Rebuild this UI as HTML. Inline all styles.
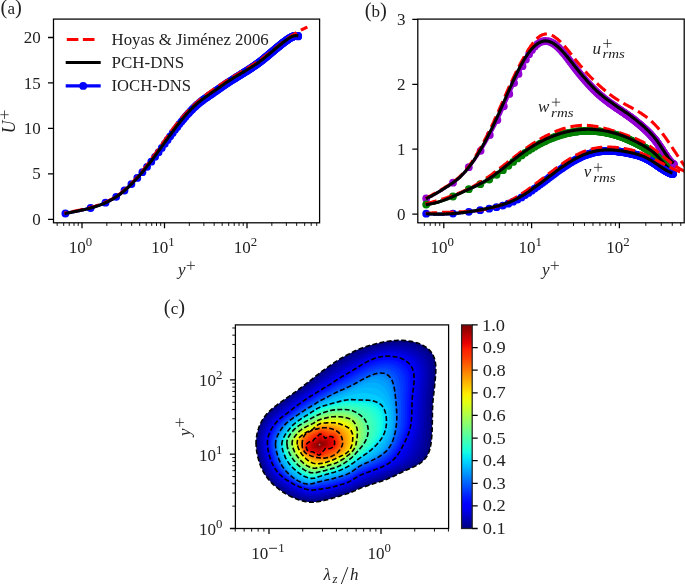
<!DOCTYPE html>
<html><head><meta charset="utf-8"><style>
html,body{margin:0;padding:0;background:#fff;}
svg{display:block;will-change:transform;}
svg{font-family:"Liberation Serif",serif;font-size:17px;fill:#222;}
</style></head><body>
<svg width="685" height="585" viewBox="0 0 685 585">
<rect width="685" height="585" fill="#fff"/>
<g id="pa">
<g fill="#0000ff"><circle cx="65.4" cy="213.5" r="3.9"/><circle cx="90.6" cy="208" r="3.9"/><circle cx="105.5" cy="202.7" r="3.9"/><circle cx="116.2" cy="196.8" r="3.9"/><circle cx="124.5" cy="190.5" r="3.9"/><circle cx="131.4" cy="184.1" r="3.9"/><circle cx="137.3" cy="177.9" r="3.9"/><circle cx="142.4" cy="172.2" r="3.9"/><circle cx="147.1" cy="166.8" r="3.9"/><circle cx="151.3" cy="161.7" r="3.9"/><circle cx="155.1" cy="156.8" r="3.9"/><circle cx="158.6" cy="152.3" r="3.9"/><circle cx="161.8" cy="147.9" r="3.9"/><circle cx="164.8" cy="143.8" r="3.9"/><circle cx="167.6" cy="140" r="3.9"/><circle cx="170.2" cy="136.3" r="3.9"/><circle cx="172.7" cy="133" r="3.9"/><circle cx="175" cy="129.8" r="3.9"/><circle cx="177.3" cy="126.9" r="3.9"/><circle cx="179.4" cy="124.1" r="3.9"/><circle cx="181.5" cy="121.6" r="3.9"/><circle cx="183.4" cy="119.2" r="3.9"/><circle cx="185.3" cy="116.9" r="3.9"/><circle cx="187.1" cy="114.8" r="3.9"/><circle cx="188.9" cy="112.9" r="3.9"/><circle cx="190.6" cy="111.1" r="3.9"/><circle cx="192.2" cy="109.4" r="3.9"/><circle cx="193.8" cy="107.8" r="3.9"/><circle cx="195.3" cy="106.4" r="3.9"/><circle cx="196.8" cy="105" r="3.9"/><circle cx="198.3" cy="103.8" r="3.9"/><circle cx="199.7" cy="102.6" r="3.9"/><circle cx="201.1" cy="101.5" r="3.9"/><circle cx="202.4" cy="100.5" r="3.9"/><circle cx="203.7" cy="99.5" r="3.9"/><circle cx="205" cy="98.6" r="3.9"/><circle cx="206.2" cy="97.7" r="3.9"/><circle cx="207.5" cy="96.9" r="3.9"/><circle cx="208.6" cy="96" r="3.9"/><circle cx="209.8" cy="95.2" r="3.9"/><circle cx="211" cy="94.4" r="3.9"/><circle cx="212.1" cy="93.7" r="3.9"/><circle cx="213.2" cy="92.9" r="3.9"/><circle cx="214.2" cy="92.1" r="3.9"/><circle cx="215.3" cy="91.4" r="3.9"/><circle cx="216.3" cy="90.7" r="3.9"/><circle cx="217.4" cy="89.9" r="3.9"/><circle cx="218.4" cy="89.2" r="3.9"/><circle cx="219.3" cy="88.6" r="3.9"/><circle cx="220.3" cy="87.9" r="3.9"/><circle cx="221.2" cy="87.2" r="3.9"/><circle cx="222.2" cy="86.6" r="3.9"/><circle cx="223.1" cy="85.9" r="3.9"/><circle cx="224" cy="85.3" r="3.9"/><circle cx="224.9" cy="84.7" r="3.9"/><circle cx="225.8" cy="84.1" r="3.9"/><circle cx="226.6" cy="83.5" r="3.9"/><circle cx="227.5" cy="82.9" r="3.9"/><circle cx="228.3" cy="82.4" r="3.9"/><circle cx="229.2" cy="81.8" r="3.9"/><circle cx="230" cy="81.3" r="3.9"/><circle cx="230.8" cy="80.8" r="3.9"/><circle cx="231.6" cy="80.3" r="3.9"/><circle cx="232.4" cy="79.8" r="3.9"/><circle cx="233.1" cy="79.3" r="3.9"/><circle cx="233.9" cy="78.8" r="3.9"/><circle cx="234.7" cy="78.4" r="3.9"/><circle cx="235.4" cy="77.9" r="3.9"/><circle cx="236.1" cy="77.4" r="3.9"/><circle cx="236.9" cy="77" r="3.9"/><circle cx="237.6" cy="76.6" r="3.9"/><circle cx="238.3" cy="76.1" r="3.9"/><circle cx="239" cy="75.7" r="3.9"/><circle cx="239.7" cy="75.3" r="3.9"/><circle cx="240.3" cy="74.8" r="3.9"/><circle cx="241" cy="74.4" r="3.9"/><circle cx="241.7" cy="74" r="3.9"/><circle cx="242.3" cy="73.6" r="3.9"/><circle cx="243" cy="73.2" r="3.9"/><circle cx="243.6" cy="72.8" r="3.9"/><circle cx="244.3" cy="72.4" r="3.9"/><circle cx="244.9" cy="72" r="3.9"/><circle cx="245.5" cy="71.6" r="3.9"/><circle cx="246.1" cy="71.2" r="3.9"/><circle cx="246.8" cy="70.9" r="3.9"/><circle cx="247.4" cy="70.5" r="3.9"/><circle cx="248" cy="70.1" r="3.9"/><circle cx="248.6" cy="69.7" r="3.9"/><circle cx="249.2" cy="69.3" r="3.9"/><circle cx="249.7" cy="69" r="3.9"/><circle cx="250.3" cy="68.6" r="3.9"/><circle cx="250.9" cy="68.2" r="3.9"/><circle cx="251.5" cy="67.8" r="3.9"/><circle cx="252" cy="67.5" r="3.9"/><circle cx="252.6" cy="67.1" r="3.9"/><circle cx="253.1" cy="66.7" r="3.9"/><circle cx="253.7" cy="66.3" r="3.9"/><circle cx="254.2" cy="66" r="3.9"/><circle cx="254.8" cy="65.6" r="3.9"/><circle cx="255.3" cy="65.2" r="3.9"/><circle cx="255.8" cy="64.8" r="3.9"/><circle cx="256.4" cy="64.5" r="3.9"/><circle cx="256.9" cy="64.1" r="3.9"/><circle cx="257.4" cy="63.7" r="3.9"/><circle cx="257.9" cy="63.3" r="3.9"/><circle cx="258.4" cy="63" r="3.9"/><circle cx="258.9" cy="62.6" r="3.9"/><circle cx="259.4" cy="62.2" r="3.9"/><circle cx="259.9" cy="61.8" r="3.9"/><circle cx="260.4" cy="61.4" r="3.9"/><circle cx="260.9" cy="61.1" r="3.9"/><circle cx="261.4" cy="60.7" r="3.9"/><circle cx="261.9" cy="60.3" r="3.9"/><circle cx="262.4" cy="59.9" r="3.9"/><circle cx="262.9" cy="59.5" r="3.9"/><circle cx="263.3" cy="59.1" r="3.9"/><circle cx="263.8" cy="58.8" r="3.9"/><circle cx="264.3" cy="58.4" r="3.9"/><circle cx="264.7" cy="58" r="3.9"/><circle cx="265.2" cy="57.6" r="3.9"/><circle cx="265.6" cy="57.2" r="3.9"/><circle cx="266.1" cy="56.9" r="3.9"/><circle cx="266.6" cy="56.5" r="3.9"/><circle cx="267" cy="56.1" r="3.9"/><circle cx="267.5" cy="55.8" r="3.9"/><circle cx="267.9" cy="55.4" r="3.9"/><circle cx="268.3" cy="55" r="3.9"/><circle cx="268.8" cy="54.7" r="3.9"/><circle cx="269.2" cy="54.3" r="3.9"/><circle cx="269.7" cy="53.9" r="3.9"/><circle cx="270.1" cy="53.6" r="3.9"/><circle cx="270.5" cy="53.2" r="3.9"/><circle cx="270.9" cy="52.8" r="3.9"/><circle cx="271.4" cy="52.5" r="3.9"/><circle cx="271.8" cy="52.1" r="3.9"/><circle cx="272.2" cy="51.8" r="3.9"/><circle cx="272.6" cy="51.4" r="3.9"/><circle cx="273" cy="51.1" r="3.9"/><circle cx="273.4" cy="50.7" r="3.9"/><circle cx="273.8" cy="50.4" r="3.9"/><circle cx="274.2" cy="50.1" r="3.9"/><circle cx="274.6" cy="49.7" r="3.9"/><circle cx="275" cy="49.4" r="3.9"/><circle cx="275.4" cy="49.1" r="3.9"/><circle cx="275.8" cy="48.7" r="3.9"/><circle cx="276.2" cy="48.4" r="3.9"/><circle cx="276.6" cy="48.1" r="3.9"/><circle cx="277" cy="47.7" r="3.9"/><circle cx="277.4" cy="47.4" r="3.9"/><circle cx="277.8" cy="47.1" r="3.9"/><circle cx="278.2" cy="46.8" r="3.9"/><circle cx="278.5" cy="46.5" r="3.9"/><circle cx="278.9" cy="46.2" r="3.9"/><circle cx="279.3" cy="45.9" r="3.9"/><circle cx="279.7" cy="45.6" r="3.9"/><circle cx="280" cy="45.3" r="3.9"/><circle cx="280.4" cy="45" r="3.9"/><circle cx="280.8" cy="44.7" r="3.9"/><circle cx="281.1" cy="44.4" r="3.9"/><circle cx="281.5" cy="44.1" r="3.9"/><circle cx="281.9" cy="43.8" r="3.9"/><circle cx="282.2" cy="43.5" r="3.9"/><circle cx="282.6" cy="43.2" r="3.9"/><circle cx="282.9" cy="43" r="3.9"/><circle cx="283.3" cy="42.7" r="3.9"/><circle cx="283.6" cy="42.4" r="3.9"/><circle cx="284" cy="42.1" r="3.9"/><circle cx="284.3" cy="41.9" r="3.9"/><circle cx="284.7" cy="41.6" r="3.9"/><circle cx="285" cy="41.4" r="3.9"/><circle cx="285.4" cy="41.1" r="3.9"/><circle cx="285.7" cy="40.9" r="3.9"/><circle cx="286.1" cy="40.6" r="3.9"/><circle cx="286.4" cy="40.4" r="3.9"/><circle cx="286.7" cy="40.1" r="3.9"/><circle cx="287.1" cy="39.9" r="3.9"/><circle cx="287.4" cy="39.7" r="3.9"/><circle cx="287.7" cy="39.4" r="3.9"/><circle cx="288.1" cy="39.2" r="3.9"/><circle cx="288.4" cy="39" r="3.9"/><circle cx="288.7" cy="38.8" r="3.9"/><circle cx="289" cy="38.6" r="3.9"/><circle cx="289.4" cy="38.3" r="3.9"/><circle cx="289.7" cy="38.1" r="3.9"/><circle cx="290" cy="38" r="3.9"/><circle cx="290.3" cy="37.8" r="3.9"/><circle cx="290.6" cy="37.6" r="3.9"/><circle cx="291" cy="37.4" r="3.9"/><circle cx="291.3" cy="37.3" r="3.9"/><circle cx="291.6" cy="37.1" r="3.9"/><circle cx="291.9" cy="37" r="3.9"/><circle cx="292.2" cy="36.8" r="3.9"/><circle cx="292.5" cy="36.7" r="3.9"/><circle cx="292.8" cy="36.6" r="3.9"/><circle cx="293.1" cy="36.4" r="3.9"/><circle cx="293.4" cy="36.3" r="3.9"/><circle cx="293.7" cy="36.2" r="3.9"/><circle cx="294" cy="36.2" r="3.9"/><circle cx="294.3" cy="36.1" r="3.9"/><circle cx="294.6" cy="36" r="3.9"/><circle cx="294.9" cy="36" r="3.9"/><circle cx="295.2" cy="35.9" r="3.9"/><circle cx="295.5" cy="35.9" r="3.9"/><circle cx="295.8" cy="35.8" r="3.9"/><circle cx="296.1" cy="35.8" r="3.9"/><circle cx="296.4" cy="35.8" r="3.9"/><circle cx="296.7" cy="35.8" r="3.9"/><circle cx="297" cy="35.8" r="3.9"/><circle cx="297.3" cy="35.9" r="3.9"/><circle cx="297.6" cy="35.9" r="3.9"/><circle cx="297.9" cy="35.9" r="3.9"/><circle cx="298.1" cy="36" r="3.9"/><circle cx="298.1" cy="36.4" r="3.9"/></g>
<path d="M64.6,213.7 65.3,213.6 66,213.4 66.7,213.2 67.4,213.1 68.1,212.9 68.8,212.8 69.5,212.7 70.2,212.5 70.9,212.4 71.6,212.2 72.3,212.1 73,211.9 73.7,211.8 74.4,211.6 75.1,211.5 75.8,211.4 76.5,211.2 77.2,211.1 77.9,210.9 78.6,210.8 79.3,210.6 80,210.5 80.7,210.3 81.4,210.2 82.1,210 82.8,209.9 83.5,209.7 84.2,209.6 84.9,209.4 85.6,209.2 86.3,209.1 87,208.9 87.7,208.7 88.4,208.6 89.1,208.4 89.8,208.2 90.5,208 91.2,207.8 91.9,207.6 92.6,207.4 93.3,207.2 94,207 94.7,206.8 95.4,206.6 96.1,206.3 96.8,206.1 97.5,205.9 98.2,205.6 98.9,205.4 99.6,205.1 100.3,204.9 101,204.6 101.7,204.3 102.4,204 103.1,203.8 103.8,203.5 104.5,203.2 105.2,202.8 105.9,202.5 106.6,202.2 107.3,201.9 108,201.5 108.7,201.2 109.4,200.8 110.1,200.4 110.8,200 111.5,199.7 112.2,199.3 112.9,198.9 113.6,198.4 114.3,198 115,197.6 115.7,197.1 116.4,196.7 117.1,196.2 117.8,195.7 118.5,195.2 119.2,194.7 119.9,194.2 120.6,193.7 121.3,193.1 122,192.6 122.7,192 123.4,191.5 124.1,190.9 124.8,190.3 125.5,189.7 126.2,189 126.9,188.4 127.6,187.8 128.3,187.1 129,186.4 129.7,185.8 130.4,185.1 131.1,184.4 131.8,183.7 132.5,183 133.2,182.3 133.9,181.5 134.6,180.8 135.3,180 136,179.3 136.7,178.5 137.4,177.8 138.1,177 138.8,176.2 139.5,175.4 140.2,174.6 140.9,173.9 141.6,173.1 142.3,172.3 143.1,171.5 143.8,170.7 144.5,169.8 145.2,169 145.9,168.2 146.6,167.3 147.3,166.5 148.1,165.6 148.8,164.7 149.5,163.9 150.2,163 150.9,162.1 151.6,161.2 152.3,160.3 153.1,159.4 153.8,158.5 154.5,157.6 155.2,156.7 155.9,155.7 156.6,154.8 157.3,153.9 158.1,153 158.8,152 159.5,151.1 160.2,150.2 160.9,149.2 161.6,148.2 162.3,147.3 163,146.3 163.7,145.3 164.4,144.3 165.1,143.4 165.8,142.4 166.5,141.4 167.2,140.5 167.9,139.5 168.6,138.5 169.3,137.6 170,136.6 170.7,135.7 171.4,134.7 172.1,133.7 172.8,132.8 173.5,131.9 174.2,130.9 174.9,130 175.6,129.1 176.3,128.1 177,127.2 177.7,126.3 178.4,125.4 179.1,124.5 179.8,123.6 180.5,122.7 181.2,121.9 181.9,121 182.6,120.2 183.3,119.3 184,118.5 184.7,117.6 185.4,116.8 186.1,116 186.8,115.2 187.5,114.4 188.2,113.6 188.9,112.9 189.6,112.1 190.3,111.4 191,110.6 191.7,109.9 192.4,109.2 193.1,108.5 193.8,107.8 194.5,107.2 195.2,106.5 195.9,105.9 196.6,105.2 197.3,104.6 198,104 198.7,103.5 199.4,102.9 200.1,102.3 200.8,101.8 201.5,101.2 202.2,100.7 202.9,100.1 203.6,99.6 204.3,99.1 205,98.6 205.7,98.1 206.4,97.6 207.1,97.1 207.8,96.6 208.5,96.1 209.2,95.6 209.9,95.2 210.6,94.7 211.3,94.2 212,93.7 212.7,93.2 213.4,92.7 214.1,92.2 214.8,91.7 215.5,91.3 216.2,90.8 216.9,90.3 217.6,89.8 218.3,89.3 219,88.8 219.7,88.3 220.4,87.8 221.1,87.3 221.8,86.8 222.5,86.3 223.2,85.9 223.9,85.4 224.6,84.9 225.3,84.4 226,83.9 226.7,83.5 227.4,83 228.1,82.5 228.8,82.1 229.5,81.6 230.2,81.1 230.9,80.7 231.6,80.3 232.3,79.8 233,79.4 233.7,78.9 234.4,78.5 235.1,78.1 235.8,77.7 236.5,77.2 237.2,76.8 237.9,76.4 238.6,75.9 239.3,75.5 240,75.1 240.7,74.6 241.3,74.2 242,73.8 242.7,73.4 243.4,72.9 244.1,72.5 244.8,72.1 245.5,71.6 246.2,71.2 246.9,70.8 247.6,70.3 248.3,69.9 249,69.5 249.7,69 250.4,68.6 251.1,68.1 251.7,67.6 252.4,67.2 253.1,66.7 253.8,66.2 254.5,65.8 255.2,65.3 255.9,64.8 256.6,64.3 257.3,63.8 258,63.3 258.7,62.8 259.4,62.3 260.1,61.7 260.8,61.2 261.5,60.7 262.1,60.1 262.8,59.5 263.5,59 264.2,58.4 264.9,57.8 265.6,57.3 266.3,56.7 267,56.1 267.7,55.5 268.4,55 269.1,54.4 269.8,53.8 270.5,53.2 271.2,52.6 271.9,52 272.6,51.4 273.3,50.8 274,50.2 274.7,49.7 275.4,49.1 276.1,48.5 276.8,47.9 277.5,47.3 278.2,46.7 278.9,46.2 279.6,45.6 280.3,45 281,44.5 281.7,43.9 282.4,43.4 283.1,42.8 283.8,42.3 284.5,41.8 285.2,41.2 285.9,40.7 286.6,40.2 287.3,39.7 288,39.2 288.7,38.8 289.4,38.3 290.1,37.9 290.8,37.5 291.5,37.1 292.2,36.8 292.9,36.5 293.6,36.3 294.3,36.1 295,35.9 295.7,35.8 296.4,35.8 297.1,35.8 297.8,35.9 298.5,36.1" fill="none" stroke="#0000ff" stroke-width="3.1"/>
<path d="M64.4,213.3 65.1,213.1 65.8,213 66.5,212.8 67.2,212.7 67.9,212.5 68.6,212.4 69.3,212.2 70,212.1 70.7,211.9 71.4,211.8 72.1,211.6 72.8,211.5 73.5,211.3 74.2,211.2 74.9,211.1 75.6,210.9 76.3,210.8 77,210.6 77.7,210.5 78.4,210.3 79.1,210.2 79.8,210.1 80.5,209.9 81.2,209.8 81.9,209.6 82.6,209.5 83.3,209.3 84,209.2 84.7,209 85.4,208.8 86.1,208.7 86.8,208.5 87.5,208.3 88.2,208.2 88.9,208 89.6,207.8 90.3,207.6 91,207.4 91.7,207.2 92.4,207 93.1,206.8 93.8,206.6 94.5,206.4 95.2,206.2 95.9,206 96.6,205.8 97.3,205.5 98,205.3 98.7,205 99.4,204.8 100.1,204.5 100.8,204.3 101.5,204 102.2,203.7 102.9,203.4 103.6,203.1 104.3,202.8 105,202.5 105.7,202.2 106.4,201.9 107.1,201.5 107.8,201.2 108.5,200.9 109.2,200.5 109.9,200.1 110.6,199.7 111.3,199.4 112,199 112.7,198.6 113.4,198.1 114.1,197.7 114.8,197.3 115.5,196.8 116.2,196.4 116.9,195.9 117.6,195.4 118.3,194.9 119,194.4 119.7,193.9 120.4,193.4 121.1,192.8 121.8,192.3 122.5,191.7 123.2,191.1 123.9,190.5 124.6,189.9 125.3,189.3 126,188.7 126.7,188 127.4,187.4 128.1,186.7 128.8,186.1 129.5,185.4 130.2,184.7 130.9,184 131.6,183.3 132.3,182.5 133,181.8 133.7,181 134.4,180.3 135.1,179.5 135.8,178.7 136.5,178 137.2,177.2 137.9,176.4 138.6,175.5 139.3,174.7 140,173.9 140.7,173 141.4,172.2 142.1,171.3 142.8,170.5 143.5,169.6 144.2,168.7 144.9,167.8 145.6,166.9 146.3,166 147,165.1 147.7,164.1 148.4,163.2 149.1,162.2 149.8,161.3 150.5,160.3 151.2,159.4 151.9,158.4 152.6,157.4 153.3,156.4 154,155.5 154.7,154.5 155.4,153.5 156.2,152.5 156.9,151.5 157.6,150.5 158.3,149.5 159,148.4 159.7,147.4 160.4,146.4 161.1,145.4 161.8,144.4 162.5,143.4 163.2,142.4 163.9,141.4 164.6,140.4 165.3,139.4 166,138.4 166.7,137.4 167.4,136.4 168.1,135.4 168.8,134.5 169.5,133.5 170.2,132.5 170.9,131.6 171.6,130.6 172.3,129.7 173,128.7 173.7,127.8 174.4,126.9 175.1,125.9 175.8,125 176.5,124.2 177.2,123.3 177.9,122.4 178.6,121.5 179.3,120.7 180,119.8 180.7,119 181.4,118.2 182.1,117.4 182.8,116.6 183.5,115.8 184.2,115 184.9,114.2 185.6,113.5 186.3,112.7 187,112 187.7,111.2 188.4,110.5 189.1,109.8 189.8,109.1 190.5,108.4 191.2,107.7 191.9,107 192.6,106.3 193.3,105.7 194,105 194.7,104.3 195.4,103.7 196.1,103.1 196.8,102.4 197.5,101.8 198.2,101.2 198.9,100.6 199.6,100 200.3,99.4 201,98.8 201.7,98.2 202.4,97.6 203.1,97.1 203.8,96.5 204.5,95.9 205.2,95.4 205.9,94.8 206.6,94.3 207.3,93.8 208,93.2 208.7,92.7 209.4,92.2 210.1,91.7 210.8,91.2 211.5,90.7 212.2,90.2 212.9,89.7 213.6,89.2 214.3,88.7 215,88.2 215.7,87.7 216.4,87.3 217.1,86.8 217.8,86.3 218.5,85.9 219.2,85.4 219.9,84.9 220.6,84.5 221.3,84 222,83.6 222.7,83.1 223.4,82.7 224.1,82.3 224.8,81.8 225.5,81.4 226.2,81 226.9,80.5 227.6,80.1 228.3,79.7 229,79.3 229.7,78.8 230.4,78.4 231.1,78 231.8,77.6 232.5,77.2 233.2,76.7 233.9,76.3 234.6,75.9 235.3,75.5 236,75.1 236.7,74.7 237.4,74.3 238.1,73.8 238.8,73.4 239.5,73 240.2,72.6 240.9,72.2 241.6,71.8 242.3,71.4 243,70.9 243.7,70.5 244.4,70.1 245.1,69.7 245.8,69.3 246.5,68.8 247.2,68.4 247.9,68 248.6,67.5 249.3,67.1 250,66.7 250.7,66.2 251.4,65.8 252.1,65.3 252.8,64.9 253.5,64.4 254.2,64 254.9,63.5 255.6,63 256.3,62.6 257,62.1 257.7,61.6 258.4,61.1 259.1,60.7 259.8,60.2 260.5,59.7 261.2,59.2 261.9,58.7 262.6,58.1 263.3,57.6 264,57.1 264.7,56.6 265.4,56 266.1,55.5 266.8,55 267.5,54.4 268.2,53.9 268.9,53.4 269.6,52.8 270.3,52.3 271,51.7 271.7,51.1 272.4,50.6 273.1,50 273.8,49.5 274.5,48.9 275.2,48.4 275.9,47.8 276.6,47.3 277.3,46.7 278,46.1 278.7,45.6 279.4,45 280.1,44.5 280.8,43.9 281.5,43.4 282.2,42.8 282.9,42.3 283.6,41.8 284.3,41.2 285,40.7 285.7,40.2 286.4,39.7 287.1,39.1 287.8,38.6 288.5,38.1 289.2,37.6 289.9,37.1 290.6,36.6 291.3,36.1 292,35.6 292.7,35.2 293.4,34.7 294.1,34.2 294.8,33.8 295.5,33.3 296.2,32.9 296.9,32.5 297.6,32 298.3,31.6 299,31.2 299.7,30.8 300.4,30.4 301.1,30 301.8,29.7 302.5,29.3 303.2,29 303.9,28.6 304.6,28.3 305.3,28 306,27.7 306.7,27.4 307.4,27.1" fill="none" stroke="#ff0000" stroke-width="3.1" stroke-dasharray="11.6 5" stroke-dashoffset="9.02"/>
<path d="M64.6,213.7 65.3,213.6 66,213.4 66.7,213.2 67.4,213.1 68.1,212.9 68.8,212.8 69.5,212.7 70.2,212.5 70.9,212.4 71.6,212.2 72.3,212.1 73,211.9 73.7,211.8 74.4,211.6 75.1,211.5 75.8,211.4 76.5,211.2 77.2,211.1 77.9,210.9 78.6,210.8 79.3,210.6 80,210.5 80.7,210.3 81.4,210.2 82.1,210 82.8,209.9 83.5,209.7 84.2,209.6 84.9,209.4 85.6,209.2 86.3,209.1 87,208.9 87.7,208.7 88.4,208.6 89.1,208.4 89.8,208.2 90.5,208 91.2,207.8 91.9,207.6 92.6,207.4 93.3,207.2 94,207 94.7,206.8 95.4,206.6 96.1,206.3 96.8,206.1 97.5,205.9 98.2,205.6 98.9,205.4 99.6,205.1 100.3,204.9 101,204.6 101.7,204.3 102.4,204 103.1,203.8 103.8,203.5 104.5,203.2 105.2,202.8 105.9,202.5 106.6,202.2 107.3,201.9 108,201.5 108.7,201.2 109.4,200.8 110.1,200.4 110.8,200 111.5,199.7 112.2,199.3 112.9,198.9 113.6,198.4 114.3,198 115,197.6 115.7,197.1 116.4,196.7 117.1,196.2 117.8,195.7 118.5,195.2 119.2,194.7 119.9,194.2 120.6,193.7 121.3,193.1 122,192.6 122.7,192 123.4,191.5 124.1,190.9 124.8,190.3 125.5,189.7 126.2,189 126.9,188.4 127.6,187.8 128.3,187.1 129,186.4 129.7,185.8 130.4,185.1 131.1,184.4 131.8,183.7 132.5,183 133.2,182.3 133.9,181.5 134.6,180.8 135.3,180 136,179.3 136.7,178.5 137.4,177.8 138.1,177 138.8,176.2 139.5,175.4 140.2,174.6 140.9,173.8 141.6,173 142.3,172.2 143,171.3 143.7,170.5 144.4,169.6 145.1,168.8 145.8,167.9 146.5,167 147.2,166.1 147.9,165.3 148.6,164.4 149.3,163.4 150,162.5 150.7,161.6 151.4,160.7 152.1,159.8 152.8,158.8 153.5,157.9 154.2,156.9 154.9,156 155.6,155 156.3,154.1 157,153.1 157.7,152.2 158.4,151.2 159.1,150.2 159.8,149.3 160.5,148.3 161.2,147.3 161.9,146.4 162.6,145.4 163.3,144.4 164,143.4 164.7,142.5 165.4,141.5 166.1,140.5 166.8,139.6 167.5,138.6 168.2,137.6 168.9,136.7 169.6,135.7 170.3,134.8 171,133.8 171.7,132.8 172.4,131.9 173.1,131 173.8,130 174.5,129.1 175.2,128.2 175.9,127.2 176.6,126.3 177.3,125.4 178,124.5 178.7,123.6 179.4,122.7 180.1,121.8 180.8,121 181.5,120.1 182.2,119.3 182.9,118.4 183.6,117.6 184.3,116.7 185,115.9 185.7,115.1 186.4,114.3 187.1,113.5 187.8,112.7 188.5,112 189.2,111.2 189.9,110.5 190.6,109.7 191.3,109 192,108.3 192.7,107.6 193.4,106.9 194.1,106.3 194.8,105.6 195.5,105 196.2,104.3 196.9,103.7 197.6,103.1 198.3,102.6 199,102 199.7,101.4 200.4,100.9 201.1,100.3 201.8,99.8 202.5,99.2 203.2,98.7 203.9,98.2 204.6,97.7 205.3,97.2 206,96.7 206.7,96.2 207.4,95.7 208.1,95.2 208.8,94.7 209.5,94.3 210.2,93.8 210.9,93.3 211.6,92.8 212.3,92.3 213,91.8 213.7,91.3 214.4,90.8 215.1,90.4 215.8,89.9 216.5,89.4 217.2,88.9 217.9,88.4 218.6,87.9 219.3,87.4 220,86.9 220.7,86.4 221.4,85.9 222.1,85.4 222.8,85 223.5,84.5 224.2,84 224.9,83.5 225.6,83 226.3,82.6 227,82.1 227.7,81.6 228.4,81.2 229.1,80.7 229.8,80.2 230.5,79.8 231.2,79.4 231.9,78.9 232.6,78.5 233.3,78 234,77.6 234.7,77.2 235.4,76.8 236.1,76.3 236.8,75.9 237.5,75.5 238.2,75.1 238.9,74.7 239.6,74.3 240.3,73.9 241,73.4 241.7,73 242.4,72.6 243.1,72.2 243.8,71.8 244.5,71.4 245.2,71 245.9,70.5 246.6,70.1 247.3,69.7 248,69.3 248.7,68.8 249.4,68.4 250.1,68 250.8,67.5 251.5,67.1 252.2,66.6 252.9,66.2 253.6,65.7 254.3,65.3 255,64.8 255.7,64.3 256.4,63.9 257.1,63.4 257.8,62.9 258.5,62.4 259.2,61.9 259.9,61.4 260.6,60.8 261.3,60.3 262,59.8 262.7,59.2 263.4,58.7 264.1,58.1 264.8,57.6 265.5,57 266.2,56.4 266.9,55.8 267.6,55.3 268.3,54.7 269,54.1 269.7,53.5 270.4,52.9 271.1,52.3 271.8,51.7 272.5,51.2 273.2,50.6 273.9,50 274.6,49.4 275.3,48.8 276,48.2 276.7,47.6 277.4,47.1 278.1,46.5 278.8,45.9 279.5,45.3 280.2,44.8 280.9,44.2 281.6,43.6 282.3,43.1 283,42.5 283.7,42 284.4,41.5 285.1,41 285.8,40.4 286.5,39.9 287.2,39.4 287.9,39 288.6,38.5 289.3,38 290,37.6 290.7,37.2 291.4,36.9 292.1,36.5 292.8,36.3 293.5,36 294.2,35.8 294.9,35.7 295.6,35.6 296.3,35.5 297,35.6 297.7,35.7 298.4,35.8" fill="none" stroke="#000" stroke-width="3.1" stroke-linecap="butt"/>
</g>
<path d="M66.8,39.5 H78.4 M82.9,39.5 H94.5" stroke="#ff0000" stroke-width="3.1"/>
<path d="M65.7,62.5 H100.7" stroke="#000" stroke-width="3.1"/>
<path d="M65.7,85.9 H100.7" stroke="#0000ff" stroke-width="3.1"/><circle cx="83.2" cy="85.9" r="3.9" fill="#0000ff"/>
<text x="111.6" y="45.30" textLength="157.10" lengthAdjust="spacingAndGlyphs">Hoyas &amp; Jiménez 2006</text>
<text x="111.6" y="68.40" textLength="72.50" lengthAdjust="spacingAndGlyphs">PCH-DNS</text>
<text x="111.6" y="91.20" textLength="79.30" lengthAdjust="spacingAndGlyphs">IOCH-DNS</text>
<rect x="53.50" y="19.10" width="266.10" height="203.70" fill="none" stroke="#000" stroke-width="1.26"/>
<path d="M82.00,222.80 v5.50 M164.50,222.80 v5.50 M247.00,222.80 v5.50" stroke="#000" stroke-width="1.26"/>
<path d="M57.17,222.80 v3.10 M63.70,222.80 v3.10 M69.22,222.80 v3.10 M74.00,222.80 v3.10 M78.23,222.80 v3.10 M106.83,222.80 v3.10 M121.36,222.80 v3.10 M131.67,222.80 v3.10 M139.67,222.80 v3.10 M146.20,222.80 v3.10 M151.72,222.80 v3.10 M156.50,222.80 v3.10 M160.73,222.80 v3.10 M189.33,222.80 v3.10 M203.86,222.80 v3.10 M214.17,222.80 v3.10 M222.17,222.80 v3.10 M228.70,222.80 v3.10 M234.22,222.80 v3.10 M239.00,222.80 v3.10 M243.23,222.80 v3.10 M271.83,222.80 v3.10 M286.36,222.80 v3.10 M296.67,222.80 v3.10 M304.67,222.80 v3.10 M311.20,222.80 v3.10 M316.72,222.80 v3.10" stroke="#000" stroke-width="0.94"/>
<path d="M53.50,219.30 h-5.50 M53.50,173.85 h-5.50 M53.50,128.40 h-5.50 M53.50,82.95 h-5.50 M53.50,37.50 h-5.50" stroke="#000" stroke-width="1.26"/>
<text x="40.70" y="224.90" font-size="17" text-anchor="end">0</text>
<text x="40.70" y="179.45" font-size="17" text-anchor="end">5</text>
<text x="40.70" y="134.00" font-size="17" text-anchor="end">10</text>
<text x="40.70" y="88.55" font-size="17" text-anchor="end">15</text>
<text x="40.70" y="43.10" font-size="17" text-anchor="end">20</text>
<text x="80.50" y="252.60" text-anchor="middle">10<tspan dy="-7" font-size="12.8">0</tspan></text>
<text x="163.00" y="252.60" text-anchor="middle">10<tspan dy="-7" font-size="12.8">1</tspan></text>
<text x="245.50" y="252.60" text-anchor="middle">10<tspan dy="-7" font-size="12.8">2</tspan></text>
<text x="178.1" y="274.8" font-style="italic">y</text>
<path d="M186.65,265.50h8.30M190.80,261.25v8.50" stroke="#2a2a2a" stroke-width="0.8"/>
<text transform="translate(15.0,127.0) rotate(-90) scale(0.9,1)" text-anchor="middle" font-style="italic" font-size="19.5">U</text>
<path d="M0.35,114.70h8.30M4.50,110.45v8.50" stroke="#2a2a2a" stroke-width="0.8"/>
<text x="0.60" y="14.40"><tspan font-size="20.5">(</tspan>a<tspan font-size="20.5">)</tspan></text>
<g id="pb"><clipPath id="cb"><rect x="417.80" y="19.10" width="266.40" height="203.70"/></clipPath><g clip-path="url(#cb)">
<g fill="#9400d3"><circle cx="426.2" cy="198.5" r="3.9"/><circle cx="453" cy="182.7" r="3.9"/><circle cx="468.8" cy="167.2" r="3.9"/><circle cx="480.6" cy="150.8" r="3.9"/><circle cx="489.8" cy="135" r="3.9"/><circle cx="497.4" cy="120.1" r="3.9"/><circle cx="503.8" cy="106.3" r="3.9"/><circle cx="509.3" cy="93.9" r="3.9"/><circle cx="514.1" cy="83.1" r="3.9"/><circle cx="518.5" cy="73.9" r="3.9"/><circle cx="522.5" cy="66.2" r="3.9"/><circle cx="525.9" cy="59.6" r="3.9"/><circle cx="529.1" cy="54.2" r="3.9"/><circle cx="532" cy="49.9" r="3.9"/><circle cx="534.8" cy="46.6" r="3.9"/><circle cx="537.4" cy="44.1" r="3.9"/><circle cx="539.9" cy="42.3" r="3.9"/><circle cx="542.4" cy="41.4" r="3.9"/><circle cx="544.8" cy="41" r="3.9"/><circle cx="547" cy="41.1" r="3.9"/><circle cx="549.2" cy="41.5" r="3.9"/><circle cx="551.3" cy="42.3" r="3.9"/><circle cx="553.3" cy="43.4" r="3.9"/><circle cx="555.3" cy="44.7" r="3.9"/><circle cx="557.1" cy="46.3" r="3.9"/><circle cx="558.9" cy="48" r="3.9"/><circle cx="560.7" cy="49.8" r="3.9"/><circle cx="562.4" cy="51.7" r="3.9"/><circle cx="564" cy="53.6" r="3.9"/><circle cx="565.6" cy="55.6" r="3.9"/><circle cx="567.1" cy="57.5" r="3.9"/><circle cx="568.6" cy="59.5" r="3.9"/><circle cx="570.1" cy="61.4" r="3.9"/><circle cx="571.5" cy="63.3" r="3.9"/><circle cx="572.9" cy="65.2" r="3.9"/><circle cx="574.3" cy="67" r="3.9"/><circle cx="575.6" cy="68.7" r="3.9"/><circle cx="576.9" cy="70.3" r="3.9"/><circle cx="578.2" cy="71.9" r="3.9"/><circle cx="579.4" cy="73.4" r="3.9"/><circle cx="580.6" cy="74.9" r="3.9"/><circle cx="581.8" cy="76.3" r="3.9"/><circle cx="583" cy="77.7" r="3.9"/><circle cx="584.1" cy="79" r="3.9"/><circle cx="585.2" cy="80.3" r="3.9"/><circle cx="586.3" cy="81.6" r="3.9"/><circle cx="587.4" cy="82.8" r="3.9"/><circle cx="588.5" cy="83.9" r="3.9"/><circle cx="589.5" cy="85.1" r="3.9"/><circle cx="590.6" cy="86.2" r="3.9"/><circle cx="591.6" cy="87.2" r="3.9"/><circle cx="592.6" cy="88.3" r="3.9"/><circle cx="593.5" cy="89.2" r="3.9"/><circle cx="594.5" cy="90.2" r="3.9"/><circle cx="595.5" cy="91.1" r="3.9"/><circle cx="596.4" cy="92" r="3.9"/><circle cx="597.3" cy="92.9" r="3.9"/><circle cx="598.2" cy="93.7" r="3.9"/><circle cx="599.1" cy="94.5" r="3.9"/><circle cx="600" cy="95.3" r="3.9"/><circle cx="600.9" cy="96" r="3.9"/><circle cx="601.7" cy="96.7" r="3.9"/><circle cx="602.6" cy="97.4" r="3.9"/><circle cx="603.4" cy="98.1" r="3.9"/><circle cx="604.2" cy="98.8" r="3.9"/><circle cx="605" cy="99.4" r="3.9"/><circle cx="605.8" cy="100" r="3.9"/><circle cx="606.6" cy="100.6" r="3.9"/><circle cx="607.4" cy="101.2" r="3.9"/><circle cx="608.2" cy="101.8" r="3.9"/><circle cx="609" cy="102.4" r="3.9"/><circle cx="609.7" cy="102.9" r="3.9"/><circle cx="610.5" cy="103.5" r="3.9"/><circle cx="611.2" cy="104" r="3.9"/><circle cx="611.9" cy="104.5" r="3.9"/><circle cx="612.7" cy="105" r="3.9"/><circle cx="613.4" cy="105.5" r="3.9"/><circle cx="614.1" cy="106" r="3.9"/><circle cx="614.8" cy="106.5" r="3.9"/><circle cx="615.5" cy="106.9" r="3.9"/><circle cx="616.2" cy="107.4" r="3.9"/><circle cx="616.8" cy="107.9" r="3.9"/><circle cx="617.5" cy="108.3" r="3.9"/><circle cx="618.2" cy="108.8" r="3.9"/><circle cx="618.8" cy="109.2" r="3.9"/><circle cx="619.5" cy="109.7" r="3.9"/><circle cx="620.1" cy="110.1" r="3.9"/><circle cx="620.8" cy="110.5" r="3.9"/><circle cx="621.4" cy="110.9" r="3.9"/><circle cx="622" cy="111.4" r="3.9"/><circle cx="622.7" cy="111.8" r="3.9"/><circle cx="623.3" cy="112.2" r="3.9"/><circle cx="623.9" cy="112.6" r="3.9"/><circle cx="624.5" cy="113" r="3.9"/><circle cx="625.1" cy="113.5" r="3.9"/><circle cx="625.7" cy="113.9" r="3.9"/><circle cx="626.3" cy="114.3" r="3.9"/><circle cx="626.9" cy="114.7" r="3.9"/><circle cx="627.4" cy="115.1" r="3.9"/><circle cx="628" cy="115.5" r="3.9"/><circle cx="628.6" cy="115.9" r="3.9"/><circle cx="629.2" cy="116.3" r="3.9"/><circle cx="629.7" cy="116.7" r="3.9"/><circle cx="630.3" cy="117.1" r="3.9"/><circle cx="630.8" cy="117.5" r="3.9"/><circle cx="631.4" cy="117.9" r="3.9"/><circle cx="631.9" cy="118.3" r="3.9"/><circle cx="632.5" cy="118.7" r="3.9"/><circle cx="633" cy="119.1" r="3.9"/><circle cx="633.5" cy="119.5" r="3.9"/><circle cx="634.1" cy="119.9" r="3.9"/><circle cx="634.6" cy="120.3" r="3.9"/><circle cx="635.1" cy="120.7" r="3.9"/><circle cx="635.6" cy="121.2" r="3.9"/><circle cx="636.1" cy="121.6" r="3.9"/><circle cx="636.6" cy="122" r="3.9"/><circle cx="637.1" cy="122.4" r="3.9"/><circle cx="637.6" cy="122.8" r="3.9"/><circle cx="638.1" cy="123.2" r="3.9"/><circle cx="638.6" cy="123.6" r="3.9"/><circle cx="639.1" cy="124" r="3.9"/><circle cx="639.6" cy="124.4" r="3.9"/><circle cx="640.1" cy="124.8" r="3.9"/><circle cx="640.6" cy="125.2" r="3.9"/><circle cx="641" cy="125.6" r="3.9"/><circle cx="641.5" cy="126" r="3.9"/><circle cx="642" cy="126.5" r="3.9"/><circle cx="642.5" cy="126.9" r="3.9"/><circle cx="642.9" cy="127.3" r="3.9"/><circle cx="643.4" cy="127.7" r="3.9"/><circle cx="643.8" cy="128.1" r="3.9"/><circle cx="644.3" cy="128.5" r="3.9"/><circle cx="644.7" cy="128.9" r="3.9"/><circle cx="645.2" cy="129.3" r="3.9"/><circle cx="645.6" cy="129.7" r="3.9"/><circle cx="646.1" cy="130.2" r="3.9"/><circle cx="646.5" cy="130.6" r="3.9"/><circle cx="647" cy="131" r="3.9"/><circle cx="647.4" cy="131.4" r="3.9"/><circle cx="647.8" cy="131.8" r="3.9"/><circle cx="648.3" cy="132.3" r="3.9"/><circle cx="648.7" cy="132.7" r="3.9"/><circle cx="649.1" cy="133.1" r="3.9"/><circle cx="649.5" cy="133.6" r="3.9"/><circle cx="650" cy="134" r="3.9"/><circle cx="650.4" cy="134.4" r="3.9"/><circle cx="650.8" cy="134.9" r="3.9"/><circle cx="651.2" cy="135.3" r="3.9"/><circle cx="651.6" cy="135.8" r="3.9"/><circle cx="652" cy="136.2" r="3.9"/><circle cx="652.4" cy="136.7" r="3.9"/><circle cx="652.8" cy="137.2" r="3.9"/><circle cx="653.2" cy="137.6" r="3.9"/><circle cx="653.6" cy="138.1" r="3.9"/><circle cx="654" cy="138.6" r="3.9"/><circle cx="654.4" cy="139.1" r="3.9"/><circle cx="654.8" cy="139.5" r="3.9"/><circle cx="655.2" cy="140" r="3.9"/><circle cx="655.6" cy="140.5" r="3.9"/><circle cx="656" cy="141" r="3.9"/><circle cx="656.4" cy="141.5" r="3.9"/><circle cx="656.8" cy="142" r="3.9"/><circle cx="657.1" cy="142.6" r="3.9"/><circle cx="657.5" cy="143.1" r="3.9"/><circle cx="657.9" cy="143.6" r="3.9"/><circle cx="658.3" cy="144.1" r="3.9"/><circle cx="658.6" cy="144.7" r="3.9"/><circle cx="659" cy="145.2" r="3.9"/><circle cx="659.4" cy="145.8" r="3.9"/><circle cx="659.7" cy="146.3" r="3.9"/><circle cx="660.1" cy="146.9" r="3.9"/><circle cx="660.5" cy="147.4" r="3.9"/><circle cx="660.8" cy="148" r="3.9"/><circle cx="661.2" cy="148.5" r="3.9"/><circle cx="661.6" cy="149.1" r="3.9"/><circle cx="661.9" cy="149.6" r="3.9"/><circle cx="662.3" cy="150.2" r="3.9"/><circle cx="662.6" cy="150.7" r="3.9"/><circle cx="663" cy="151.3" r="3.9"/><circle cx="663.3" cy="151.8" r="3.9"/><circle cx="663.7" cy="152.4" r="3.9"/><circle cx="664" cy="152.9" r="3.9"/><circle cx="664.4" cy="153.5" r="3.9"/><circle cx="664.7" cy="154" r="3.9"/><circle cx="665" cy="154.5" r="3.9"/><circle cx="665.4" cy="155" r="3.9"/><circle cx="665.7" cy="155.5" r="3.9"/><circle cx="666.1" cy="156" r="3.9"/><circle cx="666.4" cy="156.5" r="3.9"/><circle cx="666.7" cy="157" r="3.9"/><circle cx="667.1" cy="157.5" r="3.9"/><circle cx="667.4" cy="158" r="3.9"/><circle cx="667.7" cy="158.4" r="3.9"/><circle cx="668" cy="158.9" r="3.9"/><circle cx="668.4" cy="159.3" r="3.9"/><circle cx="668.7" cy="159.7" r="3.9"/><circle cx="669" cy="160.1" r="3.9"/><circle cx="669.3" cy="160.5" r="3.9"/><circle cx="669.7" cy="160.9" r="3.9"/><circle cx="670" cy="161.3" r="3.9"/><circle cx="670.3" cy="161.6" r="3.9"/><circle cx="670.6" cy="162" r="3.9"/><circle cx="670.9" cy="162.3" r="3.9"/><circle cx="671.2" cy="162.6" r="3.9"/><circle cx="671.6" cy="162.9" r="3.9"/><circle cx="671.9" cy="163.2" r="3.9"/><circle cx="672.2" cy="163.4" r="3.9"/><circle cx="672.5" cy="163.7" r="3.9"/><circle cx="672.8" cy="163.9" r="3.9"/><circle cx="673.1" cy="164.1" r="3.9"/><circle cx="673.4" cy="164.3" r="3.9"/><circle cx="673.7" cy="164.4" r="3.9"/><circle cx="674" cy="164.5" r="3.9"/></g><path d="M425.9,198.6 426.6,198.3 427.3,198 428,197.7 428.7,197.4 429.4,197 430.1,196.7 430.8,196.3 431.5,196 432.2,195.6 432.9,195.2 433.6,194.8 434.3,194.4 435,194.1 435.7,193.7 436.4,193.2 437.1,192.8 437.8,192.4 438.5,192 439.2,191.6 439.9,191.2 440.6,190.7 441.3,190.3 442,189.9 442.7,189.4 443.4,189 444.1,188.5 444.8,188.1 445.5,187.6 446.2,187.2 446.9,186.8 447.6,186.3 448.3,185.9 449,185.4 449.7,184.9 450.4,184.5 451.1,184 451.8,183.5 452.5,183 453.2,182.5 453.9,182 454.6,181.5 455.3,181 456,180.4 456.7,179.9 457.4,179.3 458.1,178.7 458.8,178.1 459.5,177.5 460.2,176.8 460.9,176.1 461.6,175.4 462.3,174.7 463,174 463.7,173.3 464.4,172.5 465.1,171.7 465.8,170.9 466.5,170.1 467.2,169.2 467.9,168.4 468.6,167.5 469.3,166.6 470,165.7 470.7,164.7 471.5,163.8 472.2,162.9 472.9,161.9 473.6,161 474.4,160 475.1,159 475.8,157.9 476.6,156.9 477.3,155.8 478,154.7 478.7,153.6 479.5,152.5 480.2,151.4 480.9,150.3 481.6,149.1 482.4,147.9 483.1,146.7 483.8,145.5 484.6,144.3 485.3,143 486,141.8 486.7,140.5 487.5,139.2 488.2,137.9 488.9,136.6 489.7,135.3 490.4,133.9 491.1,132.5 491.8,131.2 492.6,129.8 493.3,128.4 494,127 494.8,125.5 495.5,124.1 496.2,122.6 496.9,121.1 497.7,119.6 498.4,118.1 499.1,116.6 499.8,115.1 500.6,113.6 501.3,112 502,110.4 502.7,108.9 503.4,107.3 504.1,105.7 504.8,104.1 505.5,102.5 506.2,100.9 506.9,99.3 507.6,97.7 508.3,96.1 509,94.5 509.7,92.9 510.4,91.3 511.1,89.7 511.8,88.2 512.5,86.6 513.2,85.1 513.9,83.5 514.6,82 515.3,80.5 516,79 516.7,77.5 517.4,76.1 518.1,74.6 518.8,73.2 519.5,71.8 520.2,70.4 520.9,69.1 521.6,67.8 522.3,66.4 523,65.2 523.7,63.9 524.3,62.6 525,61.3 525.6,60.1 526.3,58.9 526.9,57.8 527.6,56.7 528.2,55.6 528.9,54.5 529.5,53.5 530.2,52.5 530.9,51.6 531.5,50.7 532.2,49.8 532.8,49 533.5,48.2 534.1,47.4 534.8,46.7 535.4,46 536.1,45.3 536.7,44.7 537.4,44.1 538,43.6 538.7,43.1 539.3,42.7 540,42.3 540.7,41.9 541.4,41.7 542.1,41.4 542.8,41.3 543.5,41.1 544.2,41 544.9,41 545.6,40.9 546.3,41 547,41 547.7,41.2 548.4,41.3 549.1,41.5 549.8,41.7 550.5,42 551.2,42.3 551.9,42.6 552.6,43 553.3,43.4 554,43.8 554.7,44.3 555.4,44.8 556.1,45.4 556.8,46 557.5,46.6 558.2,47.3 558.9,48 559.6,48.7 560.3,49.4 561,50.2 561.7,51 562.4,51.8 563.1,52.6 563.8,53.4 564.5,54.2 565.2,55.1 565.9,56 566.6,56.9 567.3,57.8 568,58.7 568.7,59.6 569.4,60.5 570.1,61.4 570.8,62.3 571.5,63.3 572.2,64.2 572.9,65.2 573.6,66.1 574.3,67 575,68 575.7,68.8 576.4,69.7 577.1,70.6 577.8,71.4 578.5,72.3 579.2,73.2 579.9,74 580.6,74.9 581.3,75.7 582,76.5 582.7,77.4 583.4,78.2 584.1,79 584.8,79.8 585.5,80.6 586.2,81.4 586.9,82.2 587.6,83 588.3,83.7 589,84.5 589.7,85.3 590.4,86 591.1,86.7 591.8,87.5 592.5,88.2 593.2,88.9 593.9,89.6 594.6,90.3 595.3,91 596,91.7 596.7,92.3 597.4,93 598.1,93.6 598.8,94.2 599.5,94.8 600.2,95.5 600.9,96.1 601.6,96.6 602.3,97.2 603,97.8 603.7,98.4 604.4,98.9 605.1,99.5 605.8,100 606.5,100.5 607.2,101.1 607.9,101.6 608.6,102.1 609.3,102.6 610,103.1 610.7,103.6 611.4,104.1 612.1,104.6 612.8,105.1 613.5,105.6 614.2,106.1 614.9,106.6 615.6,107 616.3,107.5 617,108 617.7,108.5 618.4,108.9 619.1,109.4 619.8,109.9 620.5,110.3 621.2,110.8 621.9,111.3 622.6,111.8 623.3,112.2 624,112.7 624.7,113.2 625.4,113.7 626.1,114.1 626.8,114.6 627.5,115.1 628.2,115.6 628.9,116.1 629.6,116.6 630.3,117.1 631,117.6 631.7,118.2 632.4,118.7 633.1,119.2 633.8,119.7 634.5,120.3 635.2,120.8 635.9,121.4 636.6,121.9 637.3,122.5 638,123.1 638.7,123.7 639.4,124.2 640.1,124.8 640.8,125.4 641.5,126 642.2,126.6 642.9,127.3 643.6,127.9 644.3,128.5 645,129.2 645.7,129.8 646.4,130.5 647.1,131.1 647.8,131.8 648.5,132.5 649.2,133.2 649.9,133.9 650.6,134.7 651.3,135.4 652,136.2 652.7,137 653.4,137.8 654.1,138.6 654.8,139.5 655.5,140.4 656.2,141.3 656.9,142.2 657.6,143.2 658.3,144.2 659,145.2 659.7,146.2 660.4,147.3 661.1,148.4 661.8,149.5 662.5,150.6 663.2,151.7 663.9,152.7 664.6,153.8 665.3,154.9 666,156 666.7,157 667.4,158 668.1,159 668.8,159.9 669.5,160.7 670.2,161.5 670.9,162.3 671.6,162.9 672.3,163.5 673,164 673.7,164.5" fill="none" stroke="#9400d3" stroke-width="3.1"/>
<path d="M425.7,198.4 426.4,198 427.1,197.6 427.8,197.3 428.5,196.9 429.2,196.5 429.9,196.2 430.6,195.8 431.3,195.4 432,195 432.7,194.6 433.4,194.2 434.1,193.8 434.8,193.4 435.5,193 436.2,192.6 436.9,192.2 437.6,191.8 438.3,191.4 439,191 439.7,190.6 440.4,190.2 441.1,189.7 441.8,189.3 442.5,188.9 443.2,188.5 443.9,188.1 444.6,187.6 445.3,187.2 446,186.8 446.7,186.4 447.4,185.9 448.1,185.5 448.8,185 449.5,184.6 450.2,184.1 450.9,183.7 451.6,183.2 452.3,182.7 453,182.2 453.7,181.7 454.4,181.2 455.1,180.6 455.8,180.1 456.5,179.5 457.2,178.9 457.9,178.3 458.6,177.7 459.3,177.1 460,176.4 460.7,175.7 461.4,175 462.1,174.3 462.8,173.5 463.5,172.8 464.2,172 464.9,171.2 465.6,170.3 466.3,169.5 467,168.6 467.7,167.7 468.4,166.8 469.1,165.8 469.8,164.9 470.5,163.9 471.2,162.9 471.9,161.9 472.6,160.8 473.3,159.8 474,158.7 474.7,157.6 475.4,156.5 476.1,155.3 476.8,154.2 477.5,153 478.2,151.8 478.9,150.6 479.6,149.4 480.3,148.2 481,146.9 481.7,145.6 482.4,144.4 483.1,143.1 483.8,141.7 484.5,140.4 485.2,139.1 485.9,137.7 486.7,136.3 487.4,134.9 488.1,133.5 488.8,132.1 489.5,130.7 490.2,129.2 490.9,127.7 491.6,126.3 492.3,124.8 493,123.3 493.7,121.8 494.4,120.2 495.1,118.7 495.8,117.2 496.5,115.6 497.2,114 497.9,112.4 498.6,110.9 499.3,109.3 500,107.7 500.7,106.1 501.4,104.5 502.1,102.9 502.8,101.3 503.5,99.7 504.2,98.1 504.9,96.5 505.6,94.9 506.3,93.3 507,91.7 507.7,90.1 508.4,88.5 509.1,87 509.8,85.4 510.5,83.9 511.2,82.4 511.9,80.8 512.6,79.3 513.3,77.8 514,76.4 514.7,74.9 515.4,73.5 516.1,72 516.8,70.6 517.5,69.2 518.2,67.9 518.9,66.5 519.6,65.2 520.3,63.8 521,62.5 521.7,61.2 522.4,59.9 523.1,58.7 523.8,57.4 524.5,56.2 525.2,55 525.9,53.8 526.6,52.6 527.3,51.4 528,50.3 528.7,49.2 529.4,48.1 530.1,47.1 530.8,46 531.5,45.1 532.2,44.1 532.9,43.2 533.6,42.3 534.3,41.4 535,40.6 535.7,39.8 536.4,39.1 537.1,38.4 537.8,37.8 538.5,37.2 539.2,36.6 539.9,36.1 540.6,35.7 541.3,35.3 542,35 542.7,34.7 543.4,34.4 544.1,34.3 544.8,34.1 545.5,34 546.2,34 546.9,34 547.6,34.1 548.3,34.2 549,34.3 549.7,34.5 550.4,34.7 551.1,35 551.8,35.3 552.5,35.6 553.2,36 553.9,36.4 554.6,36.9 555.3,37.4 556,37.9 556.7,38.4 557.4,39 558.1,39.6 558.8,40.2 559.5,40.8 560.2,41.5 560.9,42.2 561.6,42.9 562.3,43.7 563,44.4 563.7,45.2 564.4,46 565.1,46.8 565.8,47.6 566.5,48.4 567.2,49.3 567.9,50.1 568.6,51 569.3,51.8 570,52.7 570.7,53.6 571.4,54.5 572.1,55.4 572.8,56.2 573.5,57.1 574.2,58 574.9,58.9 575.6,59.8 576.3,60.7 577,61.5 577.7,62.4 578.4,63.3 579.1,64.1 579.8,65 580.5,65.8 581.2,66.6 581.9,67.4 582.6,68.3 583.3,69.1 584,69.9 584.7,70.7 585.4,71.4 586.1,72.2 586.8,73 587.5,73.8 588.2,74.5 588.9,75.3 589.6,76 590.3,76.7 591,77.5 591.7,78.2 592.4,78.9 593.1,79.6 593.8,80.3 594.5,81 595.2,81.7 595.9,82.4 596.6,83 597.3,83.7 598,84.4 598.7,85 599.4,85.6 600.1,86.3 600.8,86.9 601.5,87.5 602.2,88.1 602.9,88.7 603.6,89.3 604.3,89.9 605,90.5 605.7,91.1 606.4,91.7 607.1,92.2 607.8,92.8 608.5,93.3 609.2,93.9 609.9,94.4 610.6,94.9 611.3,95.4 612,96 612.7,96.5 613.4,97 614.1,97.5 614.8,97.9 615.5,98.4 616.2,98.9 616.9,99.3 617.6,99.8 618.3,100.2 619,100.7 619.7,101.1 620.5,101.5 621.2,102 621.9,102.4 622.6,102.8 623.3,103.2 624,103.6 624.7,104 625.4,104.4 626.1,104.8 626.8,105.1 627.5,105.5 628.2,105.9 628.9,106.3 629.6,106.7 630.3,107 631,107.4 631.7,107.8 632.4,108.2 633.1,108.6 633.8,109 634.5,109.4 635.2,109.8 635.9,110.2 636.6,110.6 637.3,111 638,111.4 638.7,111.8 639.4,112.3 640.1,112.7 640.8,113.1 641.5,113.6 642.2,114.1 642.9,114.5 643.6,115 644.3,115.5 645,116 645.7,116.5 646.4,117 647.1,117.6 647.8,118.1 648.5,118.7 649.2,119.3 649.9,119.9 650.6,120.5 651.3,121.1 652,121.8 652.7,122.4 653.4,123.1 654.1,123.8 654.8,124.5 655.5,125.2 656.2,126 656.9,126.7 657.6,127.5 658.3,128.3 659,129.2 659.7,130 660.4,130.9 661.1,131.8 661.8,132.7 662.5,133.6 663.2,134.5 663.9,135.5 664.6,136.4 665.3,137.4 666,138.4 666.7,139.4 667.4,140.4 668.1,141.4 668.8,142.5 669.5,143.5 670.2,144.5 670.9,145.6 671.6,146.6 672.3,147.7 673,148.7 673.7,149.8 674.4,150.9 675.1,151.9 675.8,153 676.5,154 677.2,155.1 677.9,156.1 678.6,157.2 679.3,158.2 680,159.3 680.7,160.3 681.4,161.3 682.1,162.3 682.8,163.3 683.5,164.3 684.2,165.3 684.9,166.2 685.6,167.2 686.3,168.1 687,169" fill="none" stroke="#ff0000" stroke-width="3.1" stroke-dasharray="11.6 5"/>
<path d="M425.9,198.6 426.6,198.3 427.3,198 428,197.7 428.7,197.4 429.4,197 430.1,196.7 430.8,196.3 431.5,196 432.2,195.6 432.9,195.2 433.6,194.8 434.3,194.4 435,194.1 435.7,193.7 436.4,193.2 437.1,192.8 437.8,192.4 438.5,192 439.2,191.6 439.9,191.2 440.6,190.7 441.3,190.3 442,189.9 442.7,189.4 443.4,189 444.1,188.5 444.8,188.1 445.5,187.6 446.2,187.2 446.9,186.8 447.6,186.3 448.3,185.9 449,185.4 449.7,184.9 450.4,184.5 451.1,184 451.8,183.5 452.5,183 453.2,182.5 453.9,182 454.6,181.5 455.3,181 456,180.4 456.7,179.9 457.4,179.3 458.1,178.7 458.8,178.1 459.5,177.5 460.2,176.8 460.9,176.1 461.6,175.4 462.3,174.7 463,174 463.7,173.3 464.4,172.5 465.1,171.7 465.8,170.9 466.5,170.1 467.2,169.2 467.9,168.4 468.6,167.5 469.3,166.6 470,165.7 470.7,164.7 471.4,163.8 472.1,162.8 472.8,161.8 473.5,160.8 474.2,159.8 474.9,158.7 475.6,157.6 476.3,156.6 477,155.5 477.7,154.4 478.4,153.2 479.1,152.1 479.8,150.9 480.5,149.7 481.2,148.5 481.9,147.3 482.6,146.1 483.3,144.8 484,143.6 484.7,142.3 485.4,141 486.1,139.7 486.8,138.4 487.5,137 488.2,135.7 488.9,134.3 489.6,132.9 490.3,131.5 491,130.1 491.7,128.7 492.4,127.3 493.1,125.8 493.8,124.3 494.5,122.8 495.2,121.3 495.9,119.8 496.6,118.3 497.3,116.8 498,115.2 498.7,113.7 499.4,112.1 500.1,110.5 500.8,108.9 501.5,107.4 502.2,105.8 502.9,104.2 503.6,102.6 504.3,101 505,99.4 505.7,97.8 506.4,96.2 507.1,94.6 507.8,93 508.5,91.4 509.2,89.8 509.9,88.2 510.6,86.7 511.3,85.1 512,83.6 512.7,82 513.4,80.5 514.1,79 514.8,77.5 515.5,76 516.2,74.6 516.9,73.1 517.6,71.7 518.3,70.3 519,68.9 519.7,67.6 520.4,66.3 521.1,64.9 521.8,63.7 522.5,62.4 523.2,61.2 523.9,60 524.6,58.8 525.3,57.7 526,56.6 526.7,55.6 527.4,54.5 528.1,53.5 528.8,52.6 529.5,51.6 530.2,50.8 530.9,49.9 531.6,49.1 532.3,48.3 533,47.6 533.7,46.9 534.4,46.2 535.1,45.6 535.8,45 536.5,44.4 537.2,43.9 537.9,43.4 538.6,43 539.3,42.6 540,42.3 540.7,41.9 541.4,41.7 542.1,41.4 542.8,41.3 543.5,41.1 544.2,41 544.9,41 545.6,40.9 546.3,41 547,41 547.7,41.2 548.4,41.3 549.1,41.5 549.8,41.7 550.5,42 551.2,42.3 551.9,42.6 552.6,43 553.3,43.4 554,43.8 554.7,44.3 555.4,44.8 556.1,45.3 556.8,45.9 557.5,46.5 558.2,47.1 558.9,47.7 559.6,48.4 560.3,49 561,49.7 561.7,50.5 562.4,51.2 563.1,52 563.8,52.7 564.5,53.5 565.2,54.3 565.9,55.2 566.6,56 567.3,56.8 568,57.7 568.7,58.5 569.4,59.4 570.1,60.3 570.8,61.2 571.5,62 572.2,62.9 572.9,63.8 573.6,64.7 574.3,65.6 575,66.5 575.7,67.3 576.4,68.2 577.1,69.1 577.8,69.9 578.5,70.8 579.2,71.7 579.9,72.5 580.6,73.4 581.3,74.2 582,75 582.7,75.9 583.4,76.7 584.1,77.5 584.8,78.3 585.5,79.1 586.2,79.9 586.9,80.7 587.6,81.5 588.3,82.2 589,83 589.7,83.8 590.4,84.5 591.1,85.2 591.8,86 592.5,86.7 593.2,87.4 593.9,88.1 594.6,88.8 595.3,89.5 596,90.2 596.7,90.8 597.4,91.5 598.1,92.1 598.8,92.7 599.5,93.3 600.2,94 600.9,94.6 601.6,95.1 602.3,95.7 603,96.3 603.7,96.9 604.4,97.4 605.1,98 605.8,98.5 606.5,99 607.2,99.6 607.9,100.1 608.6,100.6 609.3,101.1 610,101.6 610.7,102.1 611.4,102.6 612.1,103.1 612.8,103.6 613.5,104.1 614.2,104.6 614.9,105.1 615.6,105.5 616.3,106 617,106.5 617.7,107 618.4,107.4 619.1,107.9 619.8,108.4 620.5,108.8 621.2,109.3 621.9,109.8 622.6,110.3 623.3,110.7 624,111.2 624.7,111.7 625.4,112.2 626.1,112.6 626.8,113.1 627.5,113.6 628.2,114.1 628.9,114.6 629.6,115.1 630.3,115.6 631,116.1 631.7,116.7 632.4,117.2 633.1,117.7 633.8,118.2 634.5,118.8 635.2,119.3 635.9,119.9 636.6,120.4 637.3,121 638,121.6 638.7,122.2 639.4,122.7 640.1,123.3 640.8,123.9 641.5,124.5 642.2,125.1 642.9,125.8 643.6,126.4 644.3,127 645,127.7 645.7,128.3 646.4,129 647.1,129.6 647.8,130.3 648.5,131 649.2,131.7 649.9,132.4 650.6,133.2 651.3,133.9 652,134.7 652.7,135.5 653.4,136.3 654.1,137.1 654.8,138 655.5,138.9 656.2,139.8 656.9,140.7 657.6,141.7 658.3,142.7 659,143.7 659.7,144.7 660.4,145.8 661.1,146.9 661.8,148 662.5,149.1 663.2,150.2 663.9,151.2 664.6,152.3 665.3,153.4 666,154.5 666.7,155.5 667.4,156.5 668.1,157.5 668.8,158.4 669.5,159.2 670.2,160 670.9,160.8 671.6,161.4 672.3,162 673,162.5 673.7,163" fill="none" stroke="#000" stroke-width="3.1"/>
<g fill="#008000"><circle cx="426.2" cy="204.5" r="3.9"/><circle cx="453" cy="196.5" r="3.9"/><circle cx="468.8" cy="189.2" r="3.9"/><circle cx="480.3" cy="184.2" r="3.9"/><circle cx="489.2" cy="179.6" r="3.9"/><circle cx="496.6" cy="174.8" r="3.9"/><circle cx="502.9" cy="170.2" r="3.9"/><circle cx="508.4" cy="165.8" r="3.9"/><circle cx="513.2" cy="161.9" r="3.9"/><circle cx="517.6" cy="158.4" r="3.9"/><circle cx="521.6" cy="155.4" r="3.9"/><circle cx="525.2" cy="152.8" r="3.9"/><circle cx="528.6" cy="150.5" r="3.9"/><circle cx="531.8" cy="148.5" r="3.9"/><circle cx="534.7" cy="146.7" r="3.9"/><circle cx="537.5" cy="145.1" r="3.9"/><circle cx="540.2" cy="143.6" r="3.9"/><circle cx="542.7" cy="142.3" r="3.9"/><circle cx="545.1" cy="141.2" r="3.9"/><circle cx="547.3" cy="140.1" r="3.9"/><circle cx="549.5" cy="139.1" r="3.9"/><circle cx="551.6" cy="138.3" r="3.9"/><circle cx="553.6" cy="137.5" r="3.9"/><circle cx="555.6" cy="136.7" r="3.9"/><circle cx="557.4" cy="136.1" r="3.9"/><circle cx="559.2" cy="135.5" r="3.9"/><circle cx="561" cy="134.9" r="3.9"/><circle cx="562.7" cy="134.4" r="3.9"/><circle cx="564.3" cy="134" r="3.9"/><circle cx="565.9" cy="133.6" r="3.9"/><circle cx="567.4" cy="133.2" r="3.9"/><circle cx="568.9" cy="132.9" r="3.9"/><circle cx="570.4" cy="132.6" r="3.9"/><circle cx="571.8" cy="132.3" r="3.9"/><circle cx="573.2" cy="132.1" r="3.9"/><circle cx="574.6" cy="131.8" r="3.9"/><circle cx="575.9" cy="131.7" r="3.9"/><circle cx="577.2" cy="131.5" r="3.9"/><circle cx="578.5" cy="131.3" r="3.9"/><circle cx="579.7" cy="131.2" r="3.9"/><circle cx="580.9" cy="131.1" r="3.9"/><circle cx="582.1" cy="131" r="3.9"/><circle cx="583.3" cy="130.9" r="3.9"/><circle cx="584.4" cy="130.9" r="3.9"/><circle cx="585.5" cy="130.8" r="3.9"/><circle cx="586.6" cy="130.8" r="3.9"/><circle cx="587.7" cy="130.8" r="3.9"/><circle cx="588.8" cy="130.8" r="3.9"/><circle cx="589.8" cy="130.8" r="3.9"/><circle cx="590.9" cy="130.8" r="3.9"/><circle cx="591.9" cy="130.9" r="3.9"/><circle cx="592.9" cy="130.9" r="3.9"/><circle cx="593.8" cy="131" r="3.9"/><circle cx="594.8" cy="131" r="3.9"/><circle cx="595.8" cy="131.1" r="3.9"/><circle cx="596.7" cy="131.2" r="3.9"/><circle cx="597.6" cy="131.3" r="3.9"/><circle cx="598.5" cy="131.4" r="3.9"/><circle cx="599.4" cy="131.5" r="3.9"/><circle cx="600.3" cy="131.6" r="3.9"/><circle cx="601.2" cy="131.7" r="3.9"/><circle cx="602" cy="131.8" r="3.9"/><circle cx="602.9" cy="132" r="3.9"/><circle cx="603.7" cy="132.1" r="3.9"/><circle cx="604.5" cy="132.2" r="3.9"/><circle cx="605.3" cy="132.4" r="3.9"/><circle cx="606.1" cy="132.5" r="3.9"/><circle cx="606.9" cy="132.7" r="3.9"/><circle cx="607.7" cy="132.9" r="3.9"/><circle cx="608.5" cy="133" r="3.9"/><circle cx="609.3" cy="133.2" r="3.9"/><circle cx="610" cy="133.4" r="3.9"/><circle cx="610.8" cy="133.6" r="3.9"/><circle cx="611.5" cy="133.7" r="3.9"/><circle cx="612.2" cy="133.9" r="3.9"/><circle cx="613" cy="134.1" r="3.9"/><circle cx="613.7" cy="134.3" r="3.9"/><circle cx="614.4" cy="134.5" r="3.9"/><circle cx="615.1" cy="134.7" r="3.9"/><circle cx="615.8" cy="134.9" r="3.9"/><circle cx="616.5" cy="135.1" r="3.9"/><circle cx="617.1" cy="135.3" r="3.9"/><circle cx="617.8" cy="135.5" r="3.9"/><circle cx="618.5" cy="135.7" r="3.9"/><circle cx="619.1" cy="136" r="3.9"/><circle cx="619.8" cy="136.2" r="3.9"/><circle cx="620.4" cy="136.4" r="3.9"/><circle cx="621.1" cy="136.6" r="3.9"/><circle cx="621.7" cy="136.8" r="3.9"/><circle cx="622.3" cy="137.1" r="3.9"/><circle cx="623" cy="137.3" r="3.9"/><circle cx="623.6" cy="137.5" r="3.9"/><circle cx="624.2" cy="137.8" r="3.9"/><circle cx="624.8" cy="138" r="3.9"/><circle cx="625.4" cy="138.2" r="3.9"/><circle cx="626" cy="138.5" r="3.9"/><circle cx="626.6" cy="138.7" r="3.9"/><circle cx="627.2" cy="138.9" r="3.9"/><circle cx="627.7" cy="139.2" r="3.9"/><circle cx="628.3" cy="139.4" r="3.9"/><circle cx="628.9" cy="139.7" r="3.9"/><circle cx="629.5" cy="139.9" r="3.9"/><circle cx="630" cy="140.2" r="3.9"/><circle cx="630.6" cy="140.4" r="3.9"/><circle cx="631.1" cy="140.7" r="3.9"/><circle cx="631.7" cy="140.9" r="3.9"/><circle cx="632.2" cy="141.2" r="3.9"/><circle cx="632.8" cy="141.4" r="3.9"/><circle cx="633.3" cy="141.7" r="3.9"/><circle cx="633.8" cy="141.9" r="3.9"/><circle cx="634.4" cy="142.2" r="3.9"/><circle cx="634.9" cy="142.4" r="3.9"/><circle cx="635.4" cy="142.7" r="3.9"/><circle cx="635.9" cy="142.9" r="3.9"/><circle cx="636.4" cy="143.2" r="3.9"/><circle cx="636.9" cy="143.5" r="3.9"/><circle cx="637.4" cy="143.7" r="3.9"/><circle cx="637.9" cy="144" r="3.9"/><circle cx="638.4" cy="144.2" r="3.9"/><circle cx="638.9" cy="144.5" r="3.9"/><circle cx="639.4" cy="144.8" r="3.9"/><circle cx="639.9" cy="145" r="3.9"/><circle cx="640.4" cy="145.3" r="3.9"/><circle cx="640.9" cy="145.6" r="3.9"/><circle cx="641.3" cy="145.8" r="3.9"/><circle cx="641.8" cy="146.1" r="3.9"/><circle cx="642.3" cy="146.3" r="3.9"/><circle cx="642.8" cy="146.6" r="3.9"/><circle cx="643.2" cy="146.9" r="3.9"/><circle cx="643.7" cy="147.1" r="3.9"/><circle cx="644.1" cy="147.4" r="3.9"/><circle cx="644.6" cy="147.7" r="3.9"/><circle cx="645" cy="147.9" r="3.9"/><circle cx="645.5" cy="148.2" r="3.9"/><circle cx="645.9" cy="148.5" r="3.9"/><circle cx="646.4" cy="148.8" r="3.9"/><circle cx="646.8" cy="149" r="3.9"/><circle cx="647.3" cy="149.3" r="3.9"/><circle cx="647.7" cy="149.6" r="3.9"/><circle cx="648.1" cy="149.8" r="3.9"/><circle cx="648.6" cy="150.1" r="3.9"/><circle cx="649" cy="150.4" r="3.9"/><circle cx="649.4" cy="150.7" r="3.9"/><circle cx="649.8" cy="151" r="3.9"/><circle cx="650.3" cy="151.3" r="3.9"/><circle cx="650.7" cy="151.6" r="3.9"/><circle cx="651.1" cy="151.9" r="3.9"/><circle cx="651.5" cy="152.2" r="3.9"/><circle cx="651.9" cy="152.5" r="3.9"/><circle cx="652.3" cy="152.8" r="3.9"/><circle cx="652.7" cy="153.1" r="3.9"/><circle cx="653.1" cy="153.4" r="3.9"/><circle cx="653.5" cy="153.8" r="3.9"/><circle cx="653.9" cy="154.1" r="3.9"/><circle cx="654.3" cy="154.4" r="3.9"/><circle cx="654.7" cy="154.8" r="3.9"/><circle cx="655.1" cy="155.1" r="3.9"/><circle cx="655.5" cy="155.5" r="3.9"/><circle cx="655.9" cy="155.8" r="3.9"/><circle cx="656.3" cy="156.2" r="3.9"/><circle cx="656.7" cy="156.6" r="3.9"/><circle cx="657.1" cy="157" r="3.9"/><circle cx="657.4" cy="157.4" r="3.9"/><circle cx="657.8" cy="157.7" r="3.9"/><circle cx="658.2" cy="158.1" r="3.9"/><circle cx="658.6" cy="158.5" r="3.9"/><circle cx="658.9" cy="158.9" r="3.9"/><circle cx="659.3" cy="159.3" r="3.9"/><circle cx="659.7" cy="159.7" r="3.9"/><circle cx="660" cy="160.1" r="3.9"/><circle cx="660.4" cy="160.6" r="3.9"/><circle cx="660.8" cy="161" r="3.9"/><circle cx="661.1" cy="161.4" r="3.9"/><circle cx="661.5" cy="161.8" r="3.9"/><circle cx="661.9" cy="162.2" r="3.9"/><circle cx="662.2" cy="162.6" r="3.9"/><circle cx="662.6" cy="163" r="3.9"/><circle cx="662.9" cy="163.4" r="3.9"/><circle cx="663.3" cy="163.8" r="3.9"/><circle cx="663.6" cy="164.2" r="3.9"/><circle cx="664" cy="164.6" r="3.9"/><circle cx="664.3" cy="165" r="3.9"/><circle cx="664.7" cy="165.4" r="3.9"/><circle cx="665" cy="165.8" r="3.9"/><circle cx="665.3" cy="166.2" r="3.9"/><circle cx="665.7" cy="166.6" r="3.9"/><circle cx="666" cy="167" r="3.9"/><circle cx="666.4" cy="167.4" r="3.9"/><circle cx="666.7" cy="167.7" r="3.9"/><circle cx="667" cy="168.1" r="3.9"/><circle cx="667.4" cy="168.5" r="3.9"/><circle cx="667.7" cy="168.8" r="3.9"/><circle cx="668" cy="169.2" r="3.9"/><circle cx="668.3" cy="169.5" r="3.9"/><circle cx="668.7" cy="169.8" r="3.9"/><circle cx="669" cy="170.2" r="3.9"/><circle cx="669.3" cy="170.5" r="3.9"/><circle cx="669.6" cy="170.8" r="3.9"/><circle cx="670" cy="171.1" r="3.9"/><circle cx="670.3" cy="171.4" r="3.9"/><circle cx="670.6" cy="171.7" r="3.9"/><circle cx="670.9" cy="172" r="3.9"/><circle cx="671.2" cy="172.3" r="3.9"/><circle cx="671.5" cy="172.5" r="3.9"/><circle cx="671.9" cy="172.8" r="3.9"/><circle cx="672.2" cy="173" r="3.9"/><circle cx="672.5" cy="173.3" r="3.9"/><circle cx="672.8" cy="173.4" r="3.9"/><circle cx="673.1" cy="173.4" r="3.9"/></g><path d="M425.9,204.5 426.6,204.4 427.3,204.4 428,204.3 428.7,204.2 429.4,204.1 430.1,204 430.8,203.8 431.5,203.7 432.2,203.6 432.9,203.4 433.6,203.3 434.3,203.1 435,203 435.7,202.8 436.4,202.6 437.1,202.4 437.8,202.2 438.5,202 439.2,201.8 439.9,201.6 440.6,201.3 441.3,201.1 442,200.9 442.7,200.6 443.4,200.4 444.1,200.1 444.8,199.9 445.5,199.6 446.2,199.3 446.9,199.1 447.6,198.8 448.3,198.5 449,198.2 449.7,197.9 450.4,197.6 451.1,197.3 451.8,197 452.5,196.7 453.2,196.4 453.9,196.1 454.6,195.8 455.3,195.5 456,195.2 456.7,194.9 457.4,194.5 458.1,194.2 458.8,193.9 459.5,193.6 460.2,193.2 460.9,192.9 461.6,192.6 462.3,192.2 463,191.9 463.7,191.6 464.4,191.2 465.1,190.9 465.8,190.6 466.5,190.3 467.2,189.9 467.9,189.6 468.6,189.3 469.3,188.9 470,188.6 470.7,188.3 471.4,188 472.1,187.7 472.8,187.4 473.6,187.1 474.3,186.8 475,186.5 475.7,186.2 476.4,185.9 477.1,185.6 477.8,185.3 478.5,185 479.2,184.7 479.9,184.4 480.6,184.1 481.3,183.7 482,183.4 482.7,183 483.5,182.7 484.2,182.3 484.9,182 485.6,181.6 486.3,181.2 487,180.9 487.7,180.5 488.4,180.1 489.1,179.7 489.8,179.2 490.5,178.8 491.2,178.4 491.9,177.9 492.7,177.5 493.4,177 494.1,176.6 494.8,176.1 495.5,175.6 496.2,175.1 496.9,174.7 497.6,174.2 498.3,173.7 499,173.2 499.7,172.7 500.4,172.1 501.1,171.6 501.8,171 502.5,170.5 503.2,169.9 503.9,169.4 504.6,168.8 505.3,168.2 506,167.7 506.7,167.1 507.4,166.5 508.1,166 508.8,165.4 509.5,164.8 510.2,164.3 510.9,163.7 511.6,163.1 512.3,162.6 513,162 513.7,161.5 514.4,160.9 515.1,160.3 515.8,159.8 516.5,159.2 517.2,158.7 517.9,158.2 518.6,157.6 519.3,157.1 520,156.6 520.7,156 521.4,155.5 522.1,155 522.8,154.5 523.5,154 524.2,153.5 524.9,153 525.6,152.5 526.3,152 527,151.6 527.7,151.1 528.4,150.6 529.1,150.2 529.8,149.7 530.5,149.3 531.2,148.8 531.9,148.4 532.6,148 533.3,147.5 534,147.1 534.7,146.7 535.4,146.3 536.1,145.9 536.8,145.5 537.5,145.1 538.2,144.7 538.9,144.3 539.6,143.9 540.3,143.5 541,143.2 541.7,142.8 542.4,142.5 543.1,142.1 543.8,141.8 544.5,141.4 545.2,141.1 545.9,140.7 546.6,140.4 547.3,140.1 548,139.8 548.7,139.5 549.4,139.2 550.2,138.9 550.9,138.6 551.6,138.3 552.3,138 553,137.7 553.7,137.5 554.4,137.2 555.1,136.9 555.8,136.7 556.5,136.4 557.2,136.2 557.9,135.9 558.6,135.7 559.3,135.5 560,135.3 560.7,135 561.4,134.8 562.1,134.6 562.8,134.4 563.5,134.2 564.2,134 564.9,133.8 565.6,133.7 566.3,133.5 567,133.3 567.7,133.2 568.4,133 569.1,132.9 569.8,132.7 570.5,132.6 571.2,132.4 571.9,132.3 572.6,132.2 573.3,132.1 574,131.9 574.7,131.8 575.4,131.7 576.1,131.6 576.8,131.5 577.5,131.4 578.2,131.4 578.9,131.3 579.6,131.2 580.3,131.2 581,131.1 581.7,131 582.4,131 583.1,131 583.8,130.9 584.5,130.9 585.2,130.9 585.9,130.8 586.6,130.8 587.3,130.8 588,130.8 588.7,130.8 589.4,130.8 590.1,130.8 590.8,130.8 591.5,130.9 592.2,130.9 592.9,130.9 593.6,131 594.3,131 595,131.1 595.7,131.1 596.4,131.2 597.1,131.2 597.8,131.3 598.5,131.4 599.2,131.5 599.9,131.5 600.6,131.6 601.3,131.7 602,131.8 602.7,131.9 603.4,132.1 604.1,132.2 604.8,132.3 605.5,132.4 606.2,132.6 606.9,132.7 607.6,132.8 608.3,133 609,133.1 609.7,133.3 610.4,133.5 611.1,133.6 611.8,133.8 612.5,134 613.2,134.2 613.9,134.4 614.6,134.6 615.3,134.8 616,135 616.7,135.2 617.4,135.4 618.1,135.6 618.8,135.8 619.5,136.1 620.2,136.3 620.9,136.6 621.6,136.8 622.3,137.1 623,137.3 623.7,137.6 624.4,137.8 625.1,138.1 625.8,138.4 626.5,138.7 627.2,139 627.9,139.2 628.6,139.5 629.3,139.8 630,140.2 630.7,140.5 631.4,140.8 632.1,141.1 632.8,141.4 633.5,141.8 634.2,142.1 634.9,142.4 635.6,142.8 636.3,143.1 637,143.5 637.7,143.9 638.4,144.2 639.1,144.6 639.8,145 640.5,145.3 641.2,145.7 641.9,146.1 642.6,146.5 643.3,146.9 644,147.3 644.7,147.7 645.4,148.1 646.1,148.6 646.8,149 647.5,149.4 648.2,149.9 648.9,150.3 649.6,150.8 650.3,151.3 651,151.8 651.7,152.3 652.4,152.8 653.1,153.4 653.8,154 654.5,154.6 655.2,155.2 655.9,155.8 656.6,156.5 657.3,157.2 658,157.9 658.7,158.7 659.4,159.4 660.1,160.2 660.8,161 661.5,161.8 662.2,162.6 662.9,163.4 663.6,164.2 664.3,165 665,165.8 665.7,166.6 666.4,167.4 667.1,168.2 667.8,168.9 668.5,169.7 669.2,170.4 669.9,171.1 670.6,171.7 671.3,172.3 672,172.9 672.7,173.4" fill="none" stroke="#008000" stroke-width="3.1"/>
<path d="M425.5,204 426.2,203.8 426.9,203.6 427.6,203.4 428.3,203.2 429,203 429.7,202.8 430.4,202.6 431.1,202.4 431.8,202.2 432.5,202 433.2,201.8 433.9,201.6 434.6,201.4 435.3,201.2 436,201 436.7,200.8 437.4,200.6 438.1,200.4 438.8,200.2 439.5,200 440.2,199.7 440.9,199.5 441.6,199.3 442.3,199.1 443,198.9 443.7,198.6 444.4,198.4 445.1,198.2 445.8,198 446.5,197.7 447.2,197.5 447.9,197.2 448.6,197 449.3,196.8 450,196.5 450.7,196.3 451.4,196 452.1,195.8 452.8,195.5 453.5,195.2 454.2,195 454.9,194.7 455.6,194.4 456.3,194.2 457,193.9 457.7,193.6 458.5,193.3 459.2,193 459.9,192.7 460.6,192.5 461.3,192.2 462,191.8 462.7,191.5 463.4,191.2 464.1,190.9 464.8,190.6 465.5,190.3 466.2,189.9 466.9,189.6 467.6,189.3 468.3,188.9 469,188.6 469.7,188.2 470.4,187.9 471.1,187.5 471.8,187.1 472.5,186.8 473.2,186.4 473.9,186 474.6,185.6 475.3,185.2 476,184.8 476.7,184.4 477.4,184 478.1,183.6 478.8,183.2 479.5,182.7 480.2,182.3 480.9,181.9 481.6,181.4 482.3,181 483,180.5 483.7,180 484.4,179.6 485.1,179.1 485.8,178.6 486.5,178.1 487.2,177.7 487.9,177.2 488.6,176.7 489.3,176.2 490,175.7 490.7,175.2 491.4,174.7 492.1,174.2 492.8,173.6 493.5,173.1 494.2,172.6 494.9,172.1 495.6,171.5 496.3,171 497,170.5 497.7,170 498.4,169.4 499.1,168.9 499.8,168.3 500.5,167.8 501.2,167.3 501.9,166.7 502.6,166.2 503.3,165.6 504,165.1 504.7,164.5 505.4,164 506.1,163.4 506.8,162.9 507.5,162.3 508.2,161.8 508.9,161.2 509.6,160.7 510.3,160.1 511,159.6 511.7,159 512.4,158.5 513.1,157.9 513.8,157.4 514.5,156.9 515.2,156.3 515.9,155.8 516.6,155.2 517.3,154.7 518,154.2 518.7,153.6 519.4,153.1 520.1,152.6 520.8,152 521.5,151.5 522.2,151 522.9,150.5 523.7,150 524.4,149.5 525.1,148.9 525.8,148.4 526.5,147.9 527.2,147.5 527.9,147 528.6,146.5 529.3,146 530,145.5 530.7,145 531.4,144.6 532.1,144.1 532.8,143.6 533.5,143.2 534.2,142.7 534.9,142.3 535.6,141.8 536.3,141.4 537,141 537.7,140.5 538.4,140.1 539.1,139.7 539.8,139.3 540.5,138.9 541.2,138.5 541.9,138.1 542.6,137.7 543.3,137.3 544,136.9 544.7,136.6 545.4,136.2 546.1,135.8 546.8,135.5 547.5,135.1 548.2,134.8 548.9,134.4 549.6,134.1 550.3,133.7 551,133.4 551.7,133.1 552.4,132.8 553.1,132.5 553.8,132.2 554.5,131.9 555.2,131.6 555.9,131.3 556.6,131 557.3,130.7 558,130.5 558.7,130.2 559.4,130 560.1,129.7 560.8,129.5 561.5,129.2 562.2,129 562.9,128.8 563.6,128.6 564.3,128.4 565,128.2 565.7,128 566.4,127.8 567.1,127.6 567.8,127.4 568.5,127.3 569.2,127.1 569.9,126.9 570.6,126.8 571.3,126.6 572,126.5 572.7,126.4 573.4,126.3 574.1,126.2 574.8,126 575.5,126 576.2,125.9 576.9,125.8 577.6,125.7 578.3,125.6 579,125.6 579.7,125.5 580.4,125.5 581.1,125.4 581.8,125.4 582.5,125.4 583.2,125.4 583.9,125.4 584.6,125.4 585.3,125.4 586,125.4 586.7,125.4 587.4,125.4 588.1,125.5 588.8,125.5 589.6,125.6 590.3,125.6 591,125.7 591.7,125.8 592.4,125.9 593.1,126 593.8,126.1 594.5,126.2 595.2,126.3 595.9,126.4 596.6,126.5 597.3,126.6 598,126.8 598.7,126.9 599.4,127.1 600.1,127.2 600.8,127.4 601.5,127.5 602.2,127.7 602.9,127.9 603.6,128 604.3,128.2 605,128.4 605.7,128.6 606.4,128.8 607.1,128.9 607.8,129.1 608.5,129.3 609.2,129.5 609.9,129.7 610.6,129.9 611.3,130.2 612,130.4 612.7,130.6 613.4,130.8 614.1,131 614.8,131.2 615.5,131.5 616.2,131.7 616.9,131.9 617.6,132.1 618.3,132.3 619,132.6 619.7,132.8 620.4,133 621.1,133.3 621.8,133.5 622.5,133.7 623.2,134 623.9,134.2 624.6,134.4 625.3,134.7 626,134.9 626.7,135.1 627.4,135.4 628.1,135.6 628.8,135.9 629.5,136.2 630.2,136.4 630.9,136.7 631.6,136.9 632.3,137.2 633,137.5 633.7,137.8 634.4,138.1 635.1,138.4 635.8,138.7 636.5,139 637.2,139.3 637.9,139.6 638.6,139.9 639.3,140.3 640,140.6 640.7,140.9 641.4,141.3 642.1,141.7 642.8,142 643.5,142.4 644.2,142.8 644.9,143.2 645.6,143.6 646.3,144 647,144.4 647.7,144.9 648.4,145.3 649.1,145.8 649.8,146.2 650.5,146.7 651.2,147.2 651.9,147.7 652.6,148.2 653.3,148.7 654,149.2 654.8,149.7 655.5,150.3 656.2,150.8 656.9,151.4 657.6,151.9 658.3,152.5 659,153 659.7,153.6 660.4,154.2 661.1,154.7 661.8,155.3 662.5,155.9 663.2,156.5 663.9,157 664.6,157.6 665.3,158.2 666,158.8 666.7,159.3 667.4,159.9 668.1,160.4 668.8,161 669.5,161.6 670.2,162.1 670.9,162.6 671.6,163.2 672.3,163.7 673,164.2 673.7,164.7 674.4,165.3 675.1,165.7 675.8,166.2 676.5,166.7 677.2,167.2 677.9,167.6 678.6,168 679.3,168.5 680,168.9 680.7,169.3 681.4,169.7 682.1,170 682.8,170.4 683.5,170.7 684.2,171 684.9,171.3 685.6,171.6 686.3,171.9 687,172.1" fill="none" stroke="#ff0000" stroke-width="3.1" stroke-dasharray="11.6 5"/>
<path d="M425.9,204.5 426.6,204.4 427.3,204.4 428,204.3 428.7,204.2 429.4,204.1 430.1,204 430.8,203.8 431.5,203.7 432.2,203.6 432.9,203.4 433.6,203.3 434.3,203.1 435,203 435.7,202.8 436.4,202.6 437.1,202.4 437.8,202.2 438.5,202 439.2,201.8 439.9,201.6 440.6,201.3 441.3,201.1 442,200.9 442.7,200.6 443.4,200.4 444.1,200.1 444.8,199.9 445.5,199.6 446.2,199.3 446.9,199.1 447.6,198.8 448.3,198.5 449,198.2 449.7,197.9 450.4,197.6 451.1,197.3 451.8,197 452.5,196.7 453.2,196.4 453.9,196.1 454.6,195.8 455.3,195.5 456,195.2 456.7,194.9 457.4,194.5 458.1,194.2 458.8,193.9 459.5,193.6 460.2,193.2 460.9,192.9 461.6,192.6 462.3,192.2 463,191.9 463.7,191.6 464.4,191.2 465.1,190.9 465.8,190.6 466.5,190.3 467.2,189.9 467.9,189.6 468.6,189.3 469.3,188.9 470,188.6 470.7,188.3 471.4,188 472.1,187.6 472.8,187.3 473.5,187 474.2,186.6 474.9,186.3 475.6,186 476.3,185.6 477,185.3 477.7,184.9 478.4,184.6 479.1,184.2 479.8,183.9 480.5,183.5 481.2,183.2 481.9,182.8 482.6,182.4 483.3,182 484,181.6 484.7,181.2 485.4,180.8 486.1,180.4 486.8,180 487.5,179.6 488.2,179.2 488.9,178.7 489.6,178.3 490.3,177.8 491,177.3 491.7,176.9 492.4,176.4 493.1,175.9 493.8,175.4 494.5,174.9 495.2,174.4 495.9,173.8 496.6,173.3 497.3,172.8 498,172.3 498.7,171.7 499.4,171.2 500.1,170.6 500.8,170.1 501.5,169.5 502.2,169 502.9,168.4 503.6,167.9 504.3,167.3 505,166.7 505.7,166.2 506.4,165.6 507.1,165 507.8,164.5 508.5,163.9 509.2,163.3 509.9,162.8 510.6,162.2 511.3,161.6 512,161.1 512.7,160.5 513.4,160 514.1,159.4 514.8,158.8 515.5,158.3 516.2,157.7 516.9,157.2 517.6,156.7 518.3,156.1 519,155.6 519.7,155.1 520.4,154.5 521.1,154 521.8,153.5 522.5,153 523.2,152.5 523.9,152 524.6,151.5 525.3,151 526,150.5 526.7,150.1 527.4,149.6 528.1,149.1 528.8,148.7 529.5,148.2 530.2,147.8 530.9,147.3 531.6,146.9 532.3,146.5 533,146 533.7,145.6 534.4,145.2 535.1,144.8 535.8,144.4 536.5,144 537.2,143.6 537.9,143.2 538.6,142.8 539.3,142.4 540,142 540.7,141.7 541.4,141.3 542.1,141 542.8,140.6 543.5,140.3 544.2,139.9 544.9,139.6 545.6,139.2 546.3,138.9 547,138.6 547.7,138.3 548.4,138 549.1,137.7 549.9,137.4 550.6,137.1 551.3,136.8 552,136.5 552.7,136.2 553.4,136 554.1,135.7 554.8,135.4 555.5,135.2 556.2,134.9 556.9,134.7 557.6,134.4 558.3,134.2 559,134 559.7,133.8 560.4,133.5 561.1,133.3 561.8,133.1 562.5,132.9 563.2,132.7 563.9,132.5 564.6,132.3 565.3,132.2 566,132 566.7,131.8 567.4,131.7 568.1,131.5 568.8,131.4 569.5,131.2 570.2,131.1 570.9,130.9 571.6,130.8 572.3,130.7 573,130.6 573.7,130.4 574.4,130.3 575.1,130.2 575.8,130.1 576.5,130 577.2,129.9 577.9,129.9 578.6,129.8 579.3,129.7 580,129.7 580.7,129.6 581.4,129.5 582.1,129.5 582.8,129.5 583.5,129.4 584.2,129.4 584.9,129.4 585.6,129.3 586.3,129.3 587,129.3 587.7,129.3 588.4,129.3 589.1,129.3 589.8,129.3 590.5,129.3 591.2,129.4 591.9,129.4 592.6,129.4 593.3,129.5 594,129.5 594.7,129.6 595.4,129.6 596.1,129.7 596.8,129.7 597.5,129.8 598.2,129.9 598.9,130 599.6,130 600.3,130.1 601,130.2 601.7,130.3 602.4,130.4 603.1,130.6 603.8,130.7 604.5,130.8 605.2,130.9 605.9,131.1 606.6,131.2 607.3,131.3 608,131.5 608.7,131.6 609.4,131.8 610.1,132 610.8,132.1 611.5,132.3 612.2,132.5 612.9,132.7 613.6,132.9 614.3,133.1 615,133.3 615.7,133.5 616.4,133.7 617.1,133.9 617.8,134.1 618.5,134.3 619.2,134.6 619.9,134.8 620.6,135.1 621.3,135.3 622,135.6 622.7,135.8 623.4,136.1 624.1,136.3 624.8,136.6 625.5,136.9 626.2,137.2 626.9,137.5 627.6,137.7 628.3,138 629,138.3 629.7,138.7 630.4,139 631.1,139.3 631.8,139.6 632.5,139.9 633.2,140.3 633.9,140.6 634.6,140.9 635.3,141.3 636,141.6 636.7,142 637.4,142.4 638.1,142.7 638.8,143.1 639.5,143.5 640.2,143.8 640.9,144.2 641.6,144.6 642.3,145 643,145.4 643.7,145.8 644.4,146.2 645.1,146.6 645.8,147.1 646.5,147.5 647.2,147.9 647.9,148.4 648.6,148.8 649.3,149.3 650,149.8 650.7,150.3 651.4,150.8 652.1,151.3 652.8,151.9 653.5,152.5 654.2,153.1 654.9,153.7 655.6,154.3 656.3,155 657,155.7 657.7,156.4 658.4,157.2 659.1,157.9 659.8,158.7 660.5,159.5 661.2,160.3 661.9,161.1 662.6,161.9 663.3,162.7 664,163.5 664.7,164.3 665.4,165.1 666.1,165.9 666.8,166.7 667.5,167.4 668.2,168.2 668.9,168.9 669.6,169.6 670.3,170.2 671,170.8 671.7,171.4 672.4,171.9" fill="none" stroke="#000" stroke-width="3.1"/>
<g fill="#0000ff"><circle cx="426.2" cy="213.7" r="3.9"/><circle cx="453" cy="213.6" r="3.9"/><circle cx="468.8" cy="211.8" r="3.9"/><circle cx="480.2" cy="210.2" r="3.9"/><circle cx="489.2" cy="208.7" r="3.9"/><circle cx="496.5" cy="207.2" r="3.9"/><circle cx="502.8" cy="205.6" r="3.9"/><circle cx="508.3" cy="203.7" r="3.9"/><circle cx="513.1" cy="201.7" r="3.9"/><circle cx="517.5" cy="199.6" r="3.9"/><circle cx="521.5" cy="197.4" r="3.9"/><circle cx="525.1" cy="195.1" r="3.9"/><circle cx="528.5" cy="192.9" r="3.9"/><circle cx="531.7" cy="190.7" r="3.9"/><circle cx="534.6" cy="188.6" r="3.9"/><circle cx="537.4" cy="186.6" r="3.9"/><circle cx="540.1" cy="184.6" r="3.9"/><circle cx="542.6" cy="182.8" r="3.9"/><circle cx="545" cy="180.9" r="3.9"/><circle cx="547.2" cy="179.2" r="3.9"/><circle cx="549.4" cy="177.5" r="3.9"/><circle cx="551.5" cy="176" r="3.9"/><circle cx="553.5" cy="174.4" r="3.9"/><circle cx="555.5" cy="173" r="3.9"/><circle cx="557.3" cy="171.6" r="3.9"/><circle cx="559.1" cy="170.3" r="3.9"/><circle cx="560.9" cy="169.1" r="3.9"/><circle cx="562.6" cy="167.9" r="3.9"/><circle cx="564.2" cy="166.8" r="3.9"/><circle cx="565.8" cy="165.7" r="3.9"/><circle cx="567.3" cy="164.7" r="3.9"/><circle cx="568.8" cy="163.7" r="3.9"/><circle cx="570.3" cy="162.8" r="3.9"/><circle cx="571.7" cy="161.9" r="3.9"/><circle cx="573.1" cy="161.1" r="3.9"/><circle cx="574.5" cy="160.4" r="3.9"/><circle cx="575.8" cy="159.6" r="3.9"/><circle cx="577.1" cy="159" r="3.9"/><circle cx="578.4" cy="158.3" r="3.9"/><circle cx="579.6" cy="157.7" r="3.9"/><circle cx="580.8" cy="157.1" r="3.9"/><circle cx="582" cy="156.6" r="3.9"/><circle cx="583.2" cy="156.1" r="3.9"/><circle cx="584.3" cy="155.6" r="3.9"/><circle cx="585.4" cy="155.2" r="3.9"/><circle cx="586.5" cy="154.8" r="3.9"/><circle cx="587.6" cy="154.4" r="3.9"/><circle cx="588.7" cy="154" r="3.9"/><circle cx="589.7" cy="153.7" r="3.9"/><circle cx="590.8" cy="153.4" r="3.9"/><circle cx="591.8" cy="153.1" r="3.9"/><circle cx="592.8" cy="152.8" r="3.9"/><circle cx="593.7" cy="152.6" r="3.9"/><circle cx="594.7" cy="152.3" r="3.9"/><circle cx="595.7" cy="152.1" r="3.9"/><circle cx="596.6" cy="151.9" r="3.9"/><circle cx="597.5" cy="151.8" r="3.9"/><circle cx="598.4" cy="151.6" r="3.9"/><circle cx="599.3" cy="151.5" r="3.9"/><circle cx="600.2" cy="151.4" r="3.9"/><circle cx="601.1" cy="151.3" r="3.9"/><circle cx="601.9" cy="151.2" r="3.9"/><circle cx="602.8" cy="151.1" r="3.9"/><circle cx="603.6" cy="151" r="3.9"/><circle cx="604.4" cy="151" r="3.9"/><circle cx="605.2" cy="151" r="3.9"/><circle cx="606" cy="150.9" r="3.9"/><circle cx="606.8" cy="150.9" r="3.9"/><circle cx="607.6" cy="150.9" r="3.9"/><circle cx="608.4" cy="150.9" r="3.9"/><circle cx="609.2" cy="150.9" r="3.9"/><circle cx="609.9" cy="150.9" r="3.9"/><circle cx="610.7" cy="150.9" r="3.9"/><circle cx="611.4" cy="150.9" r="3.9"/><circle cx="612.1" cy="151" r="3.9"/><circle cx="612.9" cy="151" r="3.9"/><circle cx="613.6" cy="151" r="3.9"/><circle cx="614.3" cy="151.1" r="3.9"/><circle cx="615" cy="151.2" r="3.9"/><circle cx="615.7" cy="151.2" r="3.9"/><circle cx="616.4" cy="151.3" r="3.9"/><circle cx="617" cy="151.3" r="3.9"/><circle cx="617.7" cy="151.4" r="3.9"/><circle cx="618.4" cy="151.5" r="3.9"/><circle cx="619" cy="151.6" r="3.9"/><circle cx="619.7" cy="151.7" r="3.9"/><circle cx="620.3" cy="151.7" r="3.9"/><circle cx="621" cy="151.8" r="3.9"/><circle cx="621.6" cy="151.9" r="3.9"/><circle cx="622.2" cy="152" r="3.9"/><circle cx="622.9" cy="152.1" r="3.9"/><circle cx="623.5" cy="152.2" r="3.9"/><circle cx="624.1" cy="152.3" r="3.9"/><circle cx="624.7" cy="152.4" r="3.9"/><circle cx="625.3" cy="152.5" r="3.9"/><circle cx="625.9" cy="152.6" r="3.9"/><circle cx="626.5" cy="152.7" r="3.9"/><circle cx="627.1" cy="152.8" r="3.9"/><circle cx="627.6" cy="153" r="3.9"/><circle cx="628.2" cy="153.1" r="3.9"/><circle cx="628.8" cy="153.2" r="3.9"/><circle cx="629.4" cy="153.3" r="3.9"/><circle cx="629.9" cy="153.4" r="3.9"/><circle cx="630.5" cy="153.5" r="3.9"/><circle cx="631" cy="153.7" r="3.9"/><circle cx="631.6" cy="153.8" r="3.9"/><circle cx="632.1" cy="153.9" r="3.9"/><circle cx="632.7" cy="154" r="3.9"/><circle cx="633.2" cy="154.1" r="3.9"/><circle cx="633.7" cy="154.3" r="3.9"/><circle cx="634.3" cy="154.4" r="3.9"/><circle cx="634.8" cy="154.5" r="3.9"/><circle cx="635.3" cy="154.6" r="3.9"/><circle cx="635.8" cy="154.8" r="3.9"/><circle cx="636.3" cy="154.9" r="3.9"/><circle cx="636.8" cy="155.1" r="3.9"/><circle cx="637.3" cy="155.2" r="3.9"/><circle cx="637.8" cy="155.3" r="3.9"/><circle cx="638.3" cy="155.5" r="3.9"/><circle cx="638.8" cy="155.6" r="3.9"/><circle cx="639.3" cy="155.8" r="3.9"/><circle cx="639.8" cy="156" r="3.9"/><circle cx="640.3" cy="156.1" r="3.9"/><circle cx="640.8" cy="156.3" r="3.9"/><circle cx="641.2" cy="156.5" r="3.9"/><circle cx="641.7" cy="156.6" r="3.9"/><circle cx="642.2" cy="156.8" r="3.9"/><circle cx="642.7" cy="157" r="3.9"/><circle cx="643.1" cy="157.2" r="3.9"/><circle cx="643.6" cy="157.4" r="3.9"/><circle cx="644" cy="157.6" r="3.9"/><circle cx="644.5" cy="157.8" r="3.9"/><circle cx="644.9" cy="158" r="3.9"/><circle cx="645.4" cy="158.2" r="3.9"/><circle cx="645.8" cy="158.4" r="3.9"/><circle cx="646.3" cy="158.7" r="3.9"/><circle cx="646.7" cy="158.9" r="3.9"/><circle cx="647.2" cy="159.1" r="3.9"/><circle cx="647.6" cy="159.3" r="3.9"/><circle cx="648" cy="159.6" r="3.9"/><circle cx="648.5" cy="159.8" r="3.9"/><circle cx="648.9" cy="160" r="3.9"/><circle cx="649.3" cy="160.3" r="3.9"/><circle cx="649.7" cy="160.5" r="3.9"/><circle cx="650.2" cy="160.8" r="3.9"/><circle cx="650.6" cy="161" r="3.9"/><circle cx="651" cy="161.3" r="3.9"/><circle cx="651.4" cy="161.5" r="3.9"/><circle cx="651.8" cy="161.8" r="3.9"/><circle cx="652.2" cy="162" r="3.9"/><circle cx="652.6" cy="162.3" r="3.9"/><circle cx="653" cy="162.6" r="3.9"/><circle cx="653.4" cy="162.8" r="3.9"/><circle cx="653.8" cy="163.1" r="3.9"/><circle cx="654.2" cy="163.3" r="3.9"/><circle cx="654.6" cy="163.6" r="3.9"/><circle cx="655" cy="163.8" r="3.9"/><circle cx="655.4" cy="164.1" r="3.9"/><circle cx="655.8" cy="164.4" r="3.9"/><circle cx="656.2" cy="164.6" r="3.9"/><circle cx="656.6" cy="164.9" r="3.9"/><circle cx="657" cy="165.1" r="3.9"/><circle cx="657.3" cy="165.4" r="3.9"/><circle cx="657.7" cy="165.7" r="3.9"/><circle cx="658.1" cy="165.9" r="3.9"/><circle cx="658.5" cy="166.2" r="3.9"/><circle cx="658.8" cy="166.4" r="3.9"/><circle cx="659.2" cy="166.7" r="3.9"/><circle cx="659.6" cy="166.9" r="3.9"/><circle cx="659.9" cy="167.2" r="3.9"/><circle cx="660.3" cy="167.4" r="3.9"/><circle cx="660.7" cy="167.7" r="3.9"/><circle cx="661" cy="167.9" r="3.9"/><circle cx="661.4" cy="168.2" r="3.9"/><circle cx="661.8" cy="168.4" r="3.9"/><circle cx="662.1" cy="168.6" r="3.9"/><circle cx="662.5" cy="168.9" r="3.9"/><circle cx="662.8" cy="169.1" r="3.9"/><circle cx="663.2" cy="169.3" r="3.9"/><circle cx="663.5" cy="169.5" r="3.9"/><circle cx="663.9" cy="169.8" r="3.9"/><circle cx="664.2" cy="170" r="3.9"/><circle cx="664.6" cy="170.2" r="3.9"/><circle cx="664.9" cy="170.4" r="3.9"/><circle cx="665.2" cy="170.6" r="3.9"/><circle cx="665.6" cy="170.8" r="3.9"/><circle cx="665.9" cy="171" r="3.9"/><circle cx="666.3" cy="171.2" r="3.9"/><circle cx="666.6" cy="171.4" r="3.9"/><circle cx="666.9" cy="171.6" r="3.9"/><circle cx="667.3" cy="171.8" r="3.9"/><circle cx="667.6" cy="172" r="3.9"/><circle cx="667.9" cy="172.1" r="3.9"/><circle cx="668.2" cy="172.3" r="3.9"/><circle cx="668.6" cy="172.5" r="3.9"/><circle cx="668.9" cy="172.6" r="3.9"/><circle cx="669.2" cy="172.8" r="3.9"/><circle cx="669.5" cy="172.9" r="3.9"/><circle cx="669.9" cy="173.1" r="3.9"/><circle cx="670.2" cy="173.2" r="3.9"/><circle cx="670.5" cy="173.3" r="3.9"/><circle cx="670.8" cy="173.5" r="3.9"/><circle cx="671.1" cy="173.6" r="3.9"/><circle cx="671.4" cy="173.7" r="3.9"/><circle cx="671.8" cy="173.8" r="3.9"/><circle cx="672.1" cy="174" r="3.9"/><circle cx="672.4" cy="174.1" r="3.9"/><circle cx="672.7" cy="174.1" r="3.9"/><circle cx="673" cy="174.1" r="3.9"/></g><path d="M425.9,213.7 426.6,213.7 427.3,213.8 428,213.8 428.7,213.9 429.4,213.9 430.1,213.9 430.8,214 431.5,214 432.2,214 432.9,214 433.6,214.1 434.3,214.1 435,214.1 435.7,214.1 436.4,214.1 437.1,214.1 437.8,214.1 438.5,214.1 439.2,214.1 439.9,214.1 440.6,214.1 441.3,214.1 442,214.1 442.7,214.1 443.4,214.1 444.1,214.1 444.8,214 445.5,214 446.2,214 446.9,213.9 447.6,213.9 448.3,213.9 449,213.8 449.7,213.8 450.4,213.8 451.1,213.7 451.8,213.7 452.5,213.6 453.2,213.6 453.9,213.5 454.6,213.4 455.3,213.4 456,213.3 456.7,213.2 457.4,213.2 458.1,213.1 458.8,213 459.5,213 460.2,212.9 460.9,212.8 461.6,212.7 462.3,212.6 463,212.6 463.7,212.5 464.4,212.4 465.1,212.3 465.8,212.2 466.5,212.1 467.2,212 467.9,211.9 468.6,211.8 469.3,211.7 470,211.6 470.7,211.5 471.4,211.4 472.1,211.3 472.8,211.2 473.5,211.1 474.2,211.1 475,211 475.7,210.9 476.4,210.8 477.1,210.7 477.8,210.6 478.5,210.5 479.2,210.3 479.9,210.2 480.6,210.1 481.3,210 482,209.9 482.7,209.8 483.4,209.7 484.1,209.6 484.8,209.4 485.5,209.3 486.2,209.2 486.9,209.1 487.6,209 488.3,208.8 489.1,208.7 489.8,208.6 490.5,208.4 491.2,208.3 491.9,208.2 492.6,208 493.3,207.9 494,207.8 494.7,207.6 495.4,207.5 496.1,207.3 496.8,207.2 497.5,207 498.2,206.8 498.9,206.7 499.6,206.5 500.3,206.3 501,206.1 501.7,205.9 502.4,205.7 503.1,205.5 503.8,205.3 504.5,205 505.2,204.8 505.9,204.6 506.6,204.3 507.3,204.1 508,203.8 508.7,203.5 509.4,203.3 510.1,203 510.8,202.7 511.5,202.4 512.2,202.1 512.9,201.8 513.6,201.5 514.3,201.1 515,200.8 515.7,200.5 516.4,200.1 517.1,199.7 517.8,199.4 518.5,199 519.2,198.6 519.9,198.2 520.6,197.8 521.3,197.4 522,197 522.7,196.6 523.4,196.2 524.1,195.7 524.8,195.3 525.5,194.9 526.2,194.4 526.9,194 527.6,193.5 528.3,193 529,192.6 529.7,192.1 530.4,191.6 531.1,191.1 531.8,190.6 532.5,190.1 533.2,189.6 533.9,189.1 534.6,188.6 535.3,188.1 536,187.6 536.7,187.1 537.4,186.6 538.1,186.1 538.8,185.6 539.5,185 540.2,184.5 540.9,184 541.6,183.5 542.3,182.9 543,182.4 543.7,181.9 544.4,181.3 545.1,180.8 545.8,180.3 546.5,179.7 547.2,179.2 547.9,178.7 548.6,178.1 549.4,177.6 550.1,177.1 550.8,176.5 551.5,176 552.2,175.5 552.9,175 553.6,174.4 554.3,173.9 555,173.4 555.7,172.9 556.4,172.3 557.1,171.8 557.8,171.3 558.5,170.8 559.2,170.3 559.9,169.8 560.6,169.3 561.3,168.8 562,168.3 562.7,167.8 563.4,167.3 564.1,166.9 564.8,166.4 565.5,165.9 566.2,165.4 566.9,165 567.6,164.5 568.3,164.1 569,163.6 569.7,163.2 570.4,162.8 571.1,162.3 571.8,161.9 572.5,161.5 573.2,161.1 573.9,160.7 574.6,160.3 575.3,159.9 576,159.5 576.7,159.2 577.4,158.8 578.1,158.5 578.8,158.1 579.5,157.8 580.2,157.4 580.9,157.1 581.6,156.8 582.3,156.5 583,156.2 583.7,155.9 584.4,155.6 585.1,155.3 585.8,155 586.5,154.8 587.2,154.5 587.9,154.3 588.6,154 589.3,153.8 590,153.6 590.7,153.4 591.4,153.2 592.1,153 592.8,152.8 593.5,152.6 594.2,152.5 594.9,152.3 595.6,152.2 596.3,152 597,151.9 597.7,151.8 598.4,151.6 599.1,151.5 599.8,151.4 600.5,151.3 601.2,151.3 601.9,151.2 602.6,151.1 603.3,151.1 604,151 604.7,151 605.4,150.9 606.1,150.9 606.8,150.9 607.5,150.9 608.2,150.9 608.9,150.9 609.6,150.9 610.3,150.9 611,150.9 611.7,150.9 612.4,151 613.1,151 613.8,151.1 614.5,151.1 615.2,151.2 615.9,151.2 616.6,151.3 617.3,151.4 618,151.4 618.7,151.5 619.4,151.6 620.1,151.7 620.8,151.8 621.5,151.9 622.2,152 622.9,152.1 623.6,152.2 624.3,152.3 625,152.5 625.7,152.6 626.4,152.7 627.1,152.9 627.8,153 628.5,153.1 629.2,153.3 629.9,153.4 630.6,153.6 631.3,153.7 632,153.9 632.7,154 633.4,154.2 634.1,154.3 634.8,154.5 635.5,154.7 636.2,154.9 636.9,155.1 637.6,155.3 638.3,155.5 639,155.7 639.7,155.9 640.4,156.2 641.1,156.4 641.8,156.7 642.5,156.9 643.2,157.2 643.9,157.5 644.6,157.8 645.3,158.2 646,158.5 646.7,158.9 647.4,159.2 648.1,159.6 648.8,160 649.5,160.4 650.2,160.8 650.9,161.2 651.6,161.6 652.3,162.1 653,162.5 653.7,163 654.4,163.4 655.1,163.9 655.8,164.4 656.5,164.8 657.2,165.3 657.9,165.8 658.6,166.3 659.3,166.7 660,167.2 660.7,167.7 661.4,168.2 662.1,168.6 662.8,169.1 663.5,169.5 664.2,170 664.9,170.4 665.6,170.8 666.3,171.2 667,171.6 667.7,172 668.4,172.4 669.1,172.7 669.8,173 670.5,173.4 671.2,173.6 671.9,173.9 672.6,174.1" fill="none" stroke="#0000ff" stroke-width="3.1"/>
<path d="M425.7,213.6 426.4,213.5 427.1,213.4 427.8,213.4 428.5,213.3 429.2,213.2 429.9,213.2 430.6,213.1 431.3,213.1 432,213 432.7,212.9 433.4,212.9 434.1,212.9 434.8,212.8 435.5,212.8 436.2,212.7 436.9,212.7 437.6,212.6 438.3,212.6 439,212.6 439.7,212.5 440.4,212.5 441.1,212.5 441.8,212.5 442.5,212.4 443.2,212.4 443.9,212.4 444.6,212.4 445.3,212.3 446,212.3 446.7,212.3 447.4,212.3 448.1,212.2 448.8,212.2 449.5,212.2 450.2,212.2 450.9,212.2 451.6,212.1 452.3,212.1 453,212.1 453.7,212.1 454.4,212.1 455.1,212 455.8,212 456.5,212 457.2,212 457.9,211.9 458.6,211.9 459.3,211.9 460,211.9 460.7,211.8 461.4,211.8 462.1,211.8 462.8,211.7 463.5,211.7 464.2,211.7 464.9,211.6 465.6,211.6 466.3,211.5 467,211.5 467.7,211.5 468.4,211.4 469.1,211.4 469.8,211.3 470.5,211.2 471.2,211.2 471.9,211.1 472.6,211.1 473.3,211 474,210.9 474.7,210.8 475.4,210.8 476.1,210.7 476.8,210.6 477.5,210.5 478.2,210.4 478.9,210.3 479.6,210.2 480.3,210.1 481,210 481.7,209.9 482.4,209.8 483.1,209.7 483.8,209.5 484.5,209.4 485.2,209.3 485.9,209.1 486.6,209 487.3,208.8 488,208.7 488.7,208.5 489.4,208.3 490.1,208.2 490.8,208 491.6,207.8 492.3,207.6 493,207.4 493.7,207.2 494.4,207 495.1,206.8 495.8,206.6 496.5,206.4 497.2,206.2 497.9,205.9 498.6,205.7 499.3,205.4 500,205.2 500.7,204.9 501.4,204.7 502.1,204.4 502.8,204.1 503.5,203.8 504.2,203.5 504.9,203.2 505.6,202.9 506.3,202.6 507,202.3 507.7,201.9 508.4,201.6 509.1,201.2 509.8,200.9 510.5,200.5 511.2,200.1 511.9,199.8 512.6,199.4 513.3,199 514,198.6 514.7,198.2 515.4,197.8 516.1,197.3 516.8,196.9 517.5,196.5 518.2,196.1 518.9,195.6 519.6,195.2 520.3,194.7 521,194.3 521.7,193.8 522.4,193.3 523.1,192.9 523.8,192.4 524.5,191.9 525.2,191.4 525.9,191 526.6,190.5 527.3,190 528,189.5 528.7,189 529.4,188.5 530.1,188 530.8,187.4 531.5,186.9 532.2,186.4 532.9,185.9 533.6,185.4 534.3,184.9 535,184.3 535.7,183.8 536.4,183.3 537.1,182.7 537.8,182.2 538.5,181.7 539.2,181.1 539.9,180.6 540.6,180.1 541.3,179.5 542,179 542.7,178.4 543.4,177.9 544.1,177.4 544.8,176.8 545.5,176.3 546.2,175.7 546.9,175.2 547.6,174.7 548.3,174.1 549,173.6 549.7,173.1 550.4,172.5 551.1,172 551.8,171.4 552.5,170.9 553.2,170.4 553.9,169.9 554.6,169.3 555.3,168.8 556,168.3 556.7,167.8 557.4,167.3 558.1,166.7 558.8,166.2 559.5,165.7 560.2,165.2 560.9,164.7 561.6,164.2 562.3,163.7 563,163.3 563.7,162.8 564.4,162.3 565.1,161.8 565.8,161.4 566.5,160.9 567.2,160.4 567.9,160 568.6,159.5 569.3,159.1 570,158.7 570.7,158.2 571.4,157.8 572.1,157.4 572.8,157 573.5,156.6 574.2,156.2 574.9,155.8 575.6,155.4 576.3,155 577,154.7 577.7,154.3 578.4,154 579.1,153.6 579.8,153.3 580.5,152.9 581.2,152.6 581.9,152.3 582.6,152 583.3,151.7 584,151.4 584.7,151.2 585.4,150.9 586.1,150.6 586.8,150.4 587.5,150.2 588.2,149.9 588.9,149.7 589.6,149.5 590.3,149.3 591,149.1 591.7,148.9 592.4,148.8 593.1,148.6 593.8,148.5 594.5,148.3 595.2,148.2 595.9,148.1 596.6,147.9 597.3,147.8 598,147.7 598.7,147.6 599.4,147.5 600.1,147.5 600.8,147.4 601.5,147.3 602.2,147.3 602.9,147.2 603.6,147.2 604.3,147.1 605,147.1 605.7,147.1 606.4,147.1 607.1,147.1 607.8,147.1 608.5,147.1 609.2,147.1 609.9,147.1 610.6,147.1 611.3,147.1 612,147.2 612.7,147.2 613.4,147.3 614.1,147.3 614.8,147.4 615.5,147.4 616.2,147.5 616.9,147.6 617.6,147.6 618.3,147.7 619,147.8 619.7,147.9 620.4,148 621.1,148.1 621.9,148.1 622.6,148.3 623.3,148.4 624,148.5 624.7,148.6 625.4,148.7 626.1,148.8 626.8,148.9 627.5,149.1 628.2,149.2 628.9,149.4 629.6,149.5 630.3,149.7 631,149.8 631.7,150 632.4,150.2 633.1,150.4 633.8,150.6 634.5,150.8 635.2,151 635.9,151.2 636.6,151.4 637.3,151.7 638,151.9 638.7,152.1 639.4,152.4 640.1,152.7 640.8,152.9 641.5,153.2 642.2,153.5 642.9,153.8 643.6,154.1 644.3,154.4 645,154.7 645.7,155 646.4,155.3 647.1,155.7 647.8,156 648.5,156.3 649.2,156.7 649.9,157 650.6,157.4 651.3,157.7 652,158.1 652.7,158.4 653.4,158.8 654.1,159.1 654.8,159.5 655.5,159.9 656.2,160.2 656.9,160.6 657.6,160.9 658.3,161.3 659,161.7 659.7,162.1 660.4,162.4 661.1,162.8 661.8,163.2 662.5,163.5 663.2,163.9 663.9,164.3 664.6,164.6 665.3,165 666,165.3 666.7,165.7 667.4,166.1 668.1,166.4 668.8,166.8 669.5,167.1 670.2,167.4 670.9,167.8 671.6,168.1 672.3,168.4 673,168.8 673.7,169.1 674.4,169.4 675.1,169.7 675.8,170 676.5,170.3 677.2,170.6 677.9,170.9 678.6,171.2 679.3,171.4 680,171.7 680.7,171.9 681.4,172.2 682.1,172.4 682.8,172.6 683.5,172.8 684.2,173 684.9,173.2 685.6,173.4 686.3,173.5 687,173.7" fill="none" stroke="#ff0000" stroke-width="3.1" stroke-dasharray="11.6 5"/>
<path d="M425.9,213.7 426.6,213.7 427.3,213.8 428,213.8 428.7,213.9 429.4,213.9 430.1,213.9 430.8,214 431.5,214 432.2,214 432.9,214 433.6,214.1 434.3,214.1 435,214.1 435.7,214.1 436.4,214.1 437.1,214.1 437.8,214.1 438.5,214.1 439.2,214.1 439.9,214.1 440.6,214.1 441.3,214.1 442,214.1 442.7,214.1 443.4,214.1 444.1,214.1 444.8,214 445.5,214 446.2,214 446.9,213.9 447.6,213.9 448.3,213.9 449,213.8 449.7,213.8 450.4,213.8 451.1,213.7 451.8,213.7 452.5,213.6 453.2,213.6 453.9,213.5 454.6,213.4 455.3,213.4 456,213.3 456.7,213.2 457.4,213.2 458.1,213.1 458.8,213 459.5,213 460.2,212.9 460.9,212.8 461.6,212.7 462.3,212.6 463,212.6 463.7,212.5 464.4,212.4 465.1,212.3 465.8,212.2 466.5,212.1 467.2,212 467.9,211.9 468.6,211.8 469.3,211.7 470,211.6 470.7,211.5 471.4,211.4 472.1,211.3 472.8,211.1 473.5,211 474.2,210.9 474.9,210.8 475.6,210.7 476.3,210.5 477,210.4 477.7,210.3 478.4,210.2 479.1,210 479.8,209.9 480.5,209.8 481.2,209.6 481.9,209.5 482.6,209.4 483.3,209.2 484,209.1 484.7,209 485.4,208.8 486.1,208.7 486.8,208.5 487.5,208.4 488.2,208.2 488.9,208.1 489.6,207.9 490.3,207.8 491,207.6 491.7,207.5 492.4,207.3 493.1,207.1 493.8,207 494.5,206.8 495.2,206.6 495.9,206.4 496.6,206.3 497.3,206.1 498,205.9 498.7,205.7 499.4,205.5 500.1,205.3 500.8,205.1 501.5,204.9 502.2,204.7 502.9,204.5 503.6,204.3 504.3,204 505,203.8 505.7,203.6 506.4,203.3 507.1,203.1 507.8,202.8 508.5,202.5 509.2,202.3 509.9,202 510.6,201.7 511.3,201.4 512,201.1 512.7,200.8 513.4,200.5 514.1,200.1 514.8,199.8 515.5,199.5 516.2,199.1 516.9,198.7 517.6,198.4 518.3,198 519,197.6 519.7,197.2 520.4,196.8 521.1,196.4 521.8,196 522.5,195.6 523.2,195.2 523.9,194.7 524.6,194.3 525.3,193.9 526,193.4 526.7,193 527.4,192.5 528.1,192 528.8,191.6 529.5,191.1 530.2,190.6 530.9,190.1 531.6,189.6 532.3,189.1 533,188.6 533.7,188.1 534.4,187.6 535.1,187.1 535.8,186.6 536.5,186.1 537.2,185.6 537.9,185.1 538.6,184.6 539.3,184 540,183.5 540.7,183 541.4,182.5 542.1,181.9 542.8,181.4 543.5,180.9 544.2,180.3 544.9,179.8 545.6,179.3 546.3,178.7 547,178.2 547.7,177.7 548.4,177.1 549.1,176.6 549.9,176.1 550.6,175.5 551.3,175 552,174.5 552.7,174 553.4,173.4 554.1,172.9 554.8,172.4 555.5,171.9 556.2,171.3 556.9,170.8 557.6,170.3 558.3,169.8 559,169.3 559.7,168.8 560.4,168.3 561.1,167.8 561.8,167.3 562.5,166.8 563.2,166.3 563.9,165.9 564.6,165.4 565.3,164.9 566,164.4 566.7,164 567.4,163.5 568.1,163.1 568.8,162.6 569.5,162.2 570.2,161.8 570.9,161.3 571.6,160.9 572.3,160.5 573,160.1 573.7,159.7 574.4,159.3 575.1,158.9 575.8,158.5 576.5,158.2 577.2,157.8 577.9,157.5 578.6,157.1 579.3,156.8 580,156.4 580.7,156.1 581.4,155.8 582.1,155.5 582.8,155.2 583.5,154.9 584.2,154.6 584.9,154.3 585.6,154 586.3,153.8 587,153.5 587.7,153.3 588.4,153 589.1,152.8 589.8,152.6 590.5,152.4 591.2,152.2 591.9,152 592.6,151.8 593.3,151.6 594,151.5 594.7,151.3 595.4,151.2 596.1,151 596.8,150.9 597.5,150.8 598.2,150.6 598.9,150.5 599.6,150.4 600.3,150.3 601,150.3 601.7,150.2 602.4,150.1 603.1,150.1 603.8,150 604.5,150 605.2,149.9 605.9,149.9 606.6,149.9 607.3,149.9 608,149.9 608.7,149.9 609.4,149.9 610.1,149.9 610.8,149.9 611.5,149.9 612.2,150 612.9,150 613.6,150.1 614.3,150.1 615,150.2 615.7,150.2 616.4,150.3 617.1,150.4 617.8,150.4 618.5,150.5 619.2,150.6 619.9,150.7 620.6,150.8 621.3,150.9 622,151 622.7,151.1 623.4,151.2 624.1,151.3 624.8,151.5 625.5,151.6 626.2,151.7 626.9,151.9 627.6,152 628.3,152.1 629,152.3 629.7,152.4 630.4,152.6 631.1,152.7 631.8,152.9 632.5,153 633.2,153.2 633.9,153.3 634.6,153.5 635.3,153.7 636,153.9 636.7,154.1 637.4,154.3 638.1,154.5 638.8,154.7 639.5,154.9 640.2,155.2 640.9,155.4 641.6,155.7 642.3,155.9 643,156.2 643.7,156.5 644.4,156.8 645.1,157.2 645.8,157.5 646.5,157.9 647.2,158.2 647.9,158.6 648.6,159 649.3,159.4 650,159.8 650.7,160.2 651.4,160.6 652.1,161.1 652.8,161.5 653.5,162 654.2,162.4 654.9,162.9 655.6,163.4 656.3,163.8 657,164.3 657.7,164.8 658.4,165.3 659.1,165.7 659.8,166.2 660.5,166.7 661.2,167.2 661.9,167.6 662.6,168.1 663.3,168.5 664,169 664.7,169.4 665.4,169.8 666.1,170.2 666.8,170.6 667.5,171 668.2,171.4 668.9,171.7 669.6,172 670.3,172.4 671,172.6 671.7,172.9 672.4,173.1" fill="none" stroke="#000" stroke-width="3.1"/>
</g></g>
<rect x="417.80" y="19.10" width="266.40" height="203.70" fill="none" stroke="#000" stroke-width="1.26"/>
<path d="M443.80,222.80 v5.50 M531.60,222.80 v5.50 M619.40,222.80 v5.50" stroke="#000" stroke-width="1.26"/>
<path d="M424.32,222.80 v3.10 M430.20,222.80 v3.10 M435.29,222.80 v3.10 M439.78,222.80 v3.10 M470.23,222.80 v3.10 M485.69,222.80 v3.10 M496.66,222.80 v3.10 M505.17,222.80 v3.10 M512.12,222.80 v3.10 M518.00,222.80 v3.10 M523.09,222.80 v3.10 M527.58,222.80 v3.10 M558.03,222.80 v3.10 M573.49,222.80 v3.10 M584.46,222.80 v3.10 M592.97,222.80 v3.10 M599.92,222.80 v3.10 M605.80,222.80 v3.10 M610.89,222.80 v3.10 M615.38,222.80 v3.10 M645.83,222.80 v3.10 M661.29,222.80 v3.10 M672.26,222.80 v3.10 M680.77,222.80 v3.10" stroke="#000" stroke-width="0.94"/>
<path d="M417.80,214.10 h-5.50 M417.80,149.20 h-5.50 M417.80,84.30 h-5.50 M417.80,19.40 h-5.50" stroke="#000" stroke-width="1.26"/>
<text x="405.40" y="219.70" font-size="17" text-anchor="end">0</text>
<text x="405.40" y="154.80" font-size="17" text-anchor="end">1</text>
<text x="405.40" y="89.90" font-size="17" text-anchor="end">2</text>
<text x="405.40" y="25.00" font-size="17" text-anchor="end">3</text>
<text x="442.30" y="252.60" text-anchor="middle">10<tspan dy="-7" font-size="12.8">0</tspan></text>
<text x="530.10" y="252.60" text-anchor="middle">10<tspan dy="-7" font-size="12.8">1</tspan></text>
<text x="617.90" y="252.60" text-anchor="middle">10<tspan dy="-7" font-size="12.8">2</tspan></text>
<text x="542.0" y="274.8" font-style="italic">y</text>
<path d="M550.65,265.50h8.30M554.80,261.25v8.50" stroke="#2a2a2a" stroke-width="0.8"/>
<text x="364.70" y="17.00"><tspan font-size="20.5">(</tspan>b<tspan font-size="20.5">)</tspan></text>
<text x="592.60" y="54.00" font-style="italic">u</text>
<path d="M603.25,43.50h8.30M607.40,39.25v8.50" stroke="#2a2a2a" stroke-width="0.8"/>
<text x="602.50" y="58.20" font-size="12" font-style="italic" textLength="22.4" lengthAdjust="spacingAndGlyphs">rms</text>
<text x="538.00" y="112.40" font-style="italic">w</text>
<path d="M551.85,102.20h8.30M556.00,97.95v8.50" stroke="#2a2a2a" stroke-width="0.8"/>
<text x="551.10" y="117.20" font-size="12" font-style="italic" textLength="22.4" lengthAdjust="spacingAndGlyphs">rms</text>
<text x="583.80" y="177.40" font-style="italic">v</text>
<path d="M593.95,167.40h8.30M598.10,163.15v8.50" stroke="#2a2a2a" stroke-width="0.8"/>
<text x="593.20" y="182.20" font-size="12" font-style="italic" textLength="22.4" lengthAdjust="spacingAndGlyphs">rms</text>
<g id="pc">
<path d="M256.1,444.7 256,443.6 256,442.5 256.1,441.4 256.1,440.3 256.3,438.6 256.4,437.5 256.6,436.4 256.8,435.3 257.1,433.7 257.3,432.6 257.6,431.5 257.9,430.5 258.4,428.9 258.7,427.8 259.1,426.8 259.5,425.8 260.2,424.2 260.6,423.2 261.1,422.3 261.6,421.3 262.2,420.3 263,418.9 263.6,418 264.2,417.1 264.9,416.2 265.9,414.9 266.6,414.1 267.4,413.3 268.1,412.5 269.3,411.4 270.1,410.7 270.9,409.9 271.7,409.2 272.9,408.2 273.7,407.5 274.5,406.8 275.3,406.2 276.1,405.6 277.4,404.6 278.2,404 279,403.4 279.8,402.8 281.1,401.9 281.9,401.3 282.7,400.8 283.6,400.2 284.8,399.3 285.6,398.8 286.4,398.2 287.2,397.6 288.5,396.7 289.3,396.2 290.1,395.6 290.9,395 291.7,394.4 293,393.6 293.8,393 294.6,392.4 295.5,391.8 296.8,390.9 297.6,390.3 298.5,389.6 299.3,389 300.6,388 301.5,387.3 302.4,386.6 303.3,385.9 304.7,384.8 305.6,384.1 306.6,383.4 307.5,382.6 308.5,381.9 310,380.7 311.1,379.9 312.1,379.1 313.2,378.2 314.9,376.8 316,375.9 317.2,375 318.4,374 320.2,372.6 321.5,371.6 322.8,370.7 324.2,369.7 326.3,368.2 327.7,367.2 329.2,366.1 330.8,365 333.2,363.4 334.9,362.2 336.6,361.1 338.4,360 340.2,358.8 343.1,357.2 345,356.1 347,355 349.1,353.9 352.4,352.2 354.6,351.1 356.9,350.1 359.2,349.1 362.8,347.7 365.2,346.9 367.7,346.1 370.2,345.3 374.2,344.2 376.9,343.5 379.6,342.9 382.4,342.3 385.2,341.7 389.5,341.1 392.4,340.8 395.3,340.5 398.2,340.4 402.5,340.4 405.4,340.6 408.2,340.9 411,341.4 415.1,342.3 417.7,343.1 420.2,344.1 422.7,345.2 426,347.2 428,348.8 429.9,350.5 431.5,352.5 432.8,354.6 434.4,358.2 435.1,360.8 435.5,363.5 435.8,366.4 435.8,370.7 435.7,373.6 435.5,376.4 435.2,379.3 434.8,383.4 434.6,386.1 434.3,388.8 434,391.4 433.6,395.1 433.3,397.6 433.1,400 432.9,402.3 432.8,404.6 432.6,408 432.5,410.2 432.5,412.3 432.4,414.5 432.4,417.6 432.4,419.7 432.3,421.8 432.3,423.8 432.2,426.9 432.2,428.9 432.1,430.9 432,432.9 431.8,435.9 431.6,437.8 431.5,439.8 431.2,441.8 431,443.7 430.5,446.6 430.1,448.6 429.5,450.5 428.8,452.3 427.6,455.1 426.5,456.9 425.2,458.6 423.7,460.3 421,462.6 419,464 416.7,465.3 414.4,466.6 410.7,468.3 408.3,469.3 406.1,470.3 403.9,471.3 400.9,472.7 399,473.6 397.2,474.5 395.5,475.4 393.8,476.2 391.3,477.4 389.6,478.1 388,478.8 386.3,479.4 383.8,480.3 382.2,480.9 380.6,481.4 379.1,481.9 376.9,482.6 375.5,483.1 374.1,483.6 372.7,484 370.8,484.7 369.5,485.1 368.2,485.5 367,485.9 365.8,486.3 364,486.9 362.9,487.2 361.8,487.6 360.7,488 359.2,488.7 358.2,489.1 357.2,489.6 356.3,490 354.9,490.7 353.9,491.1 353,491.5 352,491.9 350.6,492.5 349.7,492.8 348.7,493.2 347.8,493.5 346.8,493.8 345.4,494.3 344.5,494.6 343.5,494.9 342.6,495.2 341.2,495.6 340.3,495.9 339.4,496.2 338.4,496.5 337.1,496.9 336.1,497.1 335.2,497.4 334.3,497.7 332.9,498.1 332,498.4 331.1,498.6 330.1,498.9 329.2,499.2 327.8,499.6 326.9,499.8 325.9,500.1 325,500.3 323.5,500.6 322.5,500.8 321.6,501 320.6,501.2 319.1,501.5 318.1,501.7 317.1,501.8 316.1,502 314.6,502.1 313.6,502.2 312.5,502.2 311.5,502.2 310,502.1 309,502.1 308,501.9 306.9,501.8 305.9,501.6 304.4,501.4 303.4,501.1 302.4,500.9 301.4,500.6 300,500.2 299,499.9 298,499.5 297,499.2 295.6,498.6 294.6,498.3 293.7,497.9 292.7,497.5 291.3,496.8 290.4,496.4 289.4,495.9 288.5,495.4 287.6,494.9 286.3,494.1 285.4,493.6 284.5,493 283.6,492.5 282.3,491.6 281.4,491 280.6,490.4 279.7,489.8 278.5,488.8 277.6,488.2 276.8,487.5 276,486.8 274.7,485.8 273.9,485.1 273.1,484.4 272.4,483.6 271.6,482.9 270.5,481.7 269.8,480.9 269.1,480.1 268.4,479.2 267.4,478 266.7,477.1 266.1,476.2 265.5,475.3 264.6,473.9 264.1,473 263.5,472 263,471.1 262.3,469.6 261.8,468.6 261.3,467.6 260.9,466.6 260.5,465.6 259.9,464.1 259.6,463 259.3,462 258.9,461 258.5,459.4 258.2,458.3 257.9,457.3 257.6,456.2 257.3,454.6 257.1,453.5 256.9,452.4 256.7,451.3 256.5,449.7 256.3,448.6 256.2,447.5 256.2,446.4Z" fill="#000084"/>
<path d="M257.5,444.7 257.5,443.6 257.5,442.5 257.5,441.4 257.6,439.8 257.7,438.7 257.8,437.7 258.1,436.1 258.3,435 258.5,433.9 258.8,432.9 259.2,431.3 259.5,430.3 259.8,429.2 260.4,427.7 260.8,426.7 261.2,425.7 261.6,424.7 262.3,423.3 262.8,422.3 263.4,421.4 264.2,420 264.8,419.1 265.4,418.2 266.3,417 267,416.1 267.7,415.3 268.4,414.5 269.5,413.4 270.2,412.7 271,411.9 272.2,410.9 273,410.2 273.8,409.5 274.5,408.9 275.7,407.9 276.5,407.3 277.3,406.6 278.5,405.7 279.3,405.1 280.1,404.5 281.3,403.7 282.1,403.1 282.9,402.5 283.7,402 284.9,401.1 285.7,400.6 286.5,400 287.7,399.1 288.5,398.6 289.3,398 290.1,397.5 291.3,396.6 292.1,396 292.9,395.5 294.1,394.6 294.9,394 295.7,393.5 296.5,392.9 297.8,392 298.6,391.4 299.4,390.8 300.7,389.8 301.6,389.2 302.4,388.5 303.7,387.5 304.6,386.8 305.5,386.1 306.5,385.4 307.9,384.4 308.8,383.6 309.8,382.9 311.3,381.8 312.3,381 313.4,380.1 314.5,379.3 316.1,378 317.2,377.1 318.4,376.2 320.2,374.8 321.5,373.9 322.7,373 324.7,371.6 326.1,370.6 327.5,369.7 328.9,368.7 331.2,367.1 332.8,366 334.4,364.9 336.9,363.3 338.7,362.2 340.5,361.1 342.3,360 345.2,358.3 347.2,357.3 349.2,356.2 352.4,354.6 354.6,353.5 356.9,352.5 360.3,351 362.7,350.1 365.2,349.2 367.7,348.3 371.5,347 374.2,346.2 376.9,345.5 381.1,344.4 383.9,343.8 386.7,343.3 389.6,342.9 393.8,342.5 396.7,342.4 399.6,342.4 403.8,342.6 406.6,342.9 409.3,343.3 411.9,343.9 415.8,345.1 418.3,346 420.6,347.2 423.8,349.2 425.8,350.7 427.5,352.5 429.8,355.5 430.9,357.7 431.8,360.1 432.5,362.7 433,366.8 433.1,369.6 433,372.4 432.8,376.7 432.6,379.5 432.3,382.2 432.1,384.9 431.6,388.8 431.4,391.4 431.1,393.9 430.7,397.5 430.5,399.9 430.3,402.2 430.1,405.6 430,407.8 429.9,409.9 429.9,412 429.8,415.2 429.8,417.2 429.7,419.3 429.6,422.3 429.5,424.3 429.4,426.3 429.3,428.3 429.1,431.3 429,433.2 428.8,435.1 428.4,438 428.2,440 427.9,441.9 427.4,444.7 427,446.6 426.5,448.4 426,450.3 424.9,453 424,454.8 423,456.5 421.1,459 419.5,460.5 417.8,462 415.8,463.4 412.6,465.3 410.4,466.5 408.1,467.6 404.7,469.1 402.6,470.1 400.6,471 398.6,471.9 395.9,473.2 394.2,474.1 392.5,474.9 390.1,476.1 388.4,476.8 386.8,477.5 384.3,478.4 382.7,479 381.2,479.5 379.6,480.1 377.4,480.8 375.9,481.3 374.5,481.8 372.5,482.4 371.2,482.9 370,483.3 368.7,483.8 366.9,484.4 365.7,484.8 364.6,485.2 362.9,485.8 361.8,486.2 360.8,486.6 359.2,487.2 358.3,487.6 357.3,488.1 356.4,488.5 355,489.2 354.1,489.6 353.1,490 351.7,490.6 350.8,491 349.9,491.4 349,491.7 347.6,492.2 346.6,492.5 345.7,492.8 344.3,493.3 343.4,493.5 342.5,493.8 341.6,494.1 340.2,494.5 339.3,494.8 338.4,495.1 337.1,495.5 336.2,495.7 335.3,496 333.9,496.4 333,496.6 332.1,496.9 331.2,497.2 329.9,497.5 329,497.8 328,498 326.7,498.4 325.7,498.6 324.8,498.8 323.9,499 322.5,499.3 321.5,499.5 320.6,499.7 319.1,500 318.1,500.1 317.2,500.3 315.7,500.5 314.7,500.6 313.7,500.6 312.7,500.7 311.2,500.7 310.2,500.6 309.2,500.6 307.8,500.4 306.8,500.2 305.8,500.1 304.8,499.9 303.4,499.5 302.4,499.3 301.4,499 300,498.6 299,498.3 298.1,497.9 296.7,497.4 295.7,497 294.8,496.7 293.9,496.3 292.5,495.7 291.6,495.2 290.7,494.8 289.3,494.1 288.4,493.6 287.6,493.1 286.7,492.6 285.4,491.8 284.5,491.2 283.7,490.7 282.4,489.8 281.6,489.2 280.7,488.6 279.9,488 278.7,487.1 277.8,486.5 277,485.8 275.8,484.8 275,484.1 274.3,483.4 273.1,482.3 272.4,481.6 271.7,480.8 271,480 269.9,478.8 269.3,478 268.6,477.2 267.7,475.9 267.1,475 266.5,474.1 265.9,473.2 265.1,471.9 264.6,470.9 264.1,470 263.4,468.6 262.9,467.6 262.5,466.6 261.9,465.1 261.5,464.1 261.2,463.1 260.8,462.1 260.3,460.6 260,459.6 259.7,458.5 259.3,457 259,455.9 258.8,454.9 258.6,453.8 258.3,452.2 258.1,451.2 258,450.1 257.8,448.5 257.7,447.4 257.6,446.3Z" fill="#000096"/>
<path d="M258.9,444.7 258.9,443.6 258.9,442.6 258.9,441 259,439.9 259.1,438.9 259.3,437.3 259.5,436.3 259.7,435.2 260.1,433.7 260.3,432.6 260.6,431.6 261.1,430.1 261.5,429.1 262,427.6 262.4,426.7 262.9,425.7 263.6,424.3 264,423.4 264.6,422.5 265.4,421.1 265.9,420.2 266.5,419.4 267.4,418.1 268.1,417.3 269.1,416.1 269.8,415.4 270.5,414.6 271.6,413.5 272.4,412.8 273.1,412.2 274.3,411.2 275,410.5 275.8,409.9 277,408.9 277.8,408.3 278.5,407.7 279.7,406.8 280.5,406.3 281.6,405.4 282.4,404.8 283.2,404.3 284.4,403.4 285.1,402.9 285.9,402.3 287,401.5 287.8,401 288.6,400.4 289.7,399.6 290.5,399 291.7,398.2 292.4,397.6 293.2,397.1 294.4,396.2 295.2,395.7 296,395.1 297.2,394.3 298,393.7 298.8,393.1 300,392.2 300.8,391.6 302.1,390.7 302.9,390.1 303.7,389.4 305,388.4 305.9,387.8 306.8,387.1 308.2,386.1 309.1,385.4 310.1,384.7 311.6,383.6 312.6,382.9 313.6,382.1 315.1,380.9 316.2,380 317.9,378.7 319,377.9 320.2,377 322,375.7 323.3,374.9 324.5,374 326.5,372.6 327.9,371.7 329.3,370.7 331.6,369.2 333.1,368.1 335.5,366.5 337.2,365.5 338.9,364.4 341.5,362.8 343.4,361.7 345.3,360.7 348.3,359.1 350.3,358 352.4,356.9 355.7,355.4 357.9,354.4 360.3,353.4 363.9,351.9 366.3,351 370.2,349.5 372.9,348.6 375.6,347.7 379.7,346.6 382.5,345.9 385.4,345.4 389.6,344.7 392.4,344.5 395.2,344.3 399.4,344.4 402.2,344.5 406.2,345.1 408.8,345.6 411.4,346.2 415.1,347.5 417.4,348.6 419.6,349.8 422.6,351.9 424.4,353.6 426,355.4 427.9,358.6 428.9,360.9 429.8,364.6 430.2,367.3 430.3,370 430.3,374.2 430.1,377 429.9,379.7 429.5,383.8 429.3,386.4 429,389 428.6,392.7 428.4,395.1 428.2,397.5 427.9,401 427.7,403.2 427.5,406.5 427.4,408.6 427.3,410.7 427.2,413.8 427.2,415.9 427.1,417.9 427,420.9 426.9,422.9 426.8,424.8 426.6,427.8 426.4,429.7 426.1,432.6 425.8,434.5 425.5,436.4 425.1,439.2 424.7,441 424.4,442.9 423.8,445.6 423.3,447.4 422.8,449.2 421.8,451.8 421,453.6 420,455.3 418.3,457.7 416.9,459.2 414.5,461.4 412.7,462.8 410.7,464.1 407.6,465.8 405.4,466.9 403.3,467.9 400.2,469.3 398.3,470.3 396.4,471.1 393.8,472.4 392.1,473.2 389.6,474.4 388,475.1 386.4,475.8 384,476.8 382.4,477.4 380.8,477.9 378.5,478.7 377.1,479.2 375.6,479.7 373.6,480.4 372.2,480.9 370.3,481.6 369.1,482 367.9,482.4 366.2,483.1 365,483.5 363.9,483.9 362.3,484.5 361.3,484.9 360.2,485.3 358.7,486 357.8,486.4 356.9,486.8 355.5,487.5 354.6,487.9 353.2,488.5 352.3,488.9 351.4,489.3 350.1,489.9 349.2,490.2 348.3,490.6 346.9,491 346,491.3 345.1,491.6 343.7,492.1 342.8,492.3 341.5,492.8 340.6,493 339.7,493.3 338.4,493.7 337.5,493.9 336.6,494.2 335.3,494.6 334.5,494.8 333.6,495.1 332.3,495.5 331.4,495.7 330.5,495.9 329.2,496.3 328.3,496.5 326.9,496.9 326,497.1 325.1,497.3 323.8,497.6 322.8,497.8 321.9,497.9 320.5,498.2 319.6,498.4 318.7,498.5 317.2,498.8 316.3,498.9 314.8,499.1 313.9,499.1 312.9,499.2 311.5,499.2 310.5,499.1 309.5,499.1 308.1,498.9 307.1,498.8 306.2,498.6 304.7,498.3 303.8,498.1 302.4,497.7 301.4,497.4 300.5,497.1 299.1,496.7 298.2,496.3 297.3,496 295.9,495.5 295,495.1 294.1,494.7 292.8,494.1 291.9,493.7 291,493.2 289.7,492.5 288.8,492.1 287.6,491.3 286.7,490.8 285.9,490.3 284.6,489.5 283.8,488.9 283,488.4 281.7,487.5 280.9,486.9 280.1,486.3 278.9,485.4 278.1,484.8 276.9,483.8 276.1,483.1 275.4,482.5 274.3,481.4 273.6,480.7 272.8,479.9 271.8,478.8 271.1,478 270.5,477.2 269.5,476 268.9,475.1 268.3,474.3 267.5,473 266.9,472.1 266.1,470.8 265.6,469.9 265.2,468.9 264.5,467.5 264.1,466.6 263.6,465.6 263.1,464.2 262.7,463.2 262.4,462.2 261.9,460.7 261.6,459.7 261.1,458.2 260.8,457.2 260.6,456.2 260.2,454.6 260,453.6 259.8,452.6 259.5,451 259.4,450 259.3,448.9 259.1,447.3 259,446.3Z" fill="#0000a4"/>
<path d="M260.3,444.7 260.3,443.7 260.3,442.6 260.3,441.1 260.4,440 260.6,438.5 260.8,437.5 260.9,436.5 261.3,434.9 261.5,433.9 261.9,432.4 262.2,431.5 262.7,430 263.1,429 263.5,428.1 264.1,426.7 264.6,425.7 265.3,424.4 265.8,423.5 266.5,422.2 267.1,421.3 267.7,420.5 268.6,419.3 269.2,418.5 270.2,417.3 270.9,416.6 271.9,415.5 272.6,414.8 273.3,414.1 274.5,413.1 275.2,412.4 276.3,411.5 277.1,410.9 278.2,410 279,409.4 279.7,408.8 280.9,408 281.6,407.4 282.8,406.6 283.5,406 284.3,405.5 285.4,404.6 286.1,404.1 287.2,403.3 288,402.7 289.1,401.9 289.8,401.4 290.6,400.8 291.7,400 292.4,399.5 293.6,398.7 294.3,398.1 295.5,397.3 296.2,396.8 297,396.2 298.2,395.4 299,394.8 300.1,394 300.9,393.4 302.1,392.5 303,391.9 303.8,391.3 305,390.4 305.9,389.7 307.2,388.8 308.1,388.1 309.5,387.2 310.4,386.5 311.3,385.8 312.8,384.8 313.8,384 315.3,382.9 316.3,382.1 317.4,381.3 319,380.1 320.2,379.2 321.9,378 323.1,377.2 325,375.9 326.3,375.1 327.6,374.2 329.7,372.8 331.1,371.8 333.4,370.3 334.9,369.3 337.4,367.7 339.1,366.7 340.8,365.6 343.5,364 345.4,363 348.3,361.4 350.3,360.4 353.4,358.8 355.6,357.8 357.8,356.7 361.3,355.2 363.8,354.1 367.6,352.5 370.2,351.5 374.3,350 377,349.1 379.8,348.3 384,347.4 386.8,346.9 391,346.5 393.7,346.3 396.5,346.3 400.5,346.5 403.2,346.8 407.1,347.6 409.6,348.2 413.2,349.5 415.4,350.5 417.5,351.8 420.4,353.9 422.1,355.6 424.3,358.4 425.4,360.5 426.7,364 427.2,366.5 427.5,369.1 427.6,373.2 427.5,375.9 427.3,380 427,382.7 426.6,386.6 426.4,389.1 426.1,391.6 425.8,395.2 425.5,397.5 425.3,400.9 425.1,403.1 424.9,406.4 424.8,408.5 424.8,410.5 424.7,413.6 424.6,415.6 424.5,418.6 424.4,420.5 424.2,422.5 424,425.3 423.8,427.3 423.5,430.1 423.2,432 422.7,434.8 422.4,436.6 422,438.4 421.4,441.1 421,442.9 420.3,445.6 419.8,447.3 418.9,449.9 418.2,451.6 417.4,453.3 416,455.7 414.9,457.2 412.8,459.5 411.3,460.9 408.7,462.8 406.8,464 404.8,465.2 401.8,466.7 399.8,467.7 396.9,469.1 395,469.9 392.4,471.2 390.7,472 389.1,472.8 386.7,473.9 385.1,474.5 382.7,475.5 381.2,476.1 379.7,476.6 377.4,477.4 376,477.9 373.9,478.6 372.6,479.1 370.6,479.8 369.4,480.2 368.2,480.7 366.5,481.3 365.4,481.8 363.7,482.4 362.7,482.8 361.2,483.5 360.2,483.9 359.2,484.3 357.8,484.9 356.8,485.3 355.5,486 354.6,486.4 353.3,487 352.4,487.4 351.5,487.8 350.2,488.4 349.3,488.8 348,489.2 347.1,489.6 345.8,490 344.9,490.3 344,490.6 342.7,491 341.8,491.3 340.5,491.7 339.6,491.9 338.8,492.2 337.5,492.6 336.6,492.8 335.4,493.2 334.5,493.4 333.2,493.8 332.4,494 331.5,494.3 330.2,494.6 329.3,494.8 328,495.2 327.2,495.4 325.9,495.7 325,495.8 324.1,496 322.8,496.3 321.9,496.5 320.5,496.7 319.6,496.9 318.2,497.1 317.3,497.2 316.4,497.4 315,497.5 314,497.6 312.6,497.6 311.7,497.6 310.3,497.6 309.3,497.5 308.4,497.4 307,497.2 306.1,497 304.7,496.7 303.8,496.5 302.8,496.3 301.5,495.8 300.6,495.5 299.2,495.1 298.4,494.7 297,494.2 296.1,493.9 295.3,493.5 294,492.9 293.1,492.5 291.8,491.9 290.9,491.5 289.7,490.8 288.8,490.3 288,489.8 286.8,489 286,488.5 284.8,487.7 284,487.2 282.7,486.4 281.9,485.8 281.1,485.2 280,484.3 279.2,483.7 278,482.8 277.3,482.2 276.1,481.2 275.4,480.5 274.7,479.8 273.7,478.7 273,477.9 272,476.8 271.4,476 270.8,475.2 269.9,474 269.3,473.2 268.5,471.9 267.9,471 267.2,469.7 266.7,468.8 266.3,467.9 265.6,466.5 265.2,465.6 264.6,464.2 264.3,463.2 263.8,461.8 263.4,460.8 263.1,459.8 262.7,458.4 262.4,457.4 262,455.9 261.7,454.9 261.4,453.4 261.2,452.4 261,451.4 260.8,449.8 260.7,448.8 260.5,447.3 260.4,446.2Z" fill="#0000b6"/>
<path d="M261.7,444.7 261.7,443.7 261.7,442.7 261.8,441.2 261.8,440.2 262,438.6 262.2,437.6 262.5,436.2 262.7,435.2 263.1,433.7 263.4,432.7 263.8,431.3 264.2,430.4 264.8,429 265.2,428.1 265.8,426.7 266.2,425.8 267,424.5 267.5,423.6 268.3,422.4 268.8,421.6 269.7,420.4 270.3,419.6 271.3,418.5 271.9,417.7 272.9,416.7 273.6,416 274.7,415 275.4,414.3 276.5,413.4 277.2,412.8 278.4,411.9 279.1,411.3 280.2,410.5 280.9,409.9 282,409.1 282.8,408.5 283.9,407.7 284.6,407.2 285.7,406.4 286.4,405.8 287.5,405 288.2,404.5 289.3,403.7 290,403.2 291,402.4 291.8,401.8 292.8,401 293.6,400.5 294.7,399.7 295.4,399.2 296.5,398.4 297.3,397.9 298.4,397.1 299.2,396.5 300.3,395.7 301.1,395.2 302.2,394.3 303,393.7 303.8,393.1 305.1,392.3 305.9,391.7 307.1,390.8 308,390.2 309.3,389.2 310.2,388.6 311.6,387.7 312.5,387 313.9,386 314.9,385.2 316.4,384.1 317.5,383.4 319.1,382.2 320.2,381.5 321.8,380.3 323,379.5 324.8,378.4 326.1,377.5 328,376.3 329.3,375.4 331.4,374 332.9,373 335.2,371.5 336.7,370.5 339.2,368.9 340.9,367.9 343.5,366.4 345.4,365.3 348.3,363.8 350.2,362.8 353.3,361.2 355.5,360.1 358.9,358.5 361.3,357.4 365,355.6 367.6,354.5 371.6,352.8 374.3,351.8 378.5,350.4 381.3,349.7 385.4,348.9 388.2,348.6 392.3,348.3 394.9,348.3 398.9,348.5 401.5,348.8 405.3,349.5 407.7,350.2 411.2,351.5 413.4,352.5 416.4,354.4 418.2,355.9 420.6,358.5 421.9,360.4 423.4,363.6 424.1,366 424.6,368.4 424.9,372.3 424.9,375 424.7,379 424.5,381.7 424.1,385.6 423.8,388.1 423.4,391.8 423.2,394.2 422.9,397.6 422.7,399.9 422.5,403.1 422.4,405.2 422.3,408.3 422.2,410.4 422.1,413.4 422,415.3 421.9,418.2 421.8,420.2 421.6,423 421.4,424.9 421,427.7 420.8,429.6 420.3,432.3 419.9,434.2 419.3,436.9 418.8,438.6 418.1,441.3 417.7,443 416.9,445.5 416.3,447.2 415.4,449.7 414.7,451.3 413.4,453.7 412.5,455.3 410.8,457.5 409.5,458.9 407.3,461 405.6,462.2 403,463.9 401.1,465 398.3,466.5 396.4,467.4 393.7,468.8 391.9,469.6 389.4,470.8 387.8,471.5 385.4,472.6 383.8,473.3 381.5,474.2 380,474.8 377.7,475.6 376.3,476.1 374.2,476.9 372.8,477.3 370.9,478 369.6,478.4 367.8,479.1 366.7,479.5 365.6,480 364,480.6 363,481.1 361.5,481.7 360.5,482.2 359.1,482.8 358.1,483.2 356.8,483.9 355.9,484.3 354.6,484.9 353.7,485.4 352.4,486 351.6,486.4 350.3,486.9 349.4,487.3 348.1,487.8 347.3,488.1 346,488.6 345.1,488.8 343.8,489.3 342.9,489.5 341.7,489.9 340.8,490.2 339.5,490.6 338.7,490.8 337.4,491.2 336.6,491.4 335.4,491.8 334.5,492 333.3,492.4 332.4,492.6 331.2,492.9 330.3,493.2 329.1,493.5 328.2,493.7 327,494 326.1,494.1 324.8,494.4 324,494.6 322.7,494.8 321.8,495 320.5,495.2 319.6,495.3 318.3,495.6 317.4,495.7 316,495.9 315.1,496 313.7,496.1 312.8,496.1 311.5,496.1 310.5,496.1 309.2,496 308.3,495.9 306.9,495.6 306,495.5 304.7,495.2 303.8,494.9 302.9,494.7 301.6,494.3 300.7,494 299.4,493.5 298.5,493.2 297.2,492.7 296.4,492.3 295.1,491.8 294.3,491.4 293,490.8 292.2,490.4 290.9,489.7 290.1,489.2 288.9,488.5 288.1,488.1 286.9,487.3 286.1,486.8 284.9,486 284.1,485.5 283,484.7 282.2,484.1 281,483.3 280.2,482.7 279.1,481.8 278.4,481.2 277.3,480.2 276.6,479.5 275.5,478.5 274.9,477.8 273.9,476.7 273.2,476 272.3,474.8 271.7,474 270.8,472.8 270.3,472 269.5,470.8 269,469.9 268.3,468.6 267.8,467.8 267.2,466.4 266.8,465.5 266.2,464.1 265.8,463.2 265.3,461.8 265,460.9 264.5,459.5 264.2,458.5 263.8,457.1 263.5,456.1 263.2,454.7 262.9,453.7 262.6,452.2 262.5,451.2 262.2,449.7 262.1,448.7 261.9,447.2 261.8,446.2Z" fill="#0000c4"/>
<path d="M263.2,444.7 263.1,443.7 263.1,442.2 263.2,441.2 263.3,439.8 263.4,438.8 263.7,437.3 264,435.9 264.3,434.9 264.7,433.5 265,432.6 265.5,431.2 265.8,430.3 266.4,428.9 267,427.6 267.5,426.8 268.2,425.5 268.7,424.6 269.5,423.4 270,422.6 270.9,421.5 271.8,420.3 272.4,419.6 273.3,418.5 274,417.8 275,416.8 275.7,416.2 276.8,415.3 277.8,414.4 278.5,413.8 279.6,412.9 280.4,412.3 281.4,411.5 282.2,411 283.2,410.2 284.3,409.4 285,408.9 286,408.1 286.7,407.5 287.8,406.8 288.5,406.2 289.5,405.5 290.5,404.7 291.2,404.2 292.2,403.4 292.9,402.9 294,402.1 294.7,401.6 295.8,400.8 296.8,400 297.6,399.5 298.7,398.7 299.4,398.2 300.5,397.4 301.2,396.9 302.4,396.1 303.5,395.2 304.3,394.7 305.5,393.8 306.3,393.3 307.5,392.4 308.4,391.9 309.6,391 311,390.1 311.8,389.5 313.2,388.6 314.1,387.9 315.6,386.9 316.5,386.2 318,385.1 319.6,384 320.7,383.3 322.3,382.2 323.5,381.5 325.2,380.4 326.4,379.6 328.3,378.4 330.3,377.1 331.7,376.2 333.8,374.7 335.3,373.7 337.7,372.2 339.3,371.2 341.8,369.7 344.5,368.2 346.3,367.2 349.2,365.7 351.1,364.6 354.3,363 356.5,361.9 360,360.1 363.7,358.2 366.2,357 370.3,355.1 373,354 377.2,352.6 379.9,351.8 384.1,350.9 388.1,350.4 390.8,350.2 394.7,350.3 397.3,350.5 401.1,351 403.5,351.5 407,352.6 410.3,354 412.4,355.1 415.2,357.1 416.8,358.7 418.9,361.4 420,363.4 421.2,366.7 421.9,370.3 422.2,372.9 422.2,376.8 422,379.4 421.7,383.4 421.4,385.9 421,389.6 420.7,393.2 420.5,395.5 420.2,398.9 420,401 419.9,404.2 419.8,406.2 419.7,409.3 419.5,412.2 419.5,414.2 419.4,417 419.2,418.9 419,421.7 418.9,423.6 418.5,426.4 418.1,429.1 417.7,430.9 417.1,433.6 416.6,435.4 415.9,438 415.4,439.7 414.6,442.2 413.7,444.7 413.1,446.3 412.2,448.7 411.5,450.3 410.3,452.6 409.5,454.1 408,456.3 406.2,458.4 404.8,459.7 402.6,461.6 401,462.7 398.4,464.3 396.6,465.3 394,466.7 391.4,468 389.7,468.8 387.2,470 385.6,470.7 383.2,471.7 381.7,472.4 379.4,473.2 377.2,474.1 375.8,474.6 373.7,475.3 372.4,475.8 370.4,476.5 369.2,476.9 367.4,477.6 365.7,478.2 364.7,478.7 363.1,479.3 362.1,479.8 360.7,480.4 359.8,480.9 358.4,481.5 357.1,482.2 356.2,482.6 354.9,483.3 354.1,483.7 352.8,484.3 352,484.7 350.8,485.3 349.5,485.8 348.7,486.2 347.4,486.7 346.5,487 345.3,487.4 344.4,487.7 343.2,488.1 341.9,488.5 341.1,488.7 339.8,489.1 339,489.3 337.8,489.7 337,490 335.8,490.3 334.5,490.7 333.7,490.9 332.5,491.2 331.7,491.4 330.5,491.7 329.6,491.9 328.4,492.2 327.2,492.5 326.3,492.6 325.1,492.9 324.3,493 323,493.3 322.2,493.4 320.9,493.6 319.6,493.8 318.7,494 317.4,494.2 316.6,494.3 315.2,494.5 314.4,494.5 313,494.6 311.7,494.6 310.8,494.6 309.5,494.5 308.6,494.4 307.3,494.2 306.4,494 305.1,493.7 303.8,493.3 302.9,493.1 301.7,492.7 300.8,492.4 299.6,491.9 298.7,491.6 297.5,491.1 296.2,490.6 295.4,490.2 294.2,489.6 293.4,489.2 292.2,488.6 291.4,488.2 290.2,487.5 289,486.8 288.2,486.3 287.1,485.6 286.3,485.1 285.1,484.3 284.4,483.8 283.2,483 282.1,482.2 281.3,481.7 280.2,480.8 279.5,480.2 278.4,479.3 277.7,478.6 276.7,477.6 275.7,476.6 275.1,475.9 274.1,474.8 273.5,474 272.7,472.9 272.1,472.1 271.3,470.9 270.5,469.7 270,468.9 269.4,467.6 268.9,466.7 268.3,465.4 267.9,464.5 267.4,463.2 266.9,461.8 266.5,460.9 266.1,459.5 265.8,458.6 265.3,457.2 265.1,456.3 264.7,454.9 264.4,453.5 264.1,452.5 263.9,451 263.7,450.1 263.5,448.6 263.4,447.6 263.3,446.2Z" fill="#0000d6"/>
<path d="M264.6,444.7 264.5,443.7 264.6,442.3 264.6,441.3 264.7,439.9 264.9,438.5 265.1,437.5 265.5,436.1 265.8,434.7 266.1,433.8 266.6,432.5 267.1,431.1 267.5,430.2 268.1,428.9 268.7,427.7 269.2,426.8 269.9,425.6 270.7,424.4 271.2,423.7 272,422.5 272.6,421.8 273.5,420.7 274.4,419.7 275.1,419 276.1,418 277.1,417.1 277.8,416.5 278.8,415.6 279.8,414.7 280.5,414.2 281.6,413.4 282.7,412.6 283.4,412.1 284.4,411.3 285.4,410.5 286.1,410 287.1,409.2 287.8,408.7 288.8,408 289.8,407.2 290.4,406.7 291.4,405.9 292.4,405.2 293.1,404.6 294.1,403.9 295.1,403.1 295.8,402.6 296.8,401.9 297.9,401.1 298.6,400.6 299.6,399.9 300.7,399.1 301.4,398.6 302.5,397.8 303.3,397.3 304.4,396.5 305.5,395.7 306.3,395.2 307.5,394.4 308.7,393.5 309.6,393 310.8,392.2 312.1,391.3 313,390.8 314.3,389.8 315.7,388.9 316.6,388.2 318.1,387.2 319.6,386.2 320.6,385.6 322.2,384.6 323.3,383.9 325,382.8 326.8,381.7 328,380.9 329.9,379.7 331.9,378.4 333.3,377.4 335.5,376 337.7,374.5 339.3,373.6 341.8,372.1 344.4,370.6 346.2,369.6 349,368 352,366.4 354.1,365.3 357.5,363.5 359.9,362.2 363.6,360.1 367.6,358.1 370.3,356.8 374.5,355.2 378.6,353.8 381.3,353.2 385.4,352.5 389.3,352.2 391.9,352.2 395.7,352.4 399.3,353 401.7,353.5 405.2,354.5 408.4,355.9 410.3,357.1 413,359.1 414.6,360.7 416.5,363.4 418,366.4 418.7,368.7 419.3,372.3 419.5,376 419.5,378.6 419.2,382.5 418.8,386.3 418.5,388.7 418.1,392.3 417.8,395.7 417.6,398 417.4,401.2 417.2,404.3 417.2,406.3 417.1,409.2 417,411.2 416.9,414 416.8,416.8 416.7,418.7 416.5,421.4 416.2,424.2 415.9,426 415.4,428.7 414.8,431.3 414.4,433.1 413.6,435.7 412.7,438.2 412.1,439.9 411.2,442.3 410.3,444.7 409.7,446.3 408.7,448.6 408,450.1 406.8,452.3 405.5,454.5 404.5,455.9 402.8,457.9 400.9,459.8 399.5,461 397.3,462.6 394.9,464.2 393.2,465.1 390.7,466.4 388.2,467.7 386.6,468.4 384.2,469.5 381.9,470.5 380.4,471.1 378.1,472 376.7,472.5 374.6,473.3 372.5,474 371.2,474.5 369.3,475.2 367.5,475.8 366.4,476.2 364.7,476.9 363.2,477.5 362.2,478 360.8,478.7 359.4,479.3 358.6,479.8 357.3,480.5 356,481.1 355.2,481.6 354,482.2 353.2,482.6 352,483.3 350.7,483.9 349.9,484.2 348.7,484.8 347.5,485.2 346.6,485.5 345.4,486 344.2,486.4 343.3,486.6 342.1,487 340.9,487.4 340.1,487.6 338.9,488 337.7,488.4 336.9,488.6 335.7,488.9 334.9,489.2 333.7,489.5 332.5,489.8 331.7,490 330.5,490.3 329.4,490.6 328.6,490.7 327.3,491 326.1,491.2 325.3,491.4 324.1,491.6 322.9,491.8 322.1,491.9 320.8,492.1 319.6,492.3 318.8,492.5 317.5,492.7 316.7,492.8 315.4,492.9 314.1,493 313.2,493.1 311.9,493.1 310.6,493 309.8,493 308.5,492.8 307.2,492.6 306.4,492.4 305.1,492.1 303.9,491.8 303,491.5 301.8,491.1 300.6,490.6 299.8,490.3 298.5,489.9 297.7,489.5 296.5,489 295.3,488.5 294.5,488.1 293.4,487.5 292.2,486.9 291.4,486.5 290.3,485.8 289.1,485.1 288.4,484.6 287.3,483.9 286.1,483.2 285.4,482.7 284.3,481.9 283.1,481.2 282.4,480.6 281.3,479.8 280.6,479.2 279.5,478.3 278.5,477.4 277.9,476.7 276.9,475.7 276,474.7 275.4,474 274.5,472.9 273.6,471.8 273.1,471 272.3,469.8 271.6,468.6 271.1,467.8 270.5,466.6 269.9,465.3 269.5,464.4 268.9,463.1 268.6,462.3 268.1,460.9 267.6,459.6 267.3,458.7 266.9,457.4 266.5,456 266.2,455.1 265.9,453.7 265.6,452.3 265.4,451.4 265.1,449.9 264.9,448.5 264.8,447.6 264.7,446.1Z" fill="#0000e8"/>
<path d="M266,444.7 266,443.8 266,442.4 266,441 266.1,440 266.4,438.6 266.7,437.3 267,435.9 267.3,435 267.7,433.7 268.2,432.4 268.6,431.5 269.1,430.2 269.8,429 270.4,427.8 270.9,427 271.6,425.8 272.4,424.7 273.2,423.6 273.8,422.8 274.6,421.8 275.5,420.8 276.2,420.1 277.1,419.2 278.1,418.3 279.1,417.4 279.8,416.8 280.8,416 281.8,415.2 282.9,414.4 283.5,413.9 284.6,413.2 285.6,412.4 286.6,411.7 287.2,411.2 288.2,410.4 289.1,409.7 289.8,409.2 290.7,408.4 291.7,407.7 292.6,406.9 293.3,406.4 294.3,405.7 295.2,404.9 295.9,404.4 296.9,403.7 297.9,403 298.9,402.2 299.6,401.8 300.6,401 301.7,400.3 302.7,399.6 303.4,399 304.5,398.3 305.6,397.5 306.8,396.8 307.5,396.3 308.7,395.5 309.9,394.7 310.7,394.2 311.9,393.4 313.2,392.6 314.5,391.8 315.4,391.2 316.7,390.3 318.2,389.4 319.6,388.4 320.6,387.8 322.1,386.9 323.7,385.9 324.8,385.3 326.5,384.2 328.3,383.1 330.1,381.9 331.4,381.1 333.4,379.7 335.5,378.3 337,377.3 339.3,375.9 341.8,374.4 344.3,373 346.1,372 348.9,370.4 351.8,368.7 355.1,366.9 357.4,365.5 361,363.4 364.9,361.2 367.6,359.8 371.8,357.9 375.9,356.3 380,355.2 382.6,354.7 386.5,354.2 390.3,354.2 394,354.4 396.4,354.7 399.9,355.5 403.3,356.5 406.4,357.9 408.3,359.1 410.8,361.1 413,363.5 414.2,365.3 415.5,368.4 416.4,371.8 416.8,375.4 416.8,377.9 416.6,381.7 416.3,385.4 415.9,389.1 415.6,391.5 415.2,394.9 414.9,398.2 414.8,400.3 414.6,403.4 414.5,406.3 414.5,409.2 414.4,411.1 414.3,413.9 414.2,416.7 414,419.4 413.9,421.2 413.6,423.9 413.2,426.5 412.8,428.3 412.2,430.9 411.4,433.4 410.5,435.9 409.9,437.6 408.9,440 407.9,442.4 406.9,444.7 406.2,446.2 405.2,448.4 404.1,450.6 403.3,452 402,454.1 400.6,456.1 398.9,458 397.7,459.2 395.8,460.9 393.7,462.5 392.2,463.5 389.9,464.9 387.6,466.1 385.2,467.3 383.6,468 381.3,469 379,469.9 376.8,470.8 375.4,471.3 373.3,472.1 371.3,472.8 370,473.2 368.1,473.9 366.4,474.5 364.7,475.1 363.7,475.6 362.2,476.2 360.8,476.9 359.5,477.6 358.6,478 357.4,478.7 356.2,479.4 355.4,479.8 354.2,480.5 353,481.2 351.9,481.8 351.1,482.2 349.9,482.8 348.7,483.3 347.5,483.8 346.7,484.1 345.5,484.6 344.3,485 343.5,485.2 342.3,485.6 341.1,486 339.9,486.3 339.1,486.6 337.9,486.9 336.8,487.2 335.6,487.6 334.9,487.8 333.7,488.1 332.5,488.4 331.8,488.6 330.6,488.9 329.5,489.1 328.3,489.4 327.5,489.5 326.3,489.8 325.2,489.9 324,490.1 323.2,490.2 322,490.4 320.8,490.6 319.6,490.8 318.8,490.9 317.6,491.1 316.3,491.3 315.5,491.4 314.3,491.5 313,491.6 311.8,491.6 310.9,491.5 309.7,491.5 308.4,491.3 307.2,491.1 306.4,490.9 305.1,490.6 303.9,490.2 303.1,489.9 301.9,489.5 300.8,489.1 299.6,488.6 298.8,488.3 297.6,487.8 296.5,487.3 295.3,486.8 294.6,486.4 293.4,485.8 292.3,485.2 291.6,484.8 290.4,484.1 289.3,483.4 288.2,482.8 287.5,482.3 286.4,481.6 285.3,480.9 284.2,480.1 283.5,479.6 282.4,478.8 281.3,478 280.7,477.4 279.7,476.5 278.7,475.5 277.8,474.5 277.2,473.9 276.3,472.8 275.4,471.8 274.6,470.7 274.1,469.9 273.4,468.8 272.7,467.6 272.2,466.8 271.6,465.6 271,464.3 270.5,463.1 270.1,462.2 269.6,460.9 269.1,459.6 268.7,458.3 268.4,457.5 268,456.1 267.6,454.8 267.4,453.9 267.1,452.5 266.8,451.2 266.6,449.8 266.4,448.9 266.2,447.5 266.1,446.1Z" fill="#0000f6"/>
<path d="M267.4,444.7 267.4,443.8 267.4,442.4 267.5,441.1 267.6,439.7 267.9,438.3 268.1,437.5 268.4,436.1 268.9,434.8 269.3,433.6 269.8,432.3 270.2,431.5 270.8,430.2 271.4,429 272.1,427.9 272.8,426.7 273.6,425.6 274.1,424.9 274.9,423.9 275.8,422.9 276.7,421.9 277.6,420.9 278.2,420.3 279.2,419.4 280.1,418.6 281.1,417.7 282.1,417 282.8,416.4 283.8,415.7 284.8,415 285.8,414.2 286.7,413.5 287.7,412.8 288.3,412.3 289.3,411.6 290.2,410.8 291.1,410.1 292,409.4 292.6,408.9 293.5,408.2 294.5,407.4 295.4,406.7 296.3,406 297,405.5 297.9,404.8 298.9,404.1 299.9,403.4 300.9,402.7 301.9,402 302.6,401.5 303.6,400.8 304.7,400 305.7,399.3 306.8,398.6 307.6,398.1 308.7,397.4 309.8,396.7 311,396 312.2,395.3 313,394.8 314.3,394 315.5,393.2 316.9,392.3 318.2,391.5 319.6,390.6 320.6,390 322,389.2 323.5,388.3 325.1,387.4 326.8,386.4 327.9,385.7 329.7,384.6 331.5,383.3 333.5,382 335.6,380.6 337,379.7 339.3,378.3 341.7,376.8 344.1,375.4 346.8,373.9 349.6,372.2 351.6,371 354.9,369 358.5,366.8 362.3,364.4 366.3,362.1 369.1,360.7 373.2,358.9 377.3,357.5 381.2,356.7 385.1,356.2 387.6,356.1 391.2,356.3 394.8,356.7 398.2,357.4 401.4,358.5 404.4,359.9 406.2,361.1 408.7,363.1 410.7,365.5 412.3,368.3 413.4,371.5 413.8,373.7 414.1,377.3 414.1,381 413.8,384.7 413.4,388.4 413.1,390.7 412.7,394.2 412.3,397.5 412.1,400.6 412,403.6 411.9,406.5 411.9,408.4 411.8,411.1 411.8,413.9 411.7,416.6 411.5,419.2 411.3,421 411,423.6 410.6,426.2 410,428.8 409.3,431.3 408.8,433 407.8,435.4 406.8,437.8 405.7,440.2 404.6,442.5 403.5,444.7 402.7,446.2 401.6,448.3 400.5,450.4 399.3,452.4 398.1,454.3 397.1,455.6 395.6,457.4 394,459.2 392.2,460.8 390.2,462.3 388.9,463.3 386.7,464.6 384.5,465.8 382.2,466.9 379.9,467.8 377.6,468.7 376.2,469.3 374,470.1 372,470.8 370,471.5 368.1,472.2 366.9,472.6 365.2,473.2 363.6,473.8 362.1,474.4 360.7,475.1 359.8,475.5 358.5,476.2 357.3,476.9 356.2,477.6 355,478.3 353.9,479 353.2,479.5 352.1,480.1 350.9,480.8 349.8,481.4 348.7,481.9 347.9,482.3 346.7,482.7 345.5,483.2 344.4,483.6 343.2,483.9 342.4,484.2 341.2,484.5 340.1,484.9 338.9,485.2 337.8,485.6 336.7,485.9 335.9,486.1 334.8,486.4 333.7,486.7 332.5,487 331.4,487.3 330.7,487.5 329.5,487.7 328.4,488 327.3,488.2 326.1,488.3 325.4,488.5 324.2,488.6 323.1,488.8 321.9,488.9 320.8,489.1 319.6,489.3 318.8,489.4 317.6,489.6 316.4,489.8 315.2,489.9 314,490 313.2,490.1 312,490.1 310.8,490 309.6,489.9 308.4,489.7 307.6,489.6 306.4,489.3 305.2,489 304,488.6 302.9,488.2 301.7,487.8 301,487.5 299.8,487.1 298.7,486.6 297.6,486.1 296.5,485.6 295.7,485.2 294.6,484.7 293.5,484.1 292.4,483.5 291.4,482.9 290.6,482.4 289.6,481.8 288.5,481.1 287.4,480.5 286.3,479.8 285.2,479.1 284.5,478.6 283.5,477.8 282.5,477 281.5,476.1 280.5,475.2 279.9,474.6 279,473.7 278.1,472.7 277.2,471.7 276.4,470.6 275.9,469.9 275.1,468.8 274.4,467.7 273.7,466.6 273.1,465.4 272.5,464.2 272.2,463.4 271.7,462.2 271.2,460.9 270.7,459.7 270.2,458.4 270,457.5 269.5,456.3 269.2,455 268.8,453.7 268.5,452.3 268.3,451.5 268.1,450.1 267.8,448.8 267.7,447.4 267.5,446.1Z" fill="#0000ff"/>
<path d="M268.1,444.7 268.1,443.8 268.1,442.5 268.2,441.1 268.3,439.8 268.6,438.4 268.9,437.1 269.3,435.8 269.6,435 270.1,433.7 270.6,432.5 271.1,431.3 271.7,430.1 272.4,428.9 273,427.8 273.5,427 274.3,425.9 275,424.9 275.9,423.8 276.7,422.9 277.6,421.9 278.5,421 279.1,420.4 280.1,419.5 281,418.7 282,417.9 283,417.1 284,416.4 284.9,415.6 285.6,415.1 286.6,414.4 287.5,413.7 288.5,413 289.4,412.3 290.3,411.6 291.2,410.9 291.8,410.4 292.7,409.7 293.6,409 294.5,408.2 295.5,407.5 296.4,406.8 297.3,406.1 298,405.6 298.9,405 299.9,404.3 300.9,403.6 301.9,402.9 302.9,402.2 303.9,401.5 304.6,401 305.6,400.3 306.7,399.6 307.8,398.9 308.9,398.2 310,397.5 311.2,396.8 311.9,396.3 313.1,395.6 314.4,394.8 315.6,394 316.9,393.2 318.2,392.4 319.6,391.5 320.5,391 322,390.1 323.5,389.3 325,388.4 326.6,387.4 328.3,386.4 330.1,385.2 331.3,384.4 333.2,383.2 335.3,381.8 337.4,380.5 339.7,379.1 342,377.7 344.5,376.3 346.2,375.3 349,373.7 352,372 355.2,370 358.8,367.8 362.6,365.5 366.6,363.3 369.3,362 373.4,360.3 377.4,359 381.3,358.2 385.1,357.8 388.8,357.7 392.4,357.9 394.7,358.3 398,359.1 401.1,360.3 403.9,361.8 406.4,363.7 408.5,366 410.2,368.7 411,370.7 411.9,373.9 412.4,377.3 412.5,380.9 412.3,384.5 412,388.1 411.6,391.6 411.3,393.8 411,397.1 410.8,400.2 410.7,403.2 410.6,406.1 410.5,408.9 410.5,411.6 410.5,413.4 410.4,416.1 410.3,418.7 410,421.3 409.7,423.9 409.3,426.4 408.8,429 408.3,430.6 407.5,433.1 406.6,435.6 405.6,437.9 404.5,440.2 403.5,442.5 402.4,444.7 401.7,446.1 400.6,448.2 399.4,450.3 398.2,452.3 396.9,454.2 395.5,456 393.9,457.8 392.7,458.9 390.9,460.5 389,462 386.9,463.4 384.7,464.6 382.5,465.7 380.2,466.8 378.8,467.4 376.5,468.3 374.4,469.1 372.3,469.9 370.4,470.6 368.5,471.3 366.7,471.9 365.6,472.3 364,473 362.4,473.6 361,474.2 359.6,474.9 358.4,475.6 357.2,476.2 356.4,476.7 355.3,477.4 354.2,478.1 353.1,478.8 352,479.4 350.9,480 349.8,480.6 349,481 347.9,481.5 346.7,482 345.5,482.4 344.4,482.8 343.2,483.2 342,483.6 341.3,483.8 340.1,484.1 339,484.5 337.9,484.8 336.8,485.1 335.7,485.5 334.6,485.8 333.8,486 332.7,486.3 331.6,486.6 330.5,486.8 329.4,487 328.3,487.3 327.1,487.5 326.4,487.6 325.3,487.8 324.1,487.9 323,488.1 321.9,488.3 320.7,488.4 319.6,488.6 318.8,488.8 317.7,489 316.5,489.1 315.3,489.3 314.1,489.4 312.9,489.5 311.7,489.5 310.9,489.5 309.7,489.4 308.5,489.3 307.3,489 306.1,488.8 305,488.4 303.8,488.1 303.1,487.8 301.9,487.4 300.8,487 299.6,486.5 298.5,486.1 297.4,485.6 296.3,485 295.6,484.7 294.5,484.1 293.4,483.5 292.3,482.9 291.3,482.3 290.2,481.6 289.2,481 288.4,480.5 287.4,479.9 286.3,479.2 285.3,478.4 284.2,477.7 283.2,476.9 282.2,476 281.6,475.5 280.7,474.6 279.8,473.6 278.9,472.7 278,471.7 277.2,470.7 276.4,469.6 275.9,468.9 275.2,467.8 274.6,466.7 273.9,465.5 273.3,464.3 272.8,463.1 272.3,461.9 272,461.1 271.5,459.9 271,458.6 270.6,457.4 270.2,456.1 269.8,454.8 269.5,453.5 269.3,452.7 269,451.4 268.7,450 268.5,448.7 268.4,447.4 268.2,446Z" fill="#0004ff"/>
<path d="M269,444.7 269,443.8 269,442.5 269.1,441.2 269.2,439.9 269.5,438.5 269.8,437.3 270.2,436 270.6,434.7 271.1,433.5 271.6,432.3 272.2,431.1 272.6,430.3 273.2,429.2 273.9,428.1 274.6,427 275.4,425.9 276.2,424.9 277,423.9 277.8,422.9 278.7,422 279.6,421.1 280.5,420.3 281.4,419.4 282,418.9 283,418.1 284,417.4 284.9,416.6 285.9,415.9 286.9,415.2 287.8,414.5 288.7,413.8 289.6,413.1 290.6,412.4 291.4,411.7 292.3,411 292.9,410.6 293.8,409.9 294.7,409.2 295.6,408.5 296.5,407.8 297.5,407.1 298.4,406.4 299.3,405.8 300.3,405.1 301.2,404.4 302.2,403.7 303.2,403.1 303.9,402.6 304.9,401.9 305.9,401.2 306.9,400.5 308,399.9 309.1,399.2 310.2,398.5 311.3,397.8 312.5,397.1 313.7,396.4 314.9,395.6 315.7,395.1 317,394.3 318.3,393.5 319.6,392.7 321,391.8 322.4,391 323.9,390.2 325.4,389.3 327,388.4 328.7,387.3 330.4,386.2 332.3,385 333.6,384.2 335.6,382.9 337.7,381.6 339.9,380.3 342.2,379 344.7,377.6 347.3,376.2 350.1,374.6 353.2,372.7 356.5,370.7 360.1,368.6 363.9,366.5 366.5,365.1 370.5,363.3 374.5,361.8 378.4,360.7 382.3,360 386.1,359.6 389.7,359.7 393.2,360.1 396.4,360.8 399.5,362 402.2,363.6 404.6,365.5 405.9,367 407.7,369.5 408.9,372.4 409.8,375.5 410.3,378.8 410.4,382.3 410.3,385.8 410,389.3 409.7,392.7 409.4,395.9 409.2,399 409.1,401.1 409,404 408.9,406.8 408.9,409.5 408.9,412.2 408.8,414.8 408.7,417.5 408.6,420 408.3,422.6 408,425.1 407.5,427.6 407,430.1 406.5,431.7 405.7,434.1 404.8,436.5 403.8,438.8 402.8,441.1 401.7,443.3 400.7,445.4 399.6,447.5 398.4,449.5 397.2,451.5 395.9,453.4 394.4,455.2 393.4,456.4 391.8,458.1 390,459.7 388,461.1 386,462.5 383.9,463.7 381.7,464.9 379.5,465.9 377.3,466.9 375.2,467.7 373.1,468.5 371.1,469.3 369.8,469.7 368,470.4 366.3,471.1 364.6,471.8 363.1,472.4 361.6,473 360.2,473.7 358.9,474.3 357.7,475 356.5,475.7 355.4,476.4 354.7,476.8 353.6,477.5 352.5,478.2 351.4,478.8 350.3,479.4 349.2,480 348.1,480.5 346.9,481 345.8,481.4 344.6,481.8 343.5,482.2 342.3,482.6 341.6,482.8 340.5,483.1 339.4,483.5 338.2,483.8 337.2,484.1 336.1,484.4 335,484.8 333.9,485.1 332.8,485.3 331.7,485.6 330.6,485.9 329.5,486.1 328.8,486.3 327.7,486.5 326.6,486.7 325.5,486.9 324.4,487 323.3,487.2 322.2,487.4 321.1,487.5 320,487.7 318.8,487.9 317.7,488.1 316.5,488.3 315.8,488.4 314.6,488.6 313.4,488.7 312.2,488.8 311,488.8 309.8,488.7 308.6,488.6 307.5,488.4 306.3,488.2 305.1,487.9 304,487.6 303.2,487.3 302.1,486.9 301,486.5 299.9,486.1 298.8,485.6 297.7,485.1 296.6,484.6 295.5,484 294.4,483.5 293.4,482.9 292.3,482.3 291.3,481.6 290.6,481.2 289.5,480.5 288.5,479.8 287.5,479.2 286.4,478.4 285.4,477.7 284.4,476.9 283.4,476.1 282.5,475.3 281.6,474.4 280.7,473.5 279.8,472.6 279.2,471.9 278.4,470.9 277.7,469.9 276.9,468.9 276.2,467.8 275.5,466.7 274.9,465.5 274.3,464.4 273.8,463.2 273.3,462 272.8,460.8 272.3,459.6 272,458.8 271.6,457.6 271.2,456.3 270.8,455.1 270.5,453.8 270.1,452.5 269.9,451.2 269.6,450 269.4,448.7 269.2,447.3 269.1,446Z" fill="#0014ff"/>
<path d="M270,444.7 269.9,443.8 270,442.5 270.1,441.2 270.2,439.9 270.5,438.7 270.8,437.4 271.2,436.2 271.6,434.9 272.1,433.7 272.6,432.6 273.2,431.4 273.8,430.3 274.4,429.1 275.1,428.1 275.8,427 276.6,426 277.3,425 278.1,424 279,423.1 279.8,422.2 280.7,421.3 281.6,420.5 282.5,419.7 283.4,418.9 284.4,418.2 285.3,417.4 286.3,416.7 287.2,416.1 288.1,415.4 289.1,414.7 290,414 290.9,413.3 291.7,412.7 292.6,412 293.5,411.3 294.4,410.6 295.3,410 296.2,409.3 297,408.6 297.9,407.9 298.9,407.3 299.8,406.6 300.7,406 301.7,405.3 302.6,404.7 303.6,404 304.6,403.4 305.5,402.7 306.6,402 307.6,401.4 308.6,400.7 309.7,400 310.8,399.4 311.9,398.7 313,398 314.2,397.3 315.4,396.6 316.6,395.8 317.9,395 319.2,394.2 320.5,393.4 321.9,392.6 323.3,391.8 324.8,391 326.3,390.1 327.9,389.1 329.6,388.1 331.3,387 333.2,385.8 335.1,384.6 337.2,383.4 339.3,382.1 341.6,380.9 343.9,379.6 346.5,378.2 349.2,376.7 352.1,375 355.3,373.2 358.7,371.2 362.4,369.1 364.9,367.8 368.8,366 372.8,364.4 376.7,363.1 380.6,362.2 384.4,361.7 388.1,361.7 391.5,362 394.7,362.7 397.6,363.9 400.3,365.4 402.5,367.4 404.4,369.7 405.9,372.3 407,375.2 407.7,378.3 408,381.6 408.1,385 408,388.4 407.8,391.7 407.6,394.9 407.4,398 407.2,401 407.2,403.9 407.1,406.6 407.1,409.3 407.1,412 407,414.6 407,417.2 406.8,419.7 406.6,422.2 406.3,424.7 405.9,427.1 405.4,429.6 404.8,432 404,434.3 403.2,436.7 402.2,438.9 401.2,441.1 400.2,443.3 399.2,445.4 398.1,447.4 396.9,449.4 395.6,451.4 394.3,453.2 392.8,455 391.2,456.7 389.4,458.3 387.6,459.8 385.6,461.2 383.6,462.4 381.4,463.6 379.3,464.7 377.2,465.6 375,466.5 373,467.4 371,468.1 369.1,468.9 367.4,469.6 365.7,470.2 364.1,470.9 362.6,471.6 361.2,472.2 359.8,472.9 358.6,473.5 357.4,474.2 356.2,474.9 355.1,475.6 354,476.2 352.9,476.9 351.9,477.5 350.8,478.1 349.7,478.7 348.6,479.2 347.5,479.7 346.3,480.2 345.2,480.6 344.1,481 343,481.4 341.8,481.7 341.1,481.9 340,482.3 338.9,482.6 337.8,482.9 336.8,483.2 335.7,483.6 334.6,483.9 333.6,484.1 332.5,484.4 331.4,484.7 330.4,484.9 329.3,485.2 328.2,485.4 327.2,485.6 326.1,485.8 325,486 324,486.1 322.9,486.3 321.8,486.5 320.7,486.7 319.6,486.9 318.5,487.1 317.4,487.3 316.2,487.5 315.1,487.7 313.9,487.9 312.7,488 311.6,488 310.4,488 309.2,488 308,487.9 306.9,487.7 305.7,487.4 304.6,487.1 303.5,486.8 302.3,486.4 301.2,486 300.1,485.5 299,485.1 297.9,484.6 296.9,484.1 295.8,483.5 294.8,483 293.7,482.4 292.7,481.7 291.7,481.1 290.6,480.5 289.6,479.8 288.6,479.1 287.6,478.4 286.6,477.7 285.6,476.9 284.7,476.2 283.7,475.3 282.8,474.5 281.9,473.6 281.1,472.7 280.2,471.8 279.4,470.8 278.7,469.8 277.9,468.8 277.2,467.7 276.6,466.6 275.9,465.5 275.3,464.4 274.8,463.3 274.3,462.1 273.8,460.9 273.3,459.7 272.9,458.5 272.5,457.3 272.1,456.1 271.7,454.9 271.4,453.6 271.1,452.4 270.8,451.1 270.6,449.9 270.4,448.6 270.2,447.3 270.1,446Z" fill="#0020ff"/>
<path d="M271,444.7 271,443.4 271,442.2 271.2,440.9 271.4,439.6 271.6,438.4 272,437.2 272.4,436 272.9,434.8 273.3,433.6 273.9,432.4 274.4,431.3 275,430.2 275.7,429.1 276.3,428.1 277,427.1 277.8,426.1 278.6,425.1 279.4,424.2 280.2,423.3 281.3,422.1 282.2,421.3 283.1,420.5 284,419.7 284.9,419 285.8,418.3 286.7,417.6 287.6,416.9 288.5,416.2 289.4,415.6 290.3,414.9 291.2,414.3 292.1,413.6 293,413 293.8,412.3 294.7,411.6 295.6,411 296.4,410.3 297.3,409.7 298.2,409 299.4,408.2 300.3,407.6 301.2,406.9 302.1,406.3 303,405.7 304,405 304.9,404.4 305.9,403.8 306.9,403.1 307.9,402.5 308.9,401.8 310,401.2 311,400.6 312.1,399.9 313.2,399.2 314.3,398.5 315.5,397.8 316.7,397.1 317.9,396.3 319.6,395.2 320.9,394.5 322.3,393.7 323.7,393 325.1,392.2 326.6,391.3 328.2,390.4 329.9,389.4 331.6,388.3 333.4,387.2 335.3,386 337.3,384.9 339.4,383.7 341.6,382.5 343.9,381.3 346.4,380 349.1,378.5 351.9,376.9 355,375.2 358.4,373.3 363.2,370.7 367,368.8 370.9,367.1 374.9,365.7 378.8,364.7 382.6,364 386.3,363.8 389.7,364 392.9,364.7 395.7,365.9 398.2,367.4 400.4,369.4 402.1,371.7 403.5,374.3 404.5,377.2 405.2,380.2 405.5,383.4 405.7,386.6 405.7,389.9 405.5,393.1 405.4,397.2 405.3,400.1 405.2,402.9 405.2,405.7 405.2,408.4 405.2,411 405.2,413.6 405.1,416.1 405,418.6 404.9,421.1 404.6,423.5 404.3,425.9 403.9,428.3 403.4,430.7 402.7,433 402,435.3 401.2,437.6 400.2,439.8 399.3,441.9 397.9,444.7 396.9,446.7 395.7,448.7 394.4,450.6 393.1,452.4 391.6,454.2 390,455.8 388.2,457.4 386.4,458.9 384.4,460.3 382.4,461.5 380.3,462.7 378.2,463.7 376.1,464.7 374.1,465.6 372.1,466.4 370.1,467.2 368.3,467.9 366.6,468.6 365,469.3 362.9,470.2 361.5,470.9 360.2,471.6 358.9,472.2 357.7,472.9 356.5,473.6 355.4,474.2 354.4,474.9 353.3,475.6 352.2,476.2 351.2,476.8 350.1,477.4 349,477.9 347.9,478.5 346.8,478.9 345.7,479.4 344.6,479.8 343.5,480.1 342.4,480.5 341.3,480.8 339.9,481.3 338.8,481.6 337.7,481.9 336.7,482.2 335.6,482.5 334.6,482.8 333.6,483.1 332.5,483.4 331.5,483.6 330.5,483.9 329.4,484.1 328.4,484.3 327.3,484.5 326.3,484.7 325.2,484.9 324.2,485.1 323.1,485.3 322.1,485.4 321,485.6 319.6,485.9 318.5,486.1 317.4,486.4 316.3,486.6 315.2,486.8 314,487 312.9,487.1 311.7,487.2 310.6,487.3 309.4,487.2 308.2,487.2 307.1,487 305.9,486.8 304.8,486.5 303.7,486.2 302.6,485.8 301.5,485.4 300.4,485 299.3,484.5 298.2,484 296.8,483.3 295.8,482.8 294.8,482.2 293.8,481.6 292.7,481 291.7,480.3 290.8,479.7 289.8,479 288.8,478.3 287.8,477.6 286.8,476.9 285.9,476.1 285,475.3 284.1,474.5 283.2,473.7 282.3,472.8 281.5,471.9 280.7,470.9 280,470 279.2,469 278.3,467.6 277.6,466.5 277,465.5 276.4,464.4 275.9,463.3 275.4,462.1 274.9,461 274.4,459.8 274,458.6 273.6,457.5 273.2,456.3 272.8,455.1 272.5,453.9 272.2,452.6 271.9,451.4 271.7,450.2 271.4,448.9 271.3,447.7 271.1,446.4Z" fill="#0030ff"/>
<path d="M272.1,444.7 272.1,443.5 272.1,442.2 272.2,441 272.5,439.7 272.8,438.5 273.1,437.3 273.5,436.2 274.1,434.6 274.6,433.5 275.1,432.4 275.7,431.3 276.3,430.2 277,429.2 277.6,428.2 278.3,427.2 279.3,425.9 280.1,425 280.9,424.1 281.7,423.2 282.5,422.4 283.4,421.6 284.2,420.8 285.4,419.9 286.3,419.1 287.2,418.5 288.1,417.8 289,417.1 289.9,416.5 290.7,415.8 291.6,415.2 292.8,414.4 293.6,413.7 294.5,413.1 295.3,412.5 296.2,411.8 297,411.2 297.9,410.6 298.7,410 299.9,409.1 300.8,408.5 301.7,407.9 302.6,407.3 303.5,406.7 304.4,406.1 305.3,405.5 306.6,404.7 307.6,404.1 308.5,403.4 309.5,402.8 310.6,402.2 311.6,401.6 312.7,400.9 313.8,400.3 315.2,399.4 316.4,398.6 317.6,397.9 318.8,397.1 320,396.4 321.3,395.7 322.6,394.9 324,394.2 325.9,393.1 327.4,392.3 329,391.4 330.7,390.4 332.4,389.3 334.2,388.3 336.1,387.2 338.8,385.8 340.9,384.7 343.1,383.5 345.4,382.3 348,381 350.7,379.5 353.6,377.9 356.8,376.1 361.4,373.7 365.2,371.8 369,370 373,368.5 376.9,367.2 380.8,366.4 384.5,366 387.9,366.2 391.9,367.2 394.5,368.4 396.8,370.2 398.7,372.2 400.2,374.6 401.4,377.3 402.2,380.2 402.9,384.2 403.1,387.3 403.2,390.4 403.2,393.5 403.2,396.5 403.1,399.3 403.1,402.1 403.1,404.9 403.2,408.4 403.2,410.9 403.2,413.4 403.2,415.9 403.1,418.4 402.9,420.8 402.7,423.2 402.5,425.6 401.9,428.7 401.4,431 400.8,433.3 400.1,435.5 399.4,437.7 398.5,439.9 397.6,442 396.3,444.7 395.2,446.7 394,448.6 392.7,450.5 391.3,452.2 389.8,453.9 388.1,455.5 386.3,457.1 383.8,458.9 381.8,460.2 379.8,461.4 377.7,462.5 375.7,463.5 373.6,464.4 371.7,465.2 369.7,466 367.4,467 365.7,467.7 364.1,468.4 362.7,469.1 361.3,469.8 360,470.4 358.8,471.1 357.2,472 356.1,472.7 355,473.4 353.9,474 352.9,474.7 351.9,475.3 350.8,475.9 349.7,476.5 348.3,477.2 347.2,477.6 346.2,478.1 345.1,478.5 344,478.9 342.9,479.2 341.8,479.6 340.7,479.9 339.3,480.3 338.3,480.6 337.3,480.9 336.2,481.2 335.2,481.5 334.2,481.8 333.2,482.1 331.9,482.4 330.8,482.7 329.8,482.9 328.8,483.1 327.8,483.3 326.8,483.5 325.8,483.7 324.8,483.9 323.4,484.1 322.4,484.3 321.3,484.5 320.3,484.7 319.2,485 318.2,485.2 317.1,485.5 316,485.7 314.5,486 313.4,486.2 312.3,486.3 311.1,486.4 310,486.5 308.8,486.4 307.7,486.3 306.2,486.1 305,485.8 303.9,485.5 302.8,485.2 301.7,484.8 300.7,484.4 299.6,484 298.5,483.5 297.2,482.8 296.2,482.2 295.1,481.7 294.1,481 293.2,480.4 292.2,479.8 291.2,479.1 290.3,478.4 289,477.5 288.1,476.8 287.1,476.1 286.2,475.3 285.3,474.5 284.5,473.7 283.6,472.8 282.5,471.6 281.8,470.7 281,469.8 280.3,468.8 279.6,467.8 278.9,466.8 278.3,465.7 277.7,464.7 277,463.2 276.5,462.1 276,461 275.6,459.9 275.1,458.7 274.7,457.6 274.3,456.4 274,455.2 273.5,453.7 273.2,452.5 273,451.3 272.7,450 272.5,448.8 272.3,447.6 272.2,446.4Z" fill="#003cff"/>
<path d="M273.2,444.7 273.2,443.5 273.2,442.3 273.4,441.1 273.6,439.9 274,438.3 274.4,437.1 274.8,436 275.3,434.9 275.9,433.4 276.5,432.3 277,431.3 277.6,430.3 278.3,429.2 279.2,428 279.9,427 280.6,426.1 281.4,425.2 282.4,424.1 283.2,423.3 284,422.5 284.8,421.7 286,420.7 286.8,420 287.7,419.3 288.6,418.7 289.5,418 290.6,417.2 291.5,416.6 292.3,416 293.2,415.3 294.3,414.5 295.1,413.9 296,413.3 296.8,412.7 297.9,411.9 298.7,411.3 299.6,410.7 300.4,410.1 301.3,409.5 302.5,408.8 303.3,408.2 304.2,407.6 305.1,407 306.4,406.2 307.3,405.6 308.2,405.1 309.2,404.5 310.2,403.9 311.5,403.1 312.5,402.4 313.6,401.8 314.6,401.2 316.1,400.3 317.2,399.5 318.4,398.8 319.6,398.1 321.3,397.1 322.6,396.5 323.9,395.7 325.3,395 326.7,394.2 328.7,393.1 330.3,392.2 332,391.2 333.7,390.2 336.1,388.9 338.1,387.9 340.1,386.9 342.2,385.8 345.2,384.3 347.7,383.1 350.3,381.8 353.2,380.2 356.3,378.6 360.8,376.1 364.5,374.2 368.4,372.4 372.3,370.8 377.6,369.1 381.4,368.4 384.8,368.3 388,368.7 390.8,369.7 393.9,371.7 395.7,373.7 397.3,376 398.4,378.6 399.5,382.3 400.1,385.2 400.4,388.1 400.6,391.1 400.7,395 400.8,397.8 400.9,400.6 400.9,403.3 401,405.9 401.1,409.3 401.1,411.8 401.1,414.2 401.1,416.6 401,419.8 400.8,422.2 400.6,424.5 400.3,426.8 399.8,429.8 399.3,432.1 398.7,434.3 398,436.5 397.2,438.6 396.1,441.4 395.2,443.4 394.2,445.4 393.1,447.3 391.4,449.7 390,451.5 388.4,453.2 386.8,454.7 385,456.2 382.4,458.1 380.5,459.3 378.4,460.5 376.4,461.5 373.7,462.8 371.8,463.7 369.9,464.5 368,465.3 365.8,466.2 364.2,466.9 362.7,467.6 361.4,468.3 360.1,469 358.5,470 357.3,470.6 356.2,471.3 355.2,472 353.8,472.9 352.8,473.5 351.8,474.2 350.7,474.8 349.4,475.5 348.3,476 347.2,476.5 346.2,476.9 345.1,477.3 343.7,477.8 342.6,478.2 341.5,478.5 340.5,478.8 339.1,479.2 338.1,479.5 337.1,479.8 336.1,480.1 335.1,480.4 333.8,480.8 332.8,481 331.8,481.3 330.9,481.5 329.5,481.8 328.6,482 327.6,482.2 326.6,482.4 325.3,482.7 324.3,482.9 323.3,483.1 322.3,483.3 321.3,483.5 319.9,483.8 318.9,484 317.9,484.3 316.8,484.5 315.4,484.9 314.3,485.1 313.2,485.3 312,485.5 310.5,485.6 309.4,485.7 308.2,485.6 307.1,485.5 306,485.3 304.5,485 303.4,484.7 302.4,484.3 301.3,483.9 299.9,483.4 298.9,482.9 297.9,482.4 296.8,481.8 295.9,481.3 294.6,480.5 293.6,479.8 292.6,479.2 291.7,478.5 290.5,477.6 289.5,476.9 288.6,476.2 287.7,475.5 286.6,474.4 285.7,473.6 284.9,472.8 284.1,471.9 283.3,471.1 282.3,469.8 281.6,468.9 280.9,467.9 280.3,467 279.5,465.6 278.9,464.6 278.3,463.5 277.8,462.4 277.2,461 276.7,459.9 276.3,458.8 275.9,457.6 275.5,456.5 275,455 274.7,453.8 274.4,452.7 274.1,451.5 273.8,449.9 273.6,448.7 273.4,447.5 273.3,446.3Z" fill="#004cff"/>
<path d="M274.3,444.7 274.3,443.5 274.4,442.3 274.5,441.2 274.9,439.6 275.2,438.5 275.6,437.3 276.1,435.9 276.6,434.8 277.1,433.7 277.8,432.3 278.4,431.3 279,430.3 279.8,429 280.5,428.1 281.2,427.2 282.2,426 282.9,425.2 283.7,424.4 284.7,423.3 285.5,422.6 286.3,421.8 287.2,421.1 288.3,420.2 289.1,419.6 290,419 291.1,418.1 291.9,417.5 292.8,416.9 293.9,416.1 294.7,415.6 295.5,415 296.6,414.2 297.4,413.6 298.3,413.1 299.3,412.3 300.2,411.7 301,411.1 302.1,410.4 303,409.8 303.8,409.3 305,408.5 305.9,408 306.8,407.4 307.7,406.9 308.9,406.1 309.8,405.5 310.8,404.9 312.1,404.2 313.1,403.6 314.1,403 315.5,402.1 316.6,401.4 317.7,400.7 319.2,399.8 320.4,399.1 321.6,398.4 323.3,397.6 324.6,396.9 326,396.2 327.9,395.1 329.4,394.3 331,393.4 333.2,392.2 334.9,391.3 336.7,390.4 338.6,389.5 341.3,388.2 343.4,387.2 345.7,386.2 348.9,384.6 351.6,383.2 354.5,381.7 358.9,379.3 362.5,377.4 366.3,375.4 371.7,373.1 375.6,371.7 379.4,370.9 384,370.7 386.9,371.2 389.5,372.4 392.2,374.6 393.8,376.7 395.1,379.1 396.3,382.6 397,385.3 397.4,388.2 397.8,391 398.1,394.7 398.3,397.4 398.4,400.1 398.6,403.6 398.7,406.1 398.8,408.6 398.9,411.8 399,414.2 399,416.6 398.9,419.7 398.8,422 398.6,424.3 398.2,427.3 397.8,429.5 397.4,431.7 396.7,434.6 396,436.7 395.4,438.7 394.3,441.4 393.4,443.4 392.4,445.3 391.3,447.2 389.6,449.6 388.1,451.3 386.5,452.9 384.2,454.9 382.3,456.3 380.4,457.6 377.7,459.2 375.7,460.3 373.7,461.2 371.1,462.4 369.2,463.3 367.4,464 365.2,465 363.6,465.7 362.2,466.4 360.4,467.3 359.2,468 358.1,468.8 356.7,469.7 355.6,470.4 354.6,471.1 353.6,471.8 352.3,472.6 351.3,473.2 350.3,473.8 349,474.6 347.9,475.1 346.9,475.5 345.4,476.1 344.4,476.4 343.3,476.8 341.9,477.2 340.9,477.5 339.9,477.8 338.6,478.2 337.6,478.5 336.6,478.8 335.3,479.2 334.4,479.4 333.4,479.7 332.1,480.1 331.2,480.3 330.2,480.5 329.3,480.7 328,481 327,481.2 326.1,481.4 324.8,481.6 323.8,481.8 322.9,482 321.6,482.3 320.6,482.5 319.6,482.8 318.3,483.1 317.2,483.4 316.2,483.7 314.8,484 313.7,484.3 312.6,484.5 311.1,484.8 310,484.9 308.8,484.9 307.3,484.8 306.2,484.6 305.1,484.4 304.1,484.2 302.6,483.7 301.6,483.3 300.6,482.9 299.2,482.3 298.2,481.8 297.2,481.2 295.9,480.5 295,479.9 294,479.2 292.8,478.4 291.9,477.7 291,477 289.8,476.1 289,475.3 288.1,474.6 287,473.6 286.2,472.7 285.4,471.9 284.4,470.8 283.6,469.9 282.9,469 282.3,468 281.4,466.8 280.8,465.8 280.2,464.8 279.5,463.4 279,462.4 278.5,461.3 277.9,459.9 277.5,458.8 277.1,457.7 276.6,456.2 276.2,455.1 275.9,454 275.5,452.5 275.3,451.3 275,450.2 274.7,448.6 274.6,447.5 274.4,446.3Z" fill="#005cff"/>
<path d="M275.5,444.7 275.5,443.5 275.6,442.4 275.8,440.9 276.1,439.7 276.5,438.3 276.9,437.2 277.5,435.8 278,434.7 278.5,433.7 279.2,432.3 279.8,431.4 280.6,430.1 281.2,429.2 282.1,428 282.8,427.1 283.5,426.3 284.5,425.2 285.2,424.4 286.2,423.4 287,422.7 288.1,421.8 288.9,421.1 289.7,420.5 290.8,419.7 291.6,419.1 292.7,418.3 293.5,417.7 294.6,417 295.4,416.4 296.2,415.8 297.3,415.1 298.1,414.6 299.2,413.8 300,413.3 301,412.6 301.8,412 302.7,411.5 303.8,410.8 304.6,410.2 305.7,409.5 306.6,409 307.8,408.3 308.7,407.7 309.5,407.2 310.8,406.5 311.7,405.9 313,405.2 314,404.6 315.3,403.8 316.3,403.1 317.4,402.4 318.8,401.5 320,400.9 321.6,400 322.8,399.4 324.4,398.6 325.8,397.9 327.1,397.2 329,396.1 330.5,395.4 332.6,394.3 334.3,393.4 336.6,392.3 338.4,391.5 340.3,390.6 343,389.5 345.2,388.5 348.3,387.1 350.9,385.8 354.8,383.8 358,382 361.7,379.9 366.9,377.2 370.9,375.3 376.2,373.6 379.7,373 383.9,373.3 386.5,374.2 388.6,375.7 390.9,378.3 392.1,380.6 393.3,383.9 394,386.6 394.6,390.2 395,392.9 395.3,395.5 395.7,399 395.9,401.5 396.2,404.8 396.4,407.2 396.6,410.4 396.7,412.7 396.8,415.1 396.8,418.1 396.7,420.4 396.5,423.4 396.3,425.6 395.9,428.5 395.5,430.6 395.1,432.7 394.4,435.5 393.8,437.6 393,440.2 392.2,442.2 391,444.7 389.9,446.5 388.7,448.3 386.7,450.6 385.1,452.2 382.8,454.1 380.9,455.5 378.2,457.2 376.2,458.3 374.3,459.3 371.6,460.6 369.7,461.5 367.3,462.5 365.6,463.3 363.4,464.2 362,464.9 360.6,465.6 359,466.5 357.9,467.3 356.5,468.2 355.6,469 354.3,469.9 353.3,470.6 352.4,471.3 351.1,472.1 350.2,472.7 348.8,473.4 347.8,473.9 346.5,474.5 345.4,474.9 344.4,475.3 343,475.7 341.9,476 340.6,476.4 339.6,476.7 338.3,477.1 337.3,477.4 336.4,477.6 335.1,478 334.2,478.3 333,478.6 332,478.9 330.8,479.2 329.9,479.4 328.9,479.6 327.7,479.8 326.8,480 325.6,480.3 324.6,480.5 323.4,480.7 322.5,480.9 321.5,481.2 320.2,481.5 319.3,481.7 318,482.1 317,482.4 315.6,482.8 314.5,483.1 313.5,483.4 312,483.7 310.9,483.9 309.4,484.1 308.3,484.1 306.8,484 305.8,483.8 304.7,483.6 303.3,483.2 302.2,482.8 300.9,482.3 299.9,481.8 298.6,481.1 297.6,480.6 296.7,480 295.4,479.2 294.5,478.6 293.3,477.8 292.4,477.1 291.3,476.2 290.4,475.4 289.6,474.7 288.5,473.7 287.7,472.9 286.7,471.8 285.9,471 285,469.9 284.3,469 283.6,468.1 282.7,466.8 282.1,465.9 281.4,464.6 280.8,463.6 280.2,462.3 279.7,461.2 279.3,460.2 278.7,458.8 278.3,457.7 277.8,456.3 277.5,455.2 277.1,453.7 276.8,452.6 276.5,451.5 276.2,450 276,448.9 275.7,447.4 275.6,446.2Z" fill="#0068ff"/>
<path d="M275.6,444.7 275.6,443.5 275.7,442.4 275.9,440.9 276.1,439.7 276.6,438.3 277,437.2 277.6,435.8 278,434.7 278.5,433.7 279.3,432.4 279.8,431.4 280.6,430.1 281.3,429.2 282.1,428 282.8,427.2 283.5,426.3 284.5,425.2 285.3,424.5 286.3,423.5 287.1,422.8 288.1,421.8 288.9,421.2 289.8,420.5 290.8,419.7 291.7,419.1 292.8,418.3 293.6,417.8 294.7,417 295.5,416.4 296.3,415.9 297.3,415.1 298.1,414.6 299.2,413.9 300,413.3 301.1,412.6 301.9,412.1 302.7,411.5 303.8,410.8 304.6,410.3 305.8,409.6 306.6,409 307.8,408.3 308.7,407.8 309.6,407.2 310.8,406.5 311.7,406 313,405.2 314,404.6 315.3,403.8 316.3,403.2 317.4,402.5 318.8,401.6 320,400.9 321.5,400.1 322.8,399.5 324.4,398.6 325.8,398 327.1,397.3 329,396.2 330.5,395.4 332.6,394.4 334.3,393.5 336.6,392.4 338.4,391.6 340.3,390.8 343,389.6 345.1,388.6 348.2,387.2 350.8,386 354.7,384 357.9,382.1 361.5,380.1 366.7,377.4 370.8,375.6 375.9,373.9 379.5,373.3 383.7,373.6 386.3,374.5 388.4,375.9 390.6,378.5 391.9,380.8 393.1,384.1 393.8,386.7 394.4,390.3 394.8,393 395.2,395.6 395.6,399.1 395.8,401.6 396.1,404.9 396.3,407.3 396.5,410.4 396.6,412.8 396.7,415.1 396.7,418.2 396.6,420.4 396.4,423.4 396.2,425.6 395.8,428.5 395.4,430.6 395,432.8 394.3,435.5 393.7,437.6 392.8,440.2 392,442.2 390.8,444.7 389.7,446.5 388.5,448.3 386.6,450.6 385,452.1 382.6,454.1 380.7,455.5 378.1,457.1 376.1,458.3 374.1,459.3 371.5,460.6 369.6,461.4 367.2,462.5 365.5,463.2 363.3,464.2 361.9,464.9 360.6,465.6 358.9,466.5 357.9,467.2 356.5,468.2 355.5,468.9 354.2,469.9 353.3,470.5 352.3,471.2 351.1,472.1 350.1,472.7 348.8,473.4 347.8,473.9 346.4,474.5 345.4,474.9 344.3,475.2 342.9,475.7 341.9,476 340.6,476.4 339.6,476.7 338.3,477 337.3,477.3 336.4,477.6 335.1,478 334.2,478.2 332.9,478.6 332,478.8 330.8,479.1 329.9,479.3 328.9,479.5 327.7,479.8 326.8,480 325.5,480.2 324.6,480.4 323.4,480.7 322.4,480.9 321.5,481.1 320.2,481.4 319.3,481.7 318,482.1 317,482.4 315.6,482.8 314.5,483.1 313.5,483.4 312,483.7 310.9,483.9 309.4,484 308.3,484 306.9,483.9 305.8,483.7 304.7,483.5 303.3,483.1 302.3,482.8 300.9,482.2 299.9,481.8 298.6,481.1 297.6,480.5 296.7,480 295.5,479.2 294.5,478.6 293.3,477.7 292.5,477 291.3,476.1 290.5,475.4 289.6,474.7 288.5,473.7 287.8,472.9 286.7,471.8 286,471 285,469.8 284.3,468.9 283.7,468 282.8,466.8 282.2,465.9 281.4,464.6 280.9,463.6 280.2,462.2 279.8,461.2 279.3,460.2 278.8,458.8 278.4,457.7 277.9,456.3 277.5,455.2 277.1,453.7 276.8,452.6 276.6,451.5 276.2,450 276,448.9 275.8,447.4 275.7,446.2Z" fill="#0078ff"/>
<path d="M275.8,444.7 275.8,443.6 275.9,442.4 276.1,440.9 276.4,439.8 276.8,438.3 277.2,437.2 277.8,435.8 278.3,434.8 278.9,433.4 279.5,432.4 280,431.5 280.8,430.2 281.5,429.3 282.4,428.1 283,427.3 284,426.2 284.7,425.4 285.7,424.3 286.5,423.6 287.2,422.9 288.3,422 289.1,421.3 290.2,420.4 291,419.8 292.1,419 292.9,418.5 294,417.7 294.8,417.1 295.6,416.6 296.6,415.8 297.4,415.3 298.5,414.6 299.3,414 300.4,413.3 301.2,412.8 302.2,412 303.1,411.5 303.9,411 305,410.3 305.8,409.8 307,409 307.8,408.5 309,407.8 309.9,407.3 311.1,406.5 312.1,406 313,405.4 314.3,404.6 315.3,404 316.7,403.1 317.8,402.5 319.2,401.6 320.4,400.9 321.9,400.1 323.2,399.5 324.4,398.9 326.2,398 327.5,397.3 329.4,396.3 331,395.5 333.1,394.5 334.7,393.6 337,392.6 338.9,391.7 340.8,390.9 343.5,389.7 345.7,388.8 348.8,387.4 351.4,386.1 355.4,384 358.7,382.2 363.6,379.5 367.5,377.6 371.4,375.9 376.4,374.6 379.8,374.2 383.7,374.7 386.1,375.8 388.7,377.9 390.2,380 391.8,383.1 392.6,385.6 393.3,388.2 394,391.6 394.4,394.2 394.9,397.7 395.2,400.2 395.6,403.5 395.8,405.9 396,409.1 396.2,411.4 396.3,413.7 396.3,416.8 396.3,419 396.2,422 396,424.2 395.6,427.1 395.3,429.3 394.7,432.1 394.2,434.2 393.7,436.3 392.8,438.9 392.1,440.9 391,443.5 390,445.3 388.4,447.7 387.1,449.4 385,451.6 383.3,453.1 381.5,454.5 379,456.2 377,457.4 374.4,458.9 372.4,459.8 369.9,461 368.1,461.9 365.7,462.9 364.1,463.6 362.6,464.3 360.7,465.2 359.5,465.9 358,466.9 357,467.6 355.6,468.5 354.7,469.3 353.4,470.2 352.5,470.8 351.5,471.5 350.2,472.3 349.3,472.9 347.9,473.5 346.9,474 345.6,474.6 344.5,474.9 343.1,475.4 342.1,475.7 341.1,476 339.8,476.4 338.8,476.7 337.5,477 336.6,477.3 335.3,477.7 334.4,477.9 333.2,478.3 332.3,478.5 331.3,478.8 330.1,479.1 329.2,479.3 328,479.5 327,479.7 325.8,480 324.9,480.2 323.7,480.4 322.7,480.6 321.8,480.8 320.6,481.1 319.6,481.4 318.3,481.8 317.3,482.1 316,482.5 314.9,482.8 313.5,483.2 312.4,483.4 311.3,483.6 309.9,483.8 308.8,483.8 307.3,483.7 306.2,483.6 304.8,483.3 303.7,483 302.4,482.5 301.3,482.1 300.3,481.7 299,481 298.1,480.5 296.8,479.8 295.9,479.2 294.7,478.4 293.8,477.7 292.6,476.8 291.8,476.2 290.9,475.4 289.8,474.5 289,473.7 288,472.7 287.2,471.9 286.2,470.8 285.5,470 284.5,468.8 283.9,467.9 283.2,467 282.4,465.7 281.9,464.8 281.1,463.5 280.6,462.5 280,461.1 279.5,460.1 279,458.7 278.6,457.6 278.2,456.6 277.8,455.1 277.4,454 277.1,452.6 276.8,451.5 276.5,450 276.3,448.9 276,447.4 275.9,446.2Z" fill="#0084ff"/>
<path d="M276.2,444.7 276.2,443.6 276.3,442.4 276.5,440.9 276.8,439.8 277.2,438.4 277.6,437.3 278.2,435.9 278.7,434.9 279.4,433.5 279.9,432.6 280.7,431.3 281.3,430.4 282.1,429.2 282.8,428.3 283.7,427.2 284.4,426.4 285.3,425.3 286.1,424.5 287.1,423.6 287.8,422.9 288.9,422 289.7,421.3 290.7,420.5 291.5,419.9 292.6,419.1 293.4,418.5 294.5,417.8 295.3,417.2 296.3,416.5 297.1,415.9 298.2,415.2 299,414.7 300,414 300.8,413.4 301.9,412.7 302.7,412.2 303.8,411.5 304.6,411 305.7,410.3 306.5,409.7 307.7,409 308.5,408.5 309.7,407.8 310.6,407.2 311.8,406.5 312.8,406 314,405.2 315,404.6 316.4,403.7 317.4,403.1 318.9,402.2 320,401.6 321.5,400.8 322.7,400.2 324.4,399.4 325.6,398.8 327.4,397.8 328.8,397.1 330.8,396.1 332.4,395.4 334.5,394.3 336.2,393.6 338.6,392.5 340.5,391.7 343.1,390.6 345.3,389.7 348.3,388.3 350.9,387.1 354.7,385.1 357.9,383.4 362.6,380.9 366.4,379.1 371.4,377.2 375,376.3 379.3,376.1 382.1,376.5 385.2,377.9 387.1,379.5 389.1,382.1 390.3,384.3 391.6,387.5 392.3,389.9 393.1,393.3 393.5,395.8 394.1,399 394.5,401.5 394.9,404.7 395.1,407 395.4,410.2 395.5,412.5 395.6,415.5 395.6,417.8 395.6,420.8 395.4,423 395.1,425.9 394.8,428 394.3,430.9 393.8,432.9 393.1,435.7 392.4,437.7 391.5,440.3 390.6,442.2 389.3,444.7 388.2,446.5 387,448.2 385.1,450.4 383.5,452 381.2,453.9 379.3,455.2 376.8,456.9 374.8,458 372.3,459.3 370.4,460.2 368,461.4 366.3,462.2 364.1,463.1 362.6,463.8 360.7,464.8 359.5,465.5 358,466.4 356.9,467.1 355.6,468.1 354.6,468.8 353.3,469.7 352.4,470.3 351.2,471.2 350.2,471.8 348.9,472.5 348,473.1 346.6,473.7 345.6,474.1 344.2,474.6 343.2,474.9 341.9,475.3 340.9,475.6 339.6,476 338.6,476.3 337.3,476.7 336.4,477 335.2,477.3 334.2,477.6 333,477.9 332.1,478.2 330.9,478.5 330,478.7 328.8,479 327.9,479.2 326.7,479.4 325.8,479.6 324.5,479.9 323.6,480 322.4,480.3 321.5,480.5 320.2,480.9 319.3,481.1 318,481.5 317,481.8 315.7,482.2 314.6,482.5 313.2,482.9 312.1,483.1 310.7,483.3 309.6,483.4 308.1,483.4 307.1,483.3 305.6,483 304.6,482.8 303.2,482.4 302.2,482 300.9,481.4 299.9,481 298.6,480.3 297.7,479.7 296.5,479 295.6,478.4 294.4,477.6 293.5,476.9 292.4,476 291.5,475.3 290.4,474.4 289.6,473.6 288.6,472.6 287.8,471.9 286.8,470.8 286.1,470 285.2,468.8 284.5,467.9 283.6,466.7 283,465.8 282.3,464.5 281.7,463.6 281,462.3 280.6,461.3 280,459.9 279.5,458.9 279,457.5 278.6,456.4 278.2,455 277.9,454 277.5,452.5 277.2,451.4 276.9,449.9 276.7,448.8 276.5,447.3 276.3,446.2Z" fill="#0094ff"/>
<path d="M276.9,444.7 276.9,443.6 277,442.1 277.2,441 277.5,439.5 277.9,438.5 278.4,437.1 278.9,436 279.5,434.7 280.2,433.4 280.7,432.4 281.5,431.2 282.1,430.3 282.9,429.1 283.6,428.3 284.5,427.2 285.4,426.1 286.1,425.4 287.1,424.4 287.8,423.7 288.8,422.8 289.6,422.1 290.6,421.3 291.4,420.6 292.5,419.9 293.5,419.1 294.3,418.5 295.4,417.8 296.2,417.2 297.2,416.5 298,416 299,415.3 300,414.6 300.8,414.1 301.9,413.4 302.7,412.8 303.7,412.1 304.5,411.6 305.6,410.9 306.7,410.3 307.6,409.7 308.7,409 309.6,408.5 310.7,407.8 311.6,407.2 312.9,406.5 313.8,405.9 315.1,405.2 316.4,404.3 317.5,403.7 318.9,402.8 320,402.2 321.5,401.5 322.7,400.9 324.3,400.1 326,399.3 327.3,398.7 329.1,397.8 330.6,397.1 332.6,396.1 334.2,395.4 336.4,394.4 338.2,393.7 340.6,392.7 343.2,391.6 345.3,390.7 348.4,389.4 350.9,388.2 354.7,386.3 357.8,384.7 362.3,382.5 367.1,380.5 370.6,379.5 374.9,378.8 377.8,378.9 381.2,379.7 383.4,380.9 385.8,383 387.7,385.5 388.9,387.6 390.2,390.5 391,392.8 391.9,396 392.4,398.3 393.1,401.4 393.5,403.8 393.9,406.8 394.2,409.9 394.4,412.2 394.6,415.2 394.6,417.4 394.5,420.3 394.4,422.5 394.1,425.4 393.7,428.3 393.3,430.4 392.7,433.1 392.1,435.2 391.2,437.8 390.4,439.7 389.2,442.3 387.9,444.7 386.7,446.5 385,448.7 383.6,450.3 381.4,452.3 379.7,453.7 377.3,455.4 375.5,456.6 373,458 370.5,459.3 368.7,460.2 366.5,461.3 364.8,462.1 362.8,463 361.4,463.7 359.6,464.7 358.1,465.6 357,466.3 355.7,467.2 354.7,467.9 353.4,468.8 352.5,469.5 351.3,470.3 350.3,470.9 349.1,471.7 347.8,472.4 346.8,472.9 345.5,473.4 344.5,473.8 343.1,474.3 342.1,474.6 340.8,475 339.5,475.4 338.6,475.7 337.3,476.1 336.4,476.3 335.2,476.7 334.3,476.9 333.1,477.3 331.9,477.6 331,477.8 329.8,478.1 328.9,478.3 327.7,478.6 326.8,478.8 325.7,479 324.8,479.2 323.6,479.5 322.4,479.8 321.5,480 320.2,480.3 319.3,480.6 318,481 317,481.3 315.7,481.7 314.3,482.1 313.3,482.4 311.9,482.7 310.8,482.8 309.4,482.8 308.3,482.8 306.9,482.6 305.9,482.4 304.5,482.1 303.2,481.6 302.2,481.2 300.9,480.7 299.9,480.2 298.7,479.5 297.8,479 296.6,478.2 295.4,477.4 294.5,476.8 293.4,475.9 292.6,475.2 291.5,474.3 290.7,473.6 289.6,472.6 288.6,471.6 287.9,470.9 286.9,469.8 286.2,469 285.3,467.8 284.7,467 283.9,465.8 283.3,464.8 282.5,463.6 281.8,462.3 281.4,461.3 280.7,460 280.3,459 279.8,457.6 279.4,456.6 278.9,455.2 278.5,453.8 278.2,452.7 277.9,451.3 277.6,450.2 277.3,448.8 277.1,447.7 277,446.2Z" fill="#00a0ff"/>
<path d="M277.8,444.7 277.8,443.6 277.9,442.1 278.1,441.1 278.4,439.6 278.9,438.3 279.3,437.2 279.9,435.9 280.5,434.6 281.1,433.6 281.8,432.4 282.5,431.2 283.1,430.3 284,429.2 284.9,428.1 285.5,427.3 286.4,426.3 287.3,425.3 288,424.6 289,423.7 290,422.8 290.7,422.2 291.8,421.3 292.8,420.6 293.6,420 294.6,419.2 295.6,418.5 296.4,418 297.4,417.3 298.1,416.7 299.2,416 300.2,415.3 300.9,414.8 302,414.2 303,413.5 303.8,413 304.8,412.3 305.9,411.6 306.7,411.1 307.8,410.5 308.9,409.8 309.8,409.2 310.9,408.5 312.1,407.8 313,407.3 314.2,406.5 315.5,405.7 316.5,405.1 317.8,404.3 319.2,403.5 320.3,402.9 321.8,402.2 323.4,401.5 324.6,400.9 326.3,400.2 328,399.4 329.4,398.8 331.3,397.9 332.8,397.3 334.8,396.4 337,395.5 338.8,394.8 341.2,393.9 343.8,392.8 345.9,392 348.9,390.7 352.3,389.1 355.1,387.8 359.2,386 363.5,384.2 366.7,383.3 370.8,382.5 374.6,382.6 377.1,383.1 380,384.3 382.6,386 384.2,387.5 386.1,389.9 387.7,392.5 388.7,394.5 389.8,397.3 390.7,400.2 391.3,402.5 392,405.4 392.5,408.4 392.7,410.6 393,413.5 393.1,415.7 393.2,418.6 393.1,421.5 392.9,423.7 392.6,426.5 392.1,429.3 391.7,431.3 390.9,434 390,436.7 389.2,438.6 388,441.1 386.6,443.5 385.5,445.3 383.9,447.5 382,449.6 380.5,451.1 378.3,453 376,454.7 374.3,455.8 371.9,457.3 369.6,458.6 367.9,459.5 365.7,460.6 363.6,461.6 362.2,462.3 360.4,463.3 359.1,464 357.6,464.9 356.2,465.8 355.2,466.5 353.9,467.4 352.7,468.3 351.7,468.9 350.5,469.7 349.3,470.5 348.4,471.1 347.1,471.7 345.8,472.3 344.8,472.7 343.5,473.2 342.2,473.7 341.3,474 340,474.4 338.8,474.8 337.9,475.1 336.6,475.4 335.4,475.8 334.5,476 333.4,476.4 332.2,476.7 331.3,476.9 330.2,477.2 329,477.5 328.1,477.7 327,478 326.1,478.2 324.9,478.4 323.8,478.7 322.9,478.9 321.7,479.2 320.5,479.5 319.6,479.8 318.4,480.2 317.1,480.6 316.1,480.9 314.8,481.3 313.4,481.7 312.4,481.9 311,482 309.6,482.1 308.6,482 307.2,481.8 305.8,481.5 304.8,481.2 303.5,480.8 302.3,480.3 301.3,479.8 300.1,479.2 298.9,478.5 298,478 296.8,477.2 295.7,476.4 294.9,475.8 293.8,474.9 293,474.3 291.9,473.4 290.9,472.4 290.1,471.7 289.1,470.7 288.2,469.7 287.5,468.9 286.6,467.8 285.7,466.7 285.1,465.8 284.3,464.7 283.6,463.5 283,462.5 282.4,461.3 281.8,460 281.3,459 280.8,457.7 280.3,456.3 279.9,455.3 279.5,454 279.1,452.6 278.8,451.5 278.5,450.1 278.2,448.7 278,447.6 277.8,446.2Z" fill="#00b0ff"/>
<path d="M278.9,444.7 278.9,443.6 279,442.2 279.3,440.8 279.7,439.4 280,438.4 280.6,437.1 281.2,435.8 281.8,434.6 282.5,433.4 283.1,432.5 283.8,431.3 284.6,430.2 285.5,429.1 286.3,428.1 287,427.3 287.8,426.4 288.7,425.4 289.6,424.5 290.6,423.6 291.3,423 292.3,422.2 293.2,421.4 294.2,420.6 295,420.1 296,419.4 297,418.7 298,418 298.9,417.3 299.7,416.8 300.7,416.1 301.7,415.4 302.7,414.8 303.7,414.1 304.5,413.7 305.5,413 306.5,412.4 307.6,411.7 308.7,411 309.5,410.5 310.6,409.8 311.7,409.1 312.9,408.4 313.8,407.8 315,407.1 316.2,406.3 317.5,405.5 318.9,404.8 320,404.2 321.4,403.5 322.9,402.9 324.4,402.2 326,401.6 327.3,401.1 329,400.3 330.8,399.6 332.7,398.8 334.7,398.1 336.3,397.5 338.5,396.7 340.8,395.8 343.3,394.9 345.3,394.2 348.2,393.1 351.4,391.8 354.9,390.4 358.6,389 361.4,388.2 365.2,387.4 368.7,387.2 372,387.5 375,388.3 377.1,389.1 379.7,390.6 382,392.4 384,394.4 385.7,396.7 386.8,398.5 388.1,401.1 389.1,403.8 389.9,406.5 390.4,408.6 390.8,411.5 391.2,414.3 391.3,417.2 391.4,420 391.3,422.1 391,424.9 390.7,427.6 390.1,430.4 389.3,433 388.6,435 387.6,437.6 386.3,440 384.9,442.4 383.4,444.7 382.1,446.3 380.4,448.4 378.4,450.4 376.4,452.2 374.7,453.4 372.5,455 370.3,456.4 368.1,457.7 366,458.9 364.5,459.7 362.6,460.8 360.8,461.8 359.1,462.7 357.6,463.6 356.5,464.3 355.2,465.2 353.9,466.1 352.6,467 351.4,467.8 350.5,468.4 349.3,469.2 348.1,469.9 346.9,470.6 345.9,471 344.7,471.6 343.4,472.1 342.2,472.6 340.9,473 340,473.3 338.8,473.7 337.6,474.1 336.4,474.4 335.3,474.8 334.4,475 333.2,475.3 332.1,475.6 331,475.9 329.8,476.2 329,476.5 327.9,476.7 326.8,477 325.6,477.3 324.8,477.5 323.7,477.7 322.5,478 321.4,478.3 320.2,478.7 319.3,479 318.1,479.4 316.8,479.8 315.6,480.2 314.2,480.6 313.2,480.8 311.9,481 310.5,481.1 309.2,481 307.9,480.8 306.9,480.6 305.6,480.3 304.3,479.8 303.1,479.3 302.2,478.9 301,478.3 299.8,477.6 298.7,476.9 297.6,476.2 296.7,475.6 295.6,474.8 294.6,474 293.6,473.1 292.5,472.2 291.8,471.6 290.8,470.6 289.9,469.7 288.9,468.7 288,467.6 287.4,466.8 286.6,465.7 285.8,464.6 285,463.5 284.5,462.6 283.8,461.4 283.2,460.2 282.6,458.9 282,457.6 281.6,456.7 281.1,455.4 280.7,454 280.3,452.7 279.9,451.3 279.7,450.3 279.4,448.9 279.1,447.5 279,446.1Z" fill="#00bcff"/>
<path d="M280.2,444.7 280.3,443.7 280.4,442.3 280.6,440.9 281,439.6 281.5,438.3 282.1,437.1 282.7,435.8 283.4,434.6 284,433.5 284.8,432.4 285.6,431.3 286.3,430.2 287.2,429.2 288,428.2 288.8,427.3 289.6,426.3 290.5,425.4 291.4,424.6 292.3,423.7 293.2,422.9 294.1,422.2 295.1,421.4 295.8,420.9 296.7,420.2 297.7,419.5 298.7,418.8 299.6,418.2 300.6,417.5 301.5,416.9 302.5,416.2 303.5,415.6 304.5,415 305.5,414.4 306.5,413.8 307.5,413.1 308.5,412.5 309.6,411.8 310.6,411.2 311.7,410.5 312.8,409.7 313.9,409 315.1,408.3 316.3,407.5 317.6,406.8 318.9,406.1 319.9,405.6 321.3,405 322.8,404.4 324.3,403.8 325.8,403.3 327.4,402.7 329,402.1 330.8,401.5 332.6,400.9 334.5,400.3 336.5,399.6 338.6,398.9 340.8,398.2 343.2,397.4 345.7,396.6 348.4,395.7 351.4,394.8 354.4,394 357.6,393.4 360.7,393 363.8,393 366.8,393.2 369.8,393.7 371.9,394.2 374.8,395 377.4,396.2 379.9,397.6 382.1,399.3 383.9,401.3 385.4,403.6 386.7,406 387.6,408.6 388.3,411.2 388.7,413.9 389,416.7 389.1,419.4 389.1,422.1 388.9,424.8 388.5,427.5 387.9,430.2 387.1,432.8 386.1,435.4 384.9,437.8 383.5,440.2 382,442.5 380.3,444.7 379,446.3 377.1,448.2 375.2,450.1 373.2,451.8 371.2,453.3 369.1,454.8 367.1,456.1 365.1,457.3 363.2,458.4 361.5,459.5 359.8,460.5 358.3,461.5 356.9,462.5 355.5,463.4 354.2,464.3 353,465.1 351.7,466 350.5,466.8 349.3,467.5 348.1,468.2 347,468.9 345.8,469.5 344.9,470 343.7,470.5 342.5,471 341.3,471.5 340.1,471.9 338.9,472.3 337.8,472.7 336.6,473.1 335.5,473.4 334.4,473.7 333.3,474 332.2,474.3 331.1,474.6 330,474.9 328.9,475.2 327.8,475.5 326.8,475.8 325.7,476 324.6,476.3 323.5,476.6 322.4,476.8 321.3,477.1 320.2,477.5 319.3,477.8 318.1,478.3 316.9,478.7 315.7,479.2 314.4,479.5 313.1,479.7 311.8,479.9 310.5,479.8 309.2,479.7 308,479.5 306.7,479.1 305.5,478.7 304.3,478.3 303.1,477.7 302,477.1 300.9,476.5 299.8,475.8 298.7,475.1 297.6,474.4 296.6,473.6 295.6,472.8 294.6,472 293.6,471.1 292.9,470.5 292,469.6 291.1,468.7 290.2,467.7 289.3,466.7 288.5,465.7 287.7,464.7 286.9,463.6 286.2,462.5 285.5,461.3 284.8,460.2 284.2,459 283.7,457.8 283.1,456.6 282.6,455.3 282.2,454 281.8,452.7 281.4,451.4 281,450.1 280.7,448.8 280.5,447.4 280.3,446.1Z" fill="#00ccff"/>
<path d="M281.9,444.7 281.9,443.4 282.1,442.1 282.4,440.8 282.8,439.5 283.3,438.3 284,436.8 284.7,435.7 285.3,434.5 286,433.5 286.8,432.4 287.7,431.2 288.5,430.2 289.3,429.2 290,428.3 290.8,427.4 291.6,426.5 292.6,425.4 293.4,424.6 294.3,423.8 295.2,423.1 296.1,422.4 297.2,421.5 298.1,420.9 299,420.2 300,419.6 300.9,418.9 302,418.2 303,417.5 303.9,417 304.8,416.4 305.8,415.8 306.8,415.2 308,414.4 309,413.8 310,413.2 311,412.5 312,411.8 313.3,411 314.4,410.2 315.6,409.5 316.8,408.8 318,408.1 319.6,407.4 320.9,406.8 322.3,406.3 323.7,405.8 325.1,405.4 326.6,405 328.5,404.5 330.1,404 331.8,403.6 333.5,403.1 335.3,402.6 337.7,401.9 339.8,401.4 341.9,400.9 344.2,400.4 346.5,400 348.8,399.7 351.8,399.6 354.1,399.7 356.6,399.8 359.2,400 362,400 365.8,400.1 368.9,400.3 372.1,400.7 375,401.4 377.7,402.5 380.6,404.3 382.4,406.2 383.8,408.4 384.8,410.7 385.6,413.2 386.1,415.8 386.4,419 386.5,421.7 386.4,424.3 386,426.9 385.5,429.5 384.5,432.7 383.4,435.2 382.1,437.6 380.6,439.9 378.9,442.1 376.6,444.7 374.7,446.6 372.8,448.4 371,450.1 369,451.6 367.1,453.1 364.8,454.7 363,455.9 361.3,457.1 359.7,458.1 358.3,459.2 356.7,460.4 355.4,461.4 354.2,462.3 353,463.2 351.8,464 350.6,464.8 349.1,465.8 348,466.5 346.8,467.1 345.6,467.7 344.5,468.3 343,469 341.9,469.5 340.8,469.9 339.6,470.4 338.5,470.8 337.2,471.3 336.1,471.6 335,472 334,472.3 332.9,472.6 331.8,472.8 330.5,473.2 329.5,473.5 328.5,473.8 327.5,474.1 326.4,474.3 325.2,474.7 324.1,475 323.1,475.2 322,475.5 321,475.9 319.6,476.4 318.5,476.8 317.3,477.3 316.1,477.8 314.9,478.1 313.7,478.3 312.1,478.4 310.9,478.4 309.7,478.2 308.5,477.9 307.3,477.6 305.9,477 304.8,476.5 303.6,476 302.6,475.4 301.5,474.8 300.5,474.1 299.2,473.3 298.2,472.5 297.3,471.8 296.3,471 295.4,470.2 294.2,469.2 293.4,468.3 292.5,467.5 291.6,466.6 290.8,465.6 289.8,464.4 289,463.4 288.3,462.4 287.6,461.4 286.9,460.3 286.3,459.2 285.5,457.8 285,456.6 284.5,455.4 284,454.2 283.6,453 283.1,451.5 282.7,450.2 282.4,448.9 282.2,447.6 282,446.3Z" fill="#00dcfe"/>
<path d="M282.3,444.7 282.3,443.4 282.4,442.1 282.7,440.8 283.2,439.3 283.8,438.1 284.3,436.9 285,435.7 285.8,434.4 286.5,433.3 287.2,432.3 288,431.3 288.9,430.1 289.7,429.1 290.5,428.2 291.3,427.3 292.2,426.3 293.1,425.4 293.9,424.6 294.8,423.9 295.9,423 296.8,422.3 297.7,421.6 298.6,420.9 299.7,420.1 300.6,419.5 301.5,418.9 302.7,418.2 303.6,417.6 304.5,417 305.5,416.4 306.7,415.7 307.6,415.1 308.6,414.5 309.6,413.9 310.8,413.1 311.8,412.4 312.9,411.7 314,411 315.4,410.1 316.5,409.5 317.7,408.8 319,408.2 320.6,407.4 321.9,406.9 323.3,406.5 324.7,406 326.5,405.5 328,405.1 329.6,404.6 331.6,404.1 333.3,403.6 335.1,403.2 337,402.7 339.5,402 341.6,401.5 343.8,401 346.1,400.7 348.9,400.4 351.2,400.3 353.6,400.4 356,400.6 359.2,400.7 361.9,400.8 364.9,401 367.9,401.2 371.7,401.8 374.5,402.6 377,403.7 379.2,405.3 381.4,407.6 382.7,409.7 383.6,412.1 384.5,415.1 384.9,417.7 385.1,420.2 385.1,422.8 384.9,426 384.5,428.5 383.9,431 383,433.5 381.6,436.5 380.2,438.9 378.6,441.1 376.9,443.2 374.7,445.7 372.9,447.5 371,449.2 369.2,450.8 366.9,452.6 365.1,453.9 363.3,455.2 361.6,456.3 359.6,457.7 358.2,458.8 356.9,459.8 355.6,460.8 354.1,461.9 352.9,462.8 351.7,463.6 350.3,464.6 349.1,465.4 347.9,466.1 346.8,466.7 345.4,467.5 344.2,468.1 343.1,468.6 342,469.1 340.6,469.7 339.4,470.1 338.4,470.5 337.3,470.9 335.9,471.4 334.9,471.7 333.8,472 332.8,472.3 331.5,472.6 330.4,472.9 329.4,473.2 328.4,473.5 327.1,473.8 326.1,474.1 325.1,474.4 323.8,474.7 322.8,475 321.7,475.3 320.7,475.6 319.3,476.1 318.2,476.6 317.1,477.1 315.9,477.5 314.3,477.8 313.1,478 311.9,478 310.7,477.9 309.2,477.7 308,477.4 306.9,477 305.8,476.5 304.4,475.9 303.3,475.3 302.2,474.8 301.2,474.1 300,473.3 299,472.6 298,471.8 296.8,470.9 295.9,470.1 295,469.3 294.1,468.5 293,467.4 292.2,466.5 291.3,465.6 290.5,464.7 289.6,463.5 288.8,462.5 288.1,461.4 287.5,460.4 286.7,459 286.1,457.9 285.5,456.8 285,455.6 284.4,454.1 284,452.9 283.6,451.7 283.2,450.5 282.8,448.9 282.6,447.6 282.4,446.3Z" fill="#02e8f4"/>
<path d="M282.8,444.7 282.8,443.4 282.9,442.1 283.3,440.6 283.7,439.3 284.2,438.1 284.9,436.7 285.5,435.6 286.2,434.5 287.1,433.2 287.8,432.2 288.5,431.2 289.5,430 290.3,429.1 291,428.2 292,427.1 292.8,426.3 293.6,425.5 294.7,424.5 295.5,423.8 296.4,423.1 297.5,422.2 298.4,421.6 299.3,421 300.5,420.2 301.4,419.6 302.3,419 303.4,418.3 304.3,417.7 305.3,417.1 306.4,416.4 307.4,415.9 308.3,415.3 309.5,414.5 310.5,413.9 311.5,413.3 312.7,412.5 313.8,411.8 314.9,411.1 316.3,410.3 317.5,409.6 318.7,409 320.2,408.3 321.5,407.8 322.9,407.3 324.6,406.7 326,406.3 327.5,405.9 329.4,405.4 331,404.9 332.7,404.5 334.8,403.9 336.7,403.5 338.6,403 341.1,402.4 343.3,402 345.5,401.6 348.3,401.4 350.5,401.3 352.8,401.4 355.7,401.6 358.2,401.8 360.9,401.9 364.4,402.2 367.3,402.5 370.1,403 373.4,404.1 375.8,405.4 377.8,406.9 379.7,409.3 381,411.4 381.9,413.7 382.6,416.6 383,419.1 383.2,421.6 383.2,424.7 383,427.1 382.6,429.6 381.7,432.6 380.8,435 379.7,437.3 377.9,440.1 376.3,442.2 374.2,444.7 372.5,446.5 370.7,448.3 368.5,450.3 366.8,451.8 365,453.1 362.9,454.7 361.2,455.9 359.7,457 357.9,458.3 356.6,459.3 355.4,460.3 353.9,461.4 352.7,462.3 351.6,463.1 350.1,464.1 349,464.9 347.8,465.6 346.4,466.4 345.3,467 344.2,467.6 342.8,468.3 341.6,468.8 340.5,469.2 339.2,469.8 338.1,470.2 337,470.6 335.7,471 334.7,471.3 333.6,471.6 332.3,472 331.3,472.2 330.3,472.5 329,472.9 328,473.1 327,473.4 325.8,473.8 324.8,474 323.8,474.3 322.5,474.6 321.4,474.9 320.4,475.3 319.1,475.8 317.9,476.2 316.8,476.6 315.3,477.1 314.1,477.3 312.9,477.5 311.4,477.4 310.3,477.3 309.1,477 307.7,476.6 306.5,476.2 305.4,475.8 304.1,475.1 303.1,474.6 302,473.9 300.8,473.1 299.8,472.5 298.8,471.8 297.7,470.8 296.7,470.1 295.8,469.3 294.7,468.3 293.9,467.5 293,466.6 292,465.5 291.2,464.6 290.5,463.6 289.5,462.4 288.8,461.4 288.2,460.4 287.4,459.1 286.8,458 286.2,456.9 285.5,455.4 285.1,454.3 284.6,453.1 284.1,451.6 283.8,450.4 283.4,449.1 283.1,447.6 282.9,446.3Z" fill="#0ff8e7"/>
<path d="M283.4,444.7 283.4,443.4 283.5,442.2 283.8,440.6 284.2,439.4 284.8,437.9 285.4,436.8 286.2,435.4 286.8,434.4 287.7,433.1 288.4,432.1 289.2,431.1 290.1,430 290.9,429.1 291.8,428 292.6,427.2 293.6,426.2 294.4,425.4 295.5,424.5 296.4,423.8 297.2,423.1 298.3,422.3 299.2,421.7 300.3,420.9 301.2,420.3 302.4,419.6 303.3,419 304.4,418.3 305.3,417.8 306.2,417.2 307.4,416.6 308.3,416 309.5,415.3 310.4,414.7 311.6,413.9 312.6,413.3 313.9,412.5 315,411.8 316.1,411.2 317.5,410.4 318.7,409.8 320.2,409.1 321.5,408.6 323.1,408 324.5,407.5 326.2,407 327.7,406.6 329.2,406.2 331.2,405.7 332.8,405.2 335,404.7 336.8,404.3 339.1,403.7 341.1,403.3 343.7,402.9 345.9,402.6 348.1,402.5 350.8,402.5 353,402.7 356,402.9 358.4,403.1 361.7,403.4 364.3,403.7 367.7,404.3 370.3,405.1 372.6,406.2 375.1,407.9 376.8,409.6 378.4,412.1 379.4,414.2 380.3,417 380.7,419.4 381,422.3 381.1,424.7 380.9,427.1 380.5,430.1 379.9,432.4 378.9,435.3 377.8,437.6 376.1,440.2 374.7,442.3 372.7,444.7 371,446.5 369.3,448.2 367.3,450.1 365.6,451.6 363.5,453.2 361.9,454.5 360,455.9 358.6,457 356.9,458.3 355.7,459.3 354.5,460.2 353,461.4 351.9,462.2 350.4,463.2 349.3,464 347.9,464.9 346.8,465.6 345.4,466.3 344.3,466.9 343.2,467.5 341.8,468.1 340.7,468.6 339.4,469.2 338.3,469.6 337,470.1 336,470.4 334.7,470.8 333.6,471.1 332.6,471.4 331.4,471.7 330.4,472 329.1,472.3 328.1,472.6 326.9,473 325.9,473.3 324.7,473.6 323.7,473.8 322.7,474.1 321.4,474.4 320.4,474.7 319.1,475.2 318,475.6 316.6,476.1 315.4,476.5 313.9,476.8 312.8,476.8 311.6,476.8 310.2,476.6 309,476.3 307.6,475.9 306.5,475.5 305.2,474.9 304.1,474.4 302.9,473.7 301.9,473.1 300.9,472.4 299.7,471.6 298.8,470.9 297.6,470 296.7,469.2 295.7,468.2 294.8,467.4 293.8,466.4 292.9,465.5 292.2,464.6 291.2,463.5 290.5,462.5 289.6,461.3 288.9,460.3 288.1,459 287.5,458 286.8,456.6 286.3,455.5 285.8,454.4 285.2,453 284.8,451.8 284.4,450.3 284,449.1 283.7,447.5 283.5,446.3Z" fill="#19ffde"/>
<path d="M284,444.7 284,443.5 284.1,441.9 284.4,440.7 284.9,439.2 285.3,438 286,436.6 286.7,435.6 287.5,434.3 288.3,433 289.1,432 290,430.9 290.7,430 291.7,428.9 292.4,428.1 293.4,427 294.2,426.3 295.3,425.4 296.3,424.5 297.2,423.8 298.3,423 299.2,422.4 300.3,421.7 301.1,421.1 302.2,420.4 303.1,419.8 304.2,419.1 305.4,418.5 306.3,417.9 307.4,417.3 308.3,416.7 309.5,416 310.4,415.5 311.6,414.7 312.5,414.1 313.8,413.4 315.1,412.6 316.2,412 317.6,411.2 318.7,410.6 320.2,410 321.4,409.5 323,408.9 324.4,408.4 326.1,407.9 327.9,407.4 329.4,407 331.3,406.5 332.9,406.1 335,405.6 336.8,405.2 339.1,404.7 341,404.4 343.6,404 346.2,403.8 348.3,403.8 351,403.8 353.1,404 356,404.3 358.4,404.6 361.5,405 364,405.4 367,406.3 369.9,407.5 371.9,408.8 374,410.7 375.4,412.5 376.7,415 377.5,417.1 378.2,419.8 378.6,422.1 378.7,424.9 378.6,427.8 378.4,430.1 377.7,432.9 377,435.1 375.8,437.8 374.6,439.9 372.8,442.4 371,444.7 369.4,446.4 367.4,448.5 365.9,450 363.9,451.7 362.4,453 360.5,454.5 359.1,455.6 357.4,457 355.8,458.2 354.6,459.2 353.2,460.4 352.1,461.2 350.7,462.3 349.6,463.1 348.2,464 347.1,464.7 345.7,465.5 344.4,466.2 343.3,466.8 342,467.5 340.9,467.9 339.6,468.5 338.5,468.9 337.2,469.4 336.2,469.8 334.9,470.2 333.7,470.6 332.6,470.9 331.4,471.2 330.4,471.4 329.2,471.8 328.2,472.1 327,472.4 326.1,472.7 324.8,473 323.6,473.3 322.6,473.5 321.4,473.8 320.4,474.2 319.1,474.6 318,475 316.6,475.5 315.5,475.8 314.1,476.1 312.6,476.1 311.5,476.1 310.1,475.8 309,475.6 307.6,475.1 306.5,474.7 305.2,474.1 304.2,473.6 303,472.9 301.8,472.2 300.8,471.5 299.7,470.7 298.8,470 297.7,469.1 296.8,468.3 295.7,467.3 294.9,466.5 293.9,465.5 292.9,464.4 292.2,463.5 291.3,462.4 290.6,461.5 289.7,460.2 289.1,459.2 288.3,458 287.8,456.9 287.1,455.6 286.5,454.2 286,453.1 285.5,451.6 285.1,450.5 284.7,449 284.4,447.8 284.2,446.2Z" fill="#26ffd1"/>
<path d="M284.7,444.7 284.7,443.5 284.8,442 285.1,440.5 285.4,439.3 286,437.9 286.7,436.5 287.4,435.5 288.2,434.2 289,433 289.7,432 290.6,430.9 291.6,429.8 292.3,429 293.3,427.9 294.3,427 295.1,426.2 296.1,425.4 297.2,424.5 298.1,423.9 299.2,423.2 300.2,422.4 301.1,421.9 302.2,421.2 303.3,420.5 304.1,420 305.2,419.3 306.3,418.7 307.2,418.2 308.3,417.5 309.5,416.8 310.4,416.3 311.5,415.6 312.7,414.9 313.7,414.3 314.9,413.5 316.2,412.8 317.3,412.2 318.7,411.5 320.2,410.9 321.7,410.3 323,409.8 324.6,409.3 326.3,408.7 327.7,408.3 329.5,407.8 331.4,407.3 333,407 335,406.5 337.2,406.1 339,405.8 341.3,405.5 343.8,405.2 345.8,405.1 348.4,405.1 351,405.3 353.1,405.5 355.9,405.8 358.7,406.3 361,406.8 363.8,407.6 366.5,408.7 368.5,409.8 370.7,411.5 372.5,413.5 373.6,415.4 374.8,417.8 375.5,420.4 375.9,422.5 376.2,425.2 376.2,427.9 376,430.1 375.5,432.8 374.7,435.5 373.8,437.6 372.5,440.1 370.9,442.5 369.1,444.7 367.7,446.4 365.8,448.3 364,450.2 362.6,451.5 360.8,453.1 359.1,454.5 357.7,455.6 356.2,456.9 354.7,458.2 353.6,459.1 352.2,460.3 350.8,461.3 349.8,462.1 348.4,463 347,463.9 346,464.6 344.7,465.4 343.4,466.1 342.3,466.6 341,467.3 339.7,467.8 338.7,468.3 337.4,468.8 336.1,469.2 335.1,469.6 333.9,469.9 332.6,470.3 331.7,470.5 330.4,470.9 329.2,471.2 328.3,471.5 327.1,471.8 325.9,472.2 325,472.4 323.8,472.7 322.6,473 321.6,473.2 320.4,473.5 319.1,474 317.8,474.4 316.7,474.8 315.3,475.1 313.9,475.3 312.8,475.4 311.4,475.3 310,475 309,474.8 307.6,474.3 306.3,473.8 305.3,473.3 304.1,472.7 302.9,472 302,471.4 300.8,470.6 299.7,469.7 298.8,469 297.7,468.1 296.7,467.2 295.9,466.4 294.9,465.4 293.9,464.4 293.2,463.5 292.3,462.4 291.4,461.3 290.8,460.4 290,459.2 289.2,457.9 288.6,456.9 287.9,455.6 287.3,454.3 286.8,453.2 286.3,451.8 285.8,450.4 285.5,449.2 285.2,447.7 284.9,446.2Z" fill="#30ffc7"/>
<path d="M285.4,444.7 285.4,443.5 285.5,442 285.7,440.5 286.2,439.1 286.8,437.7 287.3,436.7 288.1,435.4 288.9,434.1 289.7,432.9 290.6,431.8 291.3,430.9 292.3,429.9 293.2,428.8 294.2,427.9 295.2,427 296,426.3 297,425.4 298.1,424.6 299.2,423.9 300.2,423.2 301.1,422.6 302.2,422 303.2,421.3 304.3,420.7 305.4,420 306.2,419.6 307.3,418.9 308.4,418.3 309.5,417.7 310.6,417 311.5,416.5 312.7,415.8 313.8,415.1 315.1,414.4 316.3,413.7 317.4,413.2 318.8,412.5 320.2,411.9 321.6,411.3 323.2,410.7 324.4,410.3 326.1,409.7 327.8,409.2 329.6,408.7 331.4,408.3 333,407.9 335,407.6 337.1,407.2 339.3,406.9 341.5,406.7 343.4,406.6 345.9,406.5 348.3,406.6 350.9,406.8 353.4,407.1 355.5,407.5 358.1,408.2 360.7,409 363.2,410 365.5,411.3 367.2,412.6 369.1,414.4 370.6,416.4 371.8,418.7 372.7,421.1 373.2,423.1 373.5,425.6 373.6,428.2 373.5,430.8 373.1,433.3 372.5,435.4 371.6,437.9 370.3,440.3 368.8,442.5 367.2,444.7 365.9,446.3 364.2,448.2 362.5,450 360.8,451.6 359.2,453.1 357.9,454.3 356.4,455.6 355,456.9 353.6,458.1 352.3,459.2 351.2,460.1 349.9,461.1 348.5,462.1 347.2,463 345.9,463.8 344.9,464.5 343.6,465.2 342.3,465.9 341.1,466.5 339.8,467.1 338.8,467.6 337.6,468.1 336.3,468.6 335.1,469 333.8,469.3 332.9,469.6 331.6,469.9 330.5,470.3 329.3,470.6 328.1,470.9 327.2,471.2 326,471.5 324.9,471.8 323.7,472.1 322.5,472.4 321.5,472.6 320.3,472.9 319.1,473.3 317.8,473.7 316.5,474.1 315.4,474.4 314.1,474.6 312.7,474.6 311.3,474.5 310,474.2 309,473.9 307.7,473.5 306.4,473 305.2,472.4 304,471.7 303.1,471.1 301.9,470.4 300.8,469.6 299.8,468.8 298.7,467.9 297.9,467.2 296.9,466.3 295.9,465.3 295,464.3 294,463.3 293.3,462.4 292.5,461.3 291.7,460.2 290.9,459 290.1,457.8 289.5,456.9 288.8,455.6 288.2,454.3 287.6,453 287,451.6 286.7,450.5 286.2,449.1 285.9,447.6 285.6,446.2Z" fill="#3cffba"/>
<path d="M286.2,444.7 286.1,443.5 286.2,442.1 286.4,440.6 286.8,439.2 287.4,437.9 288.1,436.5 288.8,435.3 289.6,434.1 290.4,432.9 291.3,431.8 292.2,430.7 293.1,429.7 294.1,428.8 295.1,427.8 296.1,427 297.1,426.2 298.2,425.4 299.2,424.7 300.3,424 301.3,423.3 302.4,422.6 303.4,422 304.5,421.4 305.5,420.8 306.6,420.2 307.6,419.6 308.7,419 309.8,418.4 310.8,417.7 311.7,417.2 312.8,416.6 314,415.9 315.2,415.3 316.4,414.6 317.7,414 319.1,413.4 320.4,412.8 321.9,412.2 323.4,411.6 324.9,411.1 326.5,410.6 328.2,410.1 330,409.6 331.8,409.2 333.7,408.8 335.7,408.5 337.7,408.3 339.9,408.1 342.1,408 344.4,408 346.8,408 349.2,408.2 351.6,408.5 354,409.1 356.3,409.9 358.6,410.8 360.8,411.9 362.9,413.2 364.5,414.4 366.3,416.1 367.8,418 369,420.1 369.9,422.3 370.5,424.7 370.8,427.1 370.9,429.5 370.8,431.9 370.4,434.4 369.7,436.8 368.7,439.1 367.5,441.3 366.1,443.5 364.6,445.5 363.1,447.4 361.5,449.1 360,450.7 358.5,452.3 357.1,453.7 355.7,455 354.3,456.3 353,457.5 351.7,458.7 350.4,459.7 349.1,460.7 347.9,461.7 346.6,462.6 345.3,463.4 344.3,464 343.1,464.7 341.8,465.4 340.6,466.1 339.4,466.6 338.1,467.2 336.9,467.7 335.7,468.1 334.5,468.5 333.3,468.9 332.1,469.2 330.9,469.5 329.8,469.8 328.6,470.2 327.5,470.5 326.4,470.8 325.2,471.1 324.1,471.4 322.9,471.6 321.7,471.9 320.6,472.2 319.4,472.5 318.1,472.9 316.8,473.3 315.5,473.6 314.2,473.8 312.9,473.8 311.6,473.7 310.3,473.4 309.3,473.1 308,472.7 306.8,472.2 305.6,471.6 304.4,471 303.3,470.3 302.2,469.5 301.1,468.8 300.1,468 299.1,467.1 298.1,466.2 297.1,465.3 296.2,464.4 295.3,463.4 294.4,462.4 293.5,461.3 292.7,460.2 291.9,459.1 291.2,458 290.4,456.8 289.7,455.6 289.1,454.3 288.5,453 287.9,451.7 287.4,450.4 287,449 286.7,447.6 286.4,446.2Z" fill="#46ffb1"/>
<path d="M287,444.7 286.9,443.3 286.9,441.8 287.1,440.4 287.6,439 288.1,437.7 288.8,436.5 289.7,435 290.5,433.8 291.4,432.7 292.2,431.6 293.1,430.6 294,429.6 295,428.7 296.2,427.7 297.2,426.9 298.2,426.1 299.3,425.4 300.3,424.7 301.3,424.1 302.4,423.4 303.6,422.7 304.7,422.1 305.7,421.5 306.7,421 307.8,420.4 308.8,419.8 309.8,419.2 311.1,418.5 312.2,417.9 313.3,417.3 314.4,416.7 315.6,416.1 316.8,415.5 318,414.9 319.6,414.2 321,413.6 322.4,413 323.8,412.5 325.4,411.9 327,411.4 328.6,411 330.7,410.5 332.5,410.1 334.4,409.9 336.3,409.7 338.3,409.6 340.3,409.5 342.5,409.5 345.2,409.5 347.5,409.7 349.8,410 352,410.6 354,411.4 356.1,412.4 358,413.6 360.3,415.2 362,416.6 363.7,418.2 365.1,420 366.2,422 367.1,424.1 367.7,426.2 368.1,428.9 368.2,431.2 368,433.5 367.5,435.8 366.8,438.1 365.9,440.2 364.8,442.3 363.2,444.7 361.8,446.5 360.3,448.3 359,449.9 357.6,451.4 356.3,452.8 355.1,454.2 353.6,455.7 352.4,457 351.1,458.1 349.9,459.2 348.6,460.1 347.4,461.1 346.1,461.9 344.7,462.9 343.4,463.7 342.2,464.4 341,465 339.8,465.7 338.7,466.2 337.5,466.8 336,467.3 334.9,467.8 333.7,468.1 332.5,468.4 331.3,468.7 330.2,469.1 329.1,469.4 327.7,469.8 326.6,470.1 325.5,470.4 324.4,470.7 323.3,470.9 322.1,471.1 321,471.4 319.6,471.7 318.4,472.1 317.2,472.4 315.9,472.7 314.6,472.9 313.3,472.9 312.1,472.8 310.5,472.6 309.3,472.2 308.1,471.8 306.9,471.3 305.8,470.7 304.6,470.1 303.5,469.4 302.3,468.5 301.2,467.8 300.2,467 299.3,466.1 298.3,465.3 297.4,464.4 296.5,463.4 295.4,462.3 294.6,461.2 293.8,460.2 293,459.1 292.3,458 291.5,456.9 290.8,455.8 290,454.3 289.4,453.1 288.8,451.8 288.3,450.5 287.9,449.2 287.5,447.8 287.2,446.4Z" fill="#53ffa4"/>
<path d="M287.6,444.7 287.5,443.3 287.6,441.9 287.8,440.5 288.3,438.9 288.9,437.6 289.6,436.4 290.4,435.2 291.3,433.8 292.1,432.7 293,431.7 293.8,430.7 294.9,429.6 295.9,428.7 296.9,427.9 297.9,427.1 299.1,426.2 300.1,425.6 301.1,424.9 302.1,424.3 303.4,423.5 304.4,423 305.4,422.4 306.4,421.9 307.6,421.2 308.6,420.7 309.7,420.1 310.7,419.5 311.9,418.8 313,418.2 314.1,417.6 315.2,417 316.6,416.3 317.8,415.7 319.1,415.1 320.4,414.5 322,413.9 323.5,413.3 324.9,412.8 326.5,412.3 328.4,411.8 330.1,411.4 331.8,411.1 333.6,410.8 335.9,410.6 337.8,410.5 339.8,410.4 342.3,410.4 344.5,410.4 346.7,410.6 349,410.9 351.6,411.6 353.6,412.4 355.6,413.4 357.5,414.6 359.7,416.1 361.3,417.6 362.9,419.2 364.2,421 365.4,423.4 366.1,425.5 366.5,427.6 366.8,429.8 366.8,432.5 366.5,434.7 366,436.9 365.3,439.1 364.1,441.6 363,443.6 361.7,445.4 360.4,447.2 358.9,449.2 357.6,450.7 356.3,452.2 355,453.5 353.5,455.1 352.3,456.3 351.1,457.4 349.9,458.5 348.4,459.7 347.2,460.6 345.9,461.5 344.7,462.3 343.3,463.2 342.1,463.9 340.9,464.5 339.7,465.2 338.3,465.8 337.1,466.4 336,466.8 334.8,467.2 333.4,467.6 332.2,468 331.1,468.3 329.8,468.6 328.7,469 327.6,469.3 326.5,469.6 325.2,470 324.1,470.2 323,470.5 321.9,470.7 320.5,471 319.4,471.3 318.2,471.6 317,471.9 315.5,472.2 314.2,472.3 313,472.3 311.7,472.2 310.2,471.9 309,471.5 307.9,471 306.7,470.5 305.4,469.8 304.3,469.2 303.3,468.5 302.2,467.7 301,466.8 300.1,466 299.1,465.2 298.2,464.3 297.1,463.2 296.3,462.3 295.5,461.3 294.7,460.3 293.7,459 293,458 292.3,456.9 291.6,455.7 290.8,454.4 290.1,453.1 289.6,451.9 289.1,450.6 288.6,449.1 288.2,447.7 287.9,446.4Z" fill="#60ff97"/>
<path d="M288.3,444.7 288.2,443.3 288.2,442 288.5,440.3 288.9,439 289.5,437.8 290.4,436.3 291.1,435.2 291.9,434.1 292.9,432.8 293.7,431.8 294.7,430.6 295.7,429.7 296.6,428.9 297.8,427.9 298.8,427.2 299.7,426.5 300.9,425.7 301.9,425.1 303.1,424.4 304.1,423.8 305.1,423.2 306.3,422.6 307.3,422.1 308.3,421.5 309.5,420.9 310.5,420.4 311.7,419.7 312.7,419.1 313.8,418.5 315.1,417.8 316.2,417.2 317.4,416.6 318.8,415.9 320.1,415.3 321.7,414.7 323.1,414.2 324.5,413.7 326.3,413.2 327.9,412.7 329.5,412.3 331.5,411.9 333.3,411.7 335.5,411.5 337.3,411.3 339.3,411.3 341.7,411.3 343.8,411.3 346,411.5 348.6,411.9 350.7,412.5 353.2,413.4 355.1,414.4 356.9,415.5 359,417.1 360.6,418.6 362,420.2 363.4,422.4 364.3,424.3 365,426.8 365.3,429 365.5,431.1 365.3,433.7 365,435.9 364.5,438 363.6,440.5 362.6,442.4 361.3,444.7 360.2,446.5 358.9,448.1 357.5,450 356.2,451.5 355,452.9 353.5,454.4 352.3,455.6 351,456.8 349.6,458.1 348.4,459 346.9,460.2 345.7,461 344.5,461.8 343.1,462.7 341.9,463.4 340.7,464.1 339.3,464.8 338.2,465.3 336.8,465.9 335.6,466.4 334.5,466.8 333.1,467.2 332,467.5 330.9,467.8 329.6,468.2 328.5,468.5 327.2,468.9 326.2,469.2 325.1,469.5 323.8,469.8 322.7,470 321.6,470.2 320.3,470.5 319.1,470.8 317.7,471.2 316.6,471.4 315.3,471.7 313.9,471.8 312.6,471.7 311.4,471.5 310,471.1 308.8,470.8 307.4,470.2 306.3,469.6 305.3,469 304,468.2 303,467.5 302,466.8 300.9,465.9 299.9,465.1 298.9,464 298,463.2 297.1,462.3 296.2,461.1 295.4,460.1 294.6,459.1 293.7,457.9 293,456.8 292.2,455.5 291.5,454.4 290.9,453.2 290.2,451.8 289.7,450.5 289.3,449.2 288.9,447.7 288.5,446.3Z" fill="#6aff8d"/>
<path d="M288.9,444.7 288.8,443.4 288.9,442 289.1,440.4 289.6,439.1 290.3,437.7 291,436.5 291.9,435.2 292.7,434.1 293.6,432.9 294.4,431.9 295.5,430.8 296.4,429.9 297.5,428.9 298.4,428.2 299.6,427.3 300.6,426.6 301.7,425.9 302.7,425.3 303.9,424.6 304.9,424.1 306.1,423.4 307,422.9 308.2,422.3 309.2,421.8 310.3,421.2 311.3,420.6 312.5,420 313.5,419.4 314.8,418.7 315.9,418.1 317.2,417.4 318.4,416.8 319.8,416.1 321.1,415.6 322.7,415 324.1,414.6 325.8,414.1 327.3,413.6 329.2,413.2 330.9,412.9 332.9,412.6 334.7,412.4 336.9,412.2 338.8,412.2 341.1,412.2 343.2,412.2 345.7,412.5 347.8,412.8 350.3,413.4 352.3,414.2 354.6,415.3 356.4,416.5 358.3,418.1 359.8,419.6 361.4,421.5 362.4,423.4 363.3,425.7 363.8,427.7 364.1,430.2 364.1,432.4 363.9,434.9 363.5,437 362.8,439.4 362.1,441.4 361,443.6 360,445.4 358.7,447.4 357.5,449 356.1,450.8 354.9,452.2 353.4,453.8 352.2,455 350.8,456.3 349.5,457.4 348.1,458.6 346.9,459.5 345.5,460.6 344.3,461.3 342.9,462.2 341.7,462.9 340.3,463.7 339.2,464.3 337.8,464.9 336.7,465.4 335.3,465.9 334.2,466.3 332.8,466.7 331.7,467 330.4,467.4 329.4,467.7 328.1,468.1 327.1,468.4 325.8,468.8 324.8,469.1 323.5,469.3 322.4,469.6 321.1,469.8 320,470 318.7,470.4 317.6,470.7 316.1,471 314.9,471.1 313.5,471.1 312.3,471 310.9,470.8 309.7,470.4 308.4,469.9 307.3,469.4 306,468.7 305,468.1 303.8,467.3 302.8,466.6 301.7,465.7 300.7,464.9 299.7,463.9 298.8,463.1 297.8,462 297,461.1 296.1,460 295.3,459 294.4,457.8 293.7,456.8 292.9,455.5 292.3,454.4 291.5,453 291,451.8 290.4,450.4 289.9,449.1 289.5,447.6 289.2,446.3Z" fill="#77ff80"/>
<path d="M289.6,444.7 289.5,443.4 289.5,441.8 289.8,440.5 290.3,439 291.1,437.6 291.8,436.5 292.7,435.2 293.6,433.9 294.4,432.9 295.3,431.8 296.2,430.9 297.2,429.9 298.4,429 299.3,428.3 300.4,427.4 301.6,426.7 302.5,426.1 303.7,425.4 304.7,424.9 305.8,424.3 307,423.7 307.9,423.2 309.1,422.6 310.2,422 311.1,421.5 312.3,420.8 313.3,420.3 314.5,419.6 315.7,418.8 316.8,418.3 318.2,417.6 319.6,416.9 320.8,416.4 322.4,415.9 323.7,415.4 325.4,415 327.1,414.5 328.7,414.1 330.6,413.7 332.5,413.4 334.3,413.2 336.4,413.1 338.2,413.1 340.5,413.1 342.9,413.2 345,413.4 347.4,413.8 349.9,414.4 351.8,415.2 354.1,416.3 355.8,417.4 357.6,419 359.3,420.9 360.4,422.5 361.5,424.7 362.2,427 362.6,429.1 362.8,431.5 362.7,433.5 362.4,436 361.9,438.4 361.4,440.3 360.5,442.6 359.5,444.7 358.6,446.4 357.3,448.3 356.2,449.8 354.8,451.5 353.4,453.1 352.2,454.3 350.7,455.7 349.3,457 348.1,458 346.7,459.1 345.5,459.9 344.1,460.9 342.7,461.8 341.5,462.4 340.1,463.2 338.8,463.9 337.7,464.4 336.3,465 335.2,465.4 333.9,465.9 332.6,466.3 331.5,466.6 330.2,466.9 329,467.3 327.9,467.6 326.7,468 325.7,468.3 324.5,468.6 323.2,468.9 322.2,469.1 320.9,469.3 319.6,469.6 318.5,469.9 317.1,470.2 316,470.4 314.6,470.5 313.2,470.5 312,470.4 310.6,470.1 309.3,469.6 308.2,469.2 306.9,468.5 305.9,468 304.7,467.2 303.5,466.4 302.6,465.7 301.5,464.8 300.5,463.8 299.6,463 298.6,462 297.8,461.1 296.9,460 296,458.9 295.3,457.9 294.5,456.7 293.6,455.4 293,454.4 292.3,453.1 291.7,451.9 291.1,450.5 290.6,449 290.2,447.8 289.9,446.3Z" fill="#80ff77"/>
<path d="M290.3,444.7 290.1,443.4 290.2,441.9 290.5,440.4 291.1,438.9 291.7,437.8 292.6,436.4 293.4,435.2 294.3,434 295.1,433 296,431.9 297.1,430.9 298.1,429.9 299,429.2 300.1,428.4 301.3,427.6 302.4,426.9 303.3,426.3 304.5,425.7 305.6,425.1 306.7,424.5 307.6,424 308.8,423.4 309.9,422.9 311,422.3 312.1,421.7 313.1,421.1 314.2,420.5 315.4,419.8 316.7,419 317.8,418.5 319.1,417.8 320.6,417.2 322,416.7 323.3,416.3 324.9,415.8 326.6,415.4 328.4,415 329.9,414.7 331.9,414.4 333.9,414.1 335.9,414 337.7,413.9 339.9,414 342.2,414.1 344.6,414.3 346.6,414.7 349,415.3 351.4,416.1 353.5,417.2 355.5,418.6 356.9,420 358.4,421.8 359.6,423.9 360.5,426 361,428 361.4,430.3 361.4,432.7 361.3,435.1 361,437 360.5,439.3 359.8,441.5 359,443.7 358.3,445.4 357.2,447.3 356,449.2 354.7,450.9 353.6,452.2 352.1,453.7 350.6,455.1 349.2,456.4 348,457.4 346.6,458.5 345.2,459.5 343.8,460.4 342.4,461.3 341.3,462 340,462.7 338.6,463.4 337.3,464 336.2,464.5 334.9,465 333.6,465.4 332.3,465.8 331.2,466.1 330,466.5 328.8,466.8 327.6,467.2 326.6,467.6 325.4,467.9 324.2,468.2 322.9,468.4 321.9,468.6 320.7,468.9 319.4,469.1 318.1,469.4 317,469.7 315.6,469.9 314.2,470 312.9,469.9 311.5,469.6 310.4,469.3 309.1,468.9 307.8,468.3 306.6,467.7 305.6,467.1 304.5,466.3 303.4,465.5 302.3,464.6 301.4,463.9 300.4,462.9 299.4,461.9 298.5,460.9 297.7,460 296.9,458.9 296,457.8 295.2,456.6 294.5,455.6 293.7,454.4 293,453.1 292.4,451.7 291.9,450.6 291.3,449.2 290.9,447.7 290.5,446.2Z" fill="#8dff6a"/>
<path d="M290.9,444.7 290.8,443.4 290.8,441.9 291.1,440.4 291.7,439 292.5,437.7 293.4,436.4 294.2,435.2 295.1,434 296,432.9 296.9,431.9 297.8,431.1 298.8,430.1 299.9,429.3 301,428.5 302.1,427.8 303.2,427.1 304.3,426.4 305.4,425.8 306.5,425.3 307.6,424.7 308.5,424.3 309.6,423.7 310.7,423.2 311.8,422.6 312.9,422 314,421.3 315.1,420.7 316.3,419.9 317.6,419.2 318.9,418.6 320.1,418.1 321.5,417.6 323,417.1 324.5,416.7 326.2,416.3 327.9,415.9 329.6,415.5 331.5,415.2 333.4,415 335.5,414.9 337.2,414.8 339.3,414.9 341.6,415 343.9,415.3 346.2,415.6 348.6,416.2 350.9,417 352.9,418.2 354.8,419.6 356.4,421.3 357.5,422.8 358.6,424.8 359.4,427 359.9,429.2 360.1,431.6 360,433.9 359.8,436.1 359.5,438.4 359,440.6 358.4,442.7 357.7,444.7 357,446.3 356,448.2 354.8,450 353.5,451.6 352.1,453.1 350.6,454.5 349.1,455.7 347.7,456.9 346.3,458 345,459.1 343.8,459.8 342.5,460.7 341.1,461.5 339.8,462.2 338.5,462.9 337.2,463.5 335.9,464.1 334.6,464.6 333.3,465 332,465.3 331,465.6 329.8,466 328.6,466.4 327.4,466.8 326.2,467.1 325.1,467.5 323.9,467.8 322.7,468 321.4,468.2 320.2,468.4 319.2,468.6 317.9,468.9 316.6,469.2 315.3,469.3 313.9,469.4 312.6,469.2 311.3,468.9 310,468.5 308.7,468 307.5,467.4 306.5,466.9 305.4,466.2 304.3,465.4 303.2,464.6 302.2,463.7 301.2,462.8 300.2,461.8 299.3,460.8 298.4,459.8 297.5,458.7 296.9,457.8 296,456.7 295.2,455.5 294.5,454.3 293.8,453.1 293.1,451.8 292.5,450.5 292,449.1 291.5,447.6 291.2,446.2Z" fill="#97ff60"/>
<path d="M291.6,444.7 291.4,443.2 291.5,441.7 291.9,440.3 292.5,438.9 293.3,437.7 294.1,436.4 295,435.2 295.8,434.1 296.7,433 297.6,432 298.6,431.1 299.6,430.2 300.7,429.4 301.8,428.6 302.8,427.9 303.9,427.3 305,426.7 306.1,426.1 307.2,425.6 308.3,425.1 309.3,424.6 310.4,424 311.5,423.5 312.5,422.9 313.6,422.3 314.7,421.7 315.8,421 317,420.3 318.3,419.6 319.6,419 321,418.5 322.4,418 323.9,417.6 325.4,417.2 327.1,416.9 328.8,416.5 330.5,416.2 332.4,416 334.3,415.8 336.3,415.7 338.4,415.8 340.5,415.9 342.7,416.1 345,416.4 347.4,416.9 349.6,417.7 351.7,418.7 353.5,420 355.1,421.6 356.4,423.5 357.4,425.4 358.1,427.5 358.6,429.7 358.7,432 358.7,434.2 358.5,436.4 358.2,438.6 357.8,440.7 357.3,442.7 356.8,444.7 356,446.6 355.1,448.4 354,450.1 352.7,451.7 351.3,453.2 349.8,454.5 348.4,455.7 347,456.9 345.6,457.9 344.3,458.9 342.9,459.8 341.6,460.7 340.2,461.4 338.9,462.1 337.7,462.8 336.4,463.3 335.1,463.8 333.8,464.3 332.5,464.6 331.3,465 330.1,465.3 329,465.7 327.8,466.1 326.7,466.5 325.5,466.8 324.4,467.1 323.2,467.4 322,467.6 320.8,467.8 319.6,468 318.4,468.3 317.1,468.5 315.8,468.7 314.5,468.8 313.2,468.7 311.9,468.5 310.6,468.1 309.4,467.6 308.2,467.1 307,466.5 305.9,465.8 304.8,465 303.8,464.2 302.8,463.4 301.8,462.5 300.9,461.6 300,460.6 299.1,459.6 298.2,458.6 297.4,457.5 296.6,456.4 295.8,455.3 295.1,454.1 294.4,452.9 293.8,451.6 293.2,450.3 292.6,449 292.2,447.6 291.8,446.2Z" fill="#a4ff53"/>
<path d="M292.2,444.7 292.1,443.3 292.2,441.8 292.5,440.4 293.1,439.1 293.9,437.8 294.8,436.6 295.6,435.5 296.4,434.4 297.2,433.3 298.2,432.3 299.1,431.4 300.1,430.6 301.2,429.8 302.2,429 303.3,428.4 304.3,427.7 305.4,427.2 306.5,426.6 307.5,426.1 308.6,425.6 309.6,425.1 310.7,424.6 311.7,424.1 312.7,423.6 313.8,423 314.8,422.3 315.9,421.6 317.1,420.9 318.3,420.3 319.6,419.7 320.9,419.2 322.3,418.8 323.8,418.4 325.3,418.1 326.8,417.7 328.5,417.4 330.2,417.1 332,416.8 333.9,416.7 335.8,416.6 337.8,416.7 339.9,416.8 342,417 344.2,417.3 346.5,417.8 348.8,418.4 350.8,419.4 352.6,420.7 354.1,422.3 355.3,424.1 356.2,426 356.9,428.1 357.3,430.2 357.4,432.4 357.3,434.6 357.2,436.7 356.9,438.8 356.6,440.8 356.3,442.8 355.8,444.7 355.2,446.6 354.4,448.4 353.4,450.1 352.1,451.6 350.7,453 349.3,454.3 347.8,455.5 346.4,456.6 345.1,457.7 343.8,458.7 342.4,459.5 341.1,460.3 339.8,461.1 338.5,461.7 337.3,462.4 336,462.9 334.7,463.4 333.5,463.8 332.2,464.2 331,464.5 329.9,464.9 328.7,465.2 327.6,465.6 326.5,466 325.4,466.4 324.3,466.7 323.1,466.9 322,467.1 320.8,467.3 319.6,467.5 318.4,467.7 317.2,467.9 315.9,468.1 314.6,468.2 313.3,468.1 312.1,467.9 310.8,467.5 309.6,467.1 308.5,466.5 307.3,465.9 306.2,465.3 305.2,464.5 304.2,463.7 303.2,462.9 302.3,462 301.3,461.1 300.5,460.2 299.6,459.2 298.8,458.2 298,457.2 297.2,456.1 296.4,455 295.7,453.9 295,452.7 294.4,451.5 293.8,450.2 293.3,448.9 292.9,447.5 292.5,446.1Z" fill="#adff49"/>
<path d="M292.9,444.7 292.7,443.3 292.8,441.9 293.1,440.5 293.7,439.2 294.5,438 295.3,436.8 296.1,435.7 296.9,434.6 297.8,433.6 298.7,432.6 299.7,431.8 300.7,430.9 301.7,430.2 302.7,429.5 303.7,428.8 304.8,428.2 305.8,427.7 306.8,427.1 307.9,426.6 308.9,426.1 309.9,425.7 310.9,425.2 311.9,424.7 312.9,424.1 313.9,423.5 315,422.9 316,422.2 317.2,421.5 318.3,420.8 319.6,420.2 320.9,419.7 322.3,419.3 323.7,419 325.1,418.7 326.7,418.4 328.3,418.1 329.9,417.8 331.7,417.6 333.5,417.4 335.4,417.4 337.3,417.4 339.3,417.6 341.4,417.8 343.5,418.1 345.7,418.6 347.9,419.2 349.9,420.2 351.7,421.4 353.2,422.9 354.4,424.6 355.4,426.4 356.2,428.4 356.6,430.5 356.8,432.6 356.8,434.7 356.6,436.8 356.4,438.9 356.1,440.9 355.8,442.8 355.3,444.7 354.8,446.5 354,448.3 353,450 351.7,451.5 350.3,452.9 348.9,454.2 347.4,455.4 346,456.5 344.6,457.5 343.3,458.4 342,459.2 340.7,460 339.4,460.7 338.1,461.4 336.9,462 335.7,462.5 334.4,463 333.2,463.4 332,463.8 330.8,464.1 329.7,464.5 328.6,464.8 327.5,465.2 326.4,465.6 325.3,465.9 324.2,466.2 323,466.4 321.9,466.6 320.8,466.8 319.6,467 318.4,467.2 317.2,467.4 316,467.5 314.7,467.6 313.5,467.5 312.3,467.3 311.1,467 309.9,466.5 308.7,466 307.7,465.4 306.6,464.7 305.6,464 304.6,463.3 303.6,462.4 302.7,461.6 301.8,460.7 300.9,459.8 300.1,458.9 299.3,457.9 298.5,456.9 297.7,455.8 297,454.8 296.3,453.6 295.6,452.5 295,451.3 294.4,450 293.9,448.8 293.5,447.4 293.1,446.1Z" fill="#baff3c"/>
<path d="M293.5,444.7 293.4,443.3 293.4,441.9 293.7,440.6 294.3,439.3 295,438.1 295.8,437 296.6,435.9 297.5,434.8 298.3,433.9 299.2,432.9 300.2,432.1 301.2,431.3 302.2,430.6 303.2,429.9 304.2,429.3 305.2,428.7 306.2,428.2 307.2,427.7 308.2,427.2 309.2,426.7 310.2,426.2 311.2,425.8 312.1,425.2 313.1,424.7 314.1,424.1 315.1,423.4 316.1,422.7 317.2,422 318.4,421.3 319.6,420.7 320.9,420.3 322.2,419.9 323.6,419.6 325,419.3 326.5,419 328,418.8 329.6,418.5 331.3,418.3 333.1,418.2 334.9,418.1 336.8,418.2 338.8,418.3 340.8,418.6 342.8,418.9 345,419.3 347,420 349,420.9 350.7,422.1 352.3,423.5 353.6,425.1 354.7,426.8 355.4,428.7 355.9,430.8 356.2,432.8 356.2,434.9 356.1,436.9 355.9,439 355.6,440.9 355.3,442.8 354.8,444.7 354.3,446.5 353.5,448.3 352.5,449.9 351.3,451.4 350,452.8 348.5,454.1 347,455.2 345.6,456.3 344.2,457.2 342.8,458.1 341.5,458.9 340.2,459.7 338.9,460.4 337.7,461 336.5,461.6 335.3,462.2 334.1,462.6 332.9,463 331.7,463.4 330.6,463.7 329.5,464.1 328.4,464.4 327.3,464.8 326.2,465.2 325.2,465.5 324.1,465.8 323,466 321.9,466.2 320.7,466.4 319.6,466.5 318.4,466.7 317.3,466.9 316.1,467 314.9,467 313.6,467 312.4,466.7 311.3,466.4 310.1,466 309,465.4 308,464.9 306.9,464.2 305.9,463.5 305,462.8 304,462 303.1,461.2 302.3,460.3 301.4,459.4 300.6,458.5 299.8,457.6 299,456.6 298.3,455.6 297.6,454.5 296.9,453.4 296.2,452.3 295.6,451.1 295.1,449.9 294.6,448.7 294.1,447.4 293.8,446.1Z" fill="#c7ff30"/>
<path d="M294.2,444.7 294,443.4 294,442 294.3,440.7 294.8,439.4 295.5,438.2 296.3,437.1 297.2,436.1 298,435.1 298.9,434.1 299.8,433.3 300.7,432.4 301.7,431.7 302.7,431 303.7,430.3 304.6,429.7 305.6,429.2 306.6,428.7 307.6,428.2 308.6,427.7 309.5,427.2 310.5,426.8 311.4,426.3 312.3,425.8 313.3,425.2 314.2,424.6 315.2,423.9 316.2,423.2 317.3,422.5 318.4,421.8 319.6,421.2 320.9,420.8 322.2,420.4 323.5,420.1 324.9,419.9 326.3,419.7 327.8,419.4 329.4,419.2 331,419.1 332.7,418.9 334.5,418.9 336.3,418.9 338.2,419.1 340.1,419.3 342.1,419.7 344.2,420.1 346.2,420.8 348.1,421.6 349.8,422.7 351.4,424 352.8,425.6 353.9,427.2 354.7,429.1 355.3,431 355.5,433 355.6,435 355.6,437.1 355.4,439 355.1,441 354.8,442.9 354.3,444.7 353.8,446.5 353.1,448.2 352.1,449.9 350.9,451.4 349.6,452.7 348.1,454 346.6,455.1 345.1,456.1 343.7,457 342.4,457.8 341,458.6 339.8,459.3 338.5,460 337.3,460.6 336.1,461.2 335,461.8 333.8,462.2 332.6,462.6 331.5,463 330.4,463.3 329.3,463.7 328.2,464 327.2,464.4 326.1,464.7 325.1,465.1 324,465.3 322.9,465.5 321.8,465.7 320.7,465.9 319.6,466 318.5,466.2 317.3,466.4 316.2,466.5 315,466.5 313.8,466.4 312.6,466.2 311.5,465.8 310.4,465.4 309.3,464.9 308.3,464.3 307.3,463.7 306.3,463 305.4,462.3 304.5,461.5 303.6,460.7 302.7,459.9 301.9,459 301.1,458.1 300.3,457.2 299.6,456.3 298.8,455.3 298.1,454.3 297.4,453.2 296.8,452.1 296.2,451 295.7,449.8 295.2,448.6 294.8,447.3 294.4,446Z" fill="#d1ff26"/>
<path d="M294.8,444.7 294.7,443.4 294.7,442.1 294.9,440.8 295.4,439.6 296.1,438.4 296.8,437.3 297.7,436.3 298.5,435.3 299.4,434.4 300.3,433.6 301.3,432.8 302.2,432.1 303.2,431.4 304.1,430.8 305.1,430.2 306.1,429.7 307,429.2 308,428.7 308.9,428.2 309.8,427.8 310.8,427.3 311.7,426.9 312.6,426.4 313.5,425.8 314.4,425.1 315.3,424.5 316.3,423.7 317.3,423 318.4,422.4 319.6,421.8 320.8,421.3 322.1,421 323.4,420.7 324.7,420.5 326.1,420.3 327.6,420.1 329.1,420 330.7,419.8 332.3,419.7 334.1,419.7 335.8,419.7 337.6,419.9 339.5,420.1 341.4,420.5 343.4,420.9 345.3,421.6 347.2,422.4 348.9,423.4 350.5,424.6 351.9,426 353.1,427.6 354,429.4 354.6,431.3 354.9,433.2 355.1,435.2 355,437.2 354.8,439.1 354.6,441 354.2,442.9 353.9,444.7 353.3,446.5 352.6,448.2 351.7,449.8 350.5,451.3 349.2,452.6 347.7,453.8 346.2,454.9 344.7,455.9 343.3,456.8 341.9,457.6 340.6,458.3 339.3,459 338.1,459.7 336.9,460.3 335.8,460.9 334.6,461.4 333.5,461.8 332.4,462.3 331.2,462.6 330.1,462.9 329.1,463.3 328,463.6 327,464 326,464.3 324.9,464.6 323.9,464.9 322.8,465.1 321.8,465.3 320.7,465.4 319.6,465.6 318.5,465.7 317.4,465.8 316.2,465.9 315.1,465.9 313.9,465.8 312.8,465.6 311.7,465.3 310.6,464.8 309.6,464.3 308.6,463.8 307.6,463.2 306.7,462.5 305.8,461.8 304.9,461.1 304,460.3 303.2,459.5 302.4,458.6 301.6,457.8 300.8,456.9 300.1,456 299.4,455 298.7,454 298,453 297.4,451.9 296.8,450.8 296.3,449.7 295.8,448.5 295.4,447.2 295.1,446Z" fill="#deff19"/>
<path d="M295.5,444.7 295.3,443.4 295.3,442.1 295.5,440.9 295.9,439.7 296.6,438.5 297.4,437.5 298.2,436.5 299.1,435.6 300,434.7 300.9,433.9 301.8,433.1 302.7,432.4 303.7,431.8 304.6,431.2 305.6,430.7 306.5,430.2 307.4,429.7 308.3,429.2 309.3,428.8 310.2,428.3 311,427.9 311.9,427.4 312.8,426.9 313.6,426.3 314.5,425.7 315.4,425 316.4,424.3 317.4,423.5 318.5,422.9 319.6,422.3 320.8,421.8 322,421.5 323.3,421.3 324.6,421.1 326,421 327.4,420.8 328.8,420.7 330.4,420.5 332,420.4 333.6,420.4 335.3,420.5 337.1,420.6 338.9,420.9 340.7,421.2 342.6,421.7 344.4,422.3 346.2,423.1 348,424.1 349.6,425.2 351.1,426.5 352.3,428 353.3,429.7 353.9,431.5 354.3,433.4 354.5,435.4 354.5,437.3 354.3,439.2 354.1,441.1 353.7,442.9 353.4,444.7 352.9,446.4 352.2,448.1 351.3,449.7 350.1,451.2 348.8,452.5 347.3,453.7 345.8,454.8 344.3,455.7 342.8,456.5 341.4,457.3 340.1,458 338.8,458.7 337.6,459.3 336.5,459.9 335.4,460.5 334.3,461 333.2,461.5 332.1,461.9 331,462.2 329.9,462.5 328.8,462.8 327.8,463.2 326.8,463.5 325.8,463.9 324.8,464.2 323.8,464.4 322.8,464.6 321.7,464.8 320.7,464.9 319.6,465.1 318.5,465.2 317.4,465.3 316.3,465.4 315.2,465.3 314.1,465.2 313,465 311.9,464.7 310.9,464.3 309.9,463.8 308.9,463.2 307.9,462.6 307,462 306.1,461.3 305.3,460.6 304.4,459.9 303.6,459.1 302.9,458.3 302.1,457.4 301.4,456.5 300.6,455.6 299.9,454.7 299.3,453.8 298.6,452.8 298,451.7 297.4,450.6 296.9,449.5 296.5,448.4 296.1,447.2 295.7,446Z" fill="#e7ff0f"/>
<path d="M296.1,444.7 295.9,443.5 295.9,442.2 296.1,441 296.5,439.8 297.1,438.7 297.9,437.6 298.7,436.7 299.6,435.8 300.5,435 301.4,434.2 302.3,433.5 303.2,432.8 304.2,432.2 305.1,431.6 306,431.1 306.9,430.6 307.8,430.2 308.7,429.7 309.6,429.3 310.5,428.9 311.3,428.5 312.2,428 313,427.5 313.8,426.9 314.6,426.2 315.5,425.5 316.4,424.8 317.4,424.1 318.5,423.4 319.6,422.8 320.8,422.4 322,422.1 323.2,421.9 324.5,421.8 325.8,421.6 327.1,421.5 328.5,421.4 330,421.3 331.6,421.2 333.2,421.2 334.8,421.2 336.5,421.4 338.3,421.6 340,422 341.8,422.5 343.6,423.1 345.3,423.9 347.1,424.7 348.7,425.8 350.2,427 351.5,428.4 352.5,430 353.3,431.8 353.7,433.6 353.9,435.5 353.9,437.4 353.8,439.3 353.5,441.1 353.2,442.9 352.9,444.7 352.4,446.4 351.7,448.1 350.9,449.7 349.7,451.1 348.4,452.4 346.9,453.6 345.4,454.6 343.9,455.5 342.4,456.3 341,457 339.6,457.7 338.4,458.4 337.2,459 336.1,459.5 335,460.1 333.9,460.6 332.9,461.1 331.8,461.5 330.7,461.8 329.7,462.1 328.6,462.4 327.6,462.8 326.7,463.1 325.7,463.4 324.7,463.7 323.7,464 322.7,464.2 321.7,464.3 320.6,464.5 319.6,464.6 318.6,464.7 317.5,464.8 316.4,464.8 315.3,464.8 314.3,464.7 313.2,464.5 312.1,464.1 311.1,463.7 310.1,463.3 309.2,462.7 308.3,462.1 307.4,461.5 306.5,460.8 305.7,460.1 304.9,459.4 304.1,458.7 303.3,457.9 302.6,457.1 301.9,456.2 301.2,455.3 300.5,454.4 299.8,453.5 299.2,452.5 298.6,451.5 298.1,450.5 297.5,449.4 297.1,448.3 296.7,447.1 296.4,445.9Z" fill="#f4f802"/>
<path d="M296.8,444.7 296.6,443.5 296.5,442.3 296.7,441.1 297,439.9 297.6,438.8 298.4,437.8 299.3,436.9 300.1,436 301,435.2 301.9,434.5 302.8,433.8 303.8,433.2 304.7,432.6 305.6,432.1 306.5,431.6 307.4,431.1 308.2,430.7 309.1,430.2 309.9,429.8 310.8,429.4 311.6,429 312.4,428.6 313.2,428 314,427.4 314.8,426.8 315.6,426.1 316.5,425.3 317.5,424.6 318.5,423.9 319.6,423.3 320.7,422.9 321.9,422.6 323.1,422.5 324.3,422.4 325.6,422.3 326.9,422.2 328.3,422.1 329.7,422 331.2,422 332.7,421.9 334.3,422 336,422.2 337.6,422.4 339.3,422.8 341,423.3 342.7,423.9 344.4,424.6 346.2,425.4 347.9,426.4 349.4,427.5 350.7,428.8 351.8,430.4 352.6,432 353.1,433.8 353.3,435.7 353.4,437.5 353.3,439.4 353,441.2 352.7,443 352.4,444.7 351.9,446.4 351.3,448 350.4,449.6 349.4,451 348,452.3 346.6,453.5 345,454.4 343.4,455.3 341.9,456.1 340.5,456.8 339.2,457.4 337.9,458 336.8,458.6 335.7,459.2 334.6,459.7 333.6,460.2 332.5,460.7 331.5,461.1 330.5,461.4 329.4,461.7 328.4,462 327.5,462.4 326.5,462.7 325.5,463 324.6,463.3 323.6,463.5 322.6,463.7 321.6,463.9 320.6,464 319.6,464.1 318.6,464.2 317.5,464.2 316.5,464.3 315.5,464.2 314.4,464.1 313.4,463.9 312.4,463.6 311.4,463.2 310.4,462.7 309.5,462.2 308.6,461.6 307.8,461 306.9,460.3 306.1,459.7 305.3,459 304.6,458.2 303.8,457.5 303.1,456.7 302.4,455.9 301.7,455 301,454.2 300.4,453.3 299.8,452.3 299.2,451.3 298.7,450.3 298.2,449.3 297.7,448.2 297.3,447 297,445.9Z" fill="#feed00"/>
<path d="M297.4,444.7 297.2,443.5 297.2,442.3 297.3,441.2 297.6,440 298.2,439 298.9,438 299.8,437.1 300.7,436.3 301.6,435.5 302.5,434.8 303.4,434.2 304.3,433.6 305.2,433 306.1,432.5 306.9,432 307.8,431.6 308.6,431.2 309.5,430.8 310.3,430.4 311.1,430 311.9,429.6 312.7,429.1 313.4,428.6 314.2,428 314.9,427.3 315.7,426.6 316.6,425.8 317.5,425.1 318.5,424.4 319.6,423.9 320.7,423.4 321.9,423.2 323,423 324.2,423 325.4,423 326.7,422.9 328,422.8 329.4,422.8 330.8,422.7 332.3,422.7 333.8,422.8 335.4,422.9 337,423.2 338.6,423.6 340.2,424.1 341.8,424.7 343.5,425.3 345.2,426.1 347,426.9 348.6,428 350,429.2 351.1,430.7 351.9,432.3 352.5,434 352.8,435.8 352.8,437.6 352.7,439.5 352.5,441.2 352.2,443 351.9,444.7 351.4,446.4 350.8,448 350,449.5 349,450.9 347.7,452.2 346.2,453.3 344.6,454.3 343,455.1 341.5,455.8 340,456.5 338.7,457.1 337.5,457.7 336.3,458.3 335.3,458.8 334.2,459.3 333.2,459.8 332.2,460.3 331.2,460.7 330.2,461 329.2,461.3 328.2,461.6 327.3,462 326.3,462.3 325.4,462.6 324.5,462.9 323.5,463.1 322.5,463.3 321.6,463.4 320.6,463.5 319.6,463.6 318.6,463.7 317.6,463.7 316.6,463.7 315.6,463.7 314.6,463.5 313.6,463.3 312.6,463 311.6,462.6 310.7,462.2 309.8,461.6 309,461.1 308.1,460.5 307.3,459.9 306.5,459.2 305.8,458.5 305,457.8 304.3,457.1 303.6,456.3 302.9,455.5 302.2,454.7 301.6,453.9 301,453 300.4,452.1 299.8,451.1 299.3,450.1 298.8,449.1 298.4,448.1 298,447 297.7,445.8Z" fill="#ffde00"/>
<path d="M298,444.7 297.9,443.6 297.8,442.4 297.9,441.3 298.2,440.2 298.7,439.1 299.4,438.1 300.2,437.3 301,436.4 301.8,435.7 302.7,434.9 303.5,434.3 304.4,433.7 305.3,433.1 306.1,432.6 307,432.1 307.9,431.7 308.7,431.2 309.5,430.8 310.3,430.4 311.2,430.1 311.9,429.7 312.7,429.2 313.5,428.7 314.2,428.2 315,427.6 315.8,426.9 316.7,426.2 317.6,425.6 318.6,424.9 319.6,424.4 320.7,424 321.8,423.8 322.9,423.6 324.1,423.6 325.3,423.6 326.5,423.5 327.8,423.5 329.1,423.4 330.5,423.4 331.9,423.4 333.4,423.5 334.9,423.6 336.4,423.9 338,424.3 339.5,424.8 341,425.4 342.6,426 344.3,426.8 345.9,427.6 347.4,428.6 348.7,429.9 349.8,431.3 350.6,432.8 351.1,434.5 351.4,436.2 351.5,437.9 351.5,439.7 351.3,441.4 351,443.1 350.7,444.7 350.2,446.3 349.7,447.9 348.9,449.3 347.9,450.7 346.7,452 345.3,453 343.8,454 342.3,454.8 340.8,455.5 339.5,456.2 338.2,456.8 337,457.4 335.9,457.9 334.9,458.5 333.9,459 332.9,459.4 331.9,459.9 330.9,460.3 329.9,460.6 328.9,460.9 328,461.2 327.1,461.5 326.1,461.7 325.2,462 324.3,462.3 323.4,462.5 322.4,462.6 321.5,462.8 320.6,462.8 319.6,462.9 318.6,462.9 317.7,463 316.7,462.9 315.7,462.9 314.8,462.7 313.8,462.5 312.9,462.3 311.9,461.9 311.1,461.5 310.2,461 309.4,460.5 308.5,459.9 307.7,459.3 307,458.7 306.2,458.1 305.4,457.4 304.7,456.7 304,456 303.3,455.3 302.6,454.5 302,453.7 301.4,452.8 300.8,451.9 300.2,451 299.7,450 299.3,449 298.9,448 298.5,446.9 298.2,445.8Z" fill="#ffd300"/>
<path d="M298.6,444.7 298.5,443.6 298.4,442.5 298.5,441.4 298.8,440.3 299.3,439.3 299.9,438.3 300.6,437.4 301.3,436.6 302.1,435.8 302.9,435.1 303.7,434.4 304.5,433.8 305.4,433.2 306.2,432.7 307.1,432.2 307.9,431.7 308.8,431.3 309.6,430.9 310.4,430.5 311.2,430.2 312,429.8 312.8,429.3 313.5,428.9 314.3,428.4 315.1,427.8 315.9,427.2 316.7,426.6 317.6,426 318.6,425.5 319.6,425 320.7,424.6 321.7,424.4 322.8,424.3 324,424.2 325.1,424.2 326.3,424.1 327.5,424.1 328.8,424 330.1,424 331.5,424.1 332.9,424.2 334.4,424.4 335.8,424.7 337.3,425 338.8,425.5 340.3,426.1 341.8,426.7 343.3,427.5 344.9,428.3 346.3,429.3 347.5,430.5 348.5,431.8 349.3,433.3 349.8,434.9 350.1,436.5 350.2,438.2 350.2,439.9 350,441.5 349.8,443.1 349.5,444.7 349.1,446.2 348.5,447.7 347.8,449.2 346.8,450.5 345.7,451.7 344.4,452.7 343,453.7 341.6,454.5 340.2,455.2 338.9,455.9 337.7,456.5 336.6,457 335.5,457.6 334.5,458.1 333.5,458.6 332.5,459.1 331.6,459.5 330.6,459.8 329.6,460.1 328.7,460.4 327.7,460.7 326.8,461 325.9,461.2 325,461.5 324.1,461.7 323.2,461.9 322.3,462 321.4,462.1 320.5,462.1 319.6,462.2 318.7,462.2 317.8,462.2 316.8,462.2 315.9,462.1 315,462 314.1,461.8 313.1,461.5 312.3,461.2 311.4,460.8 310.6,460.3 309.8,459.9 309,459.3 308.2,458.8 307.4,458.3 306.6,457.7 305.9,457.1 305.1,456.4 304.4,455.7 303.7,455 303,454.3 302.4,453.5 301.8,452.6 301.2,451.8 300.7,450.8 300.2,449.9 299.8,448.9 299.4,447.9 299.1,446.9 298.8,445.8Z" fill="#ffc400"/>
<path d="M299.2,444.7 299.1,443.6 299.1,442.5 299.1,441.5 299.4,440.4 299.8,439.4 300.4,438.5 301,437.6 301.7,436.7 302.4,435.9 303.1,435.2 303.9,434.5 304.7,433.9 305.5,433.3 306.3,432.7 307.2,432.3 308,431.8 308.8,431.4 309.6,431 310.4,430.6 311.2,430.2 312,429.9 312.8,429.5 313.6,429 314.4,428.6 315.1,428.1 315.9,427.5 316.8,427 317.7,426.4 318.6,426 319.6,425.6 320.6,425.2 321.7,425 322.7,424.9 323.8,424.8 324.9,424.8 326.1,424.7 327.3,424.7 328.5,424.7 329.8,424.7 331.1,424.8 332.4,424.9 333.8,425.1 335.2,425.4 336.7,425.8 338.1,426.2 339.5,426.8 340.9,427.4 342.4,428.1 343.8,429 345.1,430 346.3,431.1 347.2,432.4 347.9,433.8 348.5,435.3 348.8,436.9 348.9,438.5 348.9,440.1 348.8,441.6 348.6,443.2 348.3,444.7 347.9,446.2 347.3,447.6 346.6,449 345.7,450.3 344.7,451.4 343.5,452.5 342.2,453.4 340.9,454.2 339.6,454.9 338.4,455.5 337.2,456.2 336.1,456.7 335.1,457.3 334.1,457.8 333.1,458.2 332.2,458.7 331.2,459 330.3,459.4 329.3,459.7 328.4,460 327.5,460.2 326.6,460.5 325.7,460.7 324.9,460.9 324,461.1 323.1,461.2 322.2,461.3 321.4,461.4 320.5,461.5 319.6,461.5 318.7,461.5 317.8,461.4 317,461.4 316.1,461.3 315.2,461.2 314.3,461 313.4,460.8 312.6,460.4 311.8,460.1 311,459.7 310.2,459.2 309.4,458.8 308.6,458.3 307.8,457.8 307.1,457.2 306.3,456.7 305.6,456.1 304.8,455.4 304.1,454.7 303.4,454 302.8,453.3 302.2,452.5 301.6,451.6 301.1,450.7 300.6,449.8 300.2,448.8 299.9,447.8 299.6,446.8 299.4,445.8Z" fill="#ffb600"/>
<path d="M299.8,444.7 299.7,443.7 299.7,442.6 299.8,441.6 300,440.5 300.4,439.5 300.9,438.6 301.4,437.7 302,436.9 302.6,436.1 303.3,435.3 304,434.6 304.8,434 305.6,433.4 306.4,432.8 307.2,432.3 308.1,431.9 308.9,431.5 309.7,431.1 310.5,430.7 311.3,430.3 312.1,429.9 312.9,429.6 313.6,429.2 314.4,428.8 315.2,428.3 316,427.8 316.9,427.4 317.7,426.9 318.6,426.5 319.6,426.1 320.6,425.8 321.6,425.6 322.6,425.5 323.7,425.4 324.8,425.4 325.9,425.3 327,425.3 328.2,425.3 329.4,425.4 330.7,425.5 332,425.6 333.3,425.8 334.6,426.1 336,426.5 337.4,426.9 338.7,427.5 340.1,428.1 341.4,428.8 342.7,429.7 344,430.6 345,431.7 345.9,433 346.6,434.3 347.1,435.8 347.5,437.2 347.6,438.7 347.6,440.3 347.6,441.8 347.4,443.2 347.1,444.7 346.7,446.1 346.2,447.5 345.5,448.8 344.7,450 343.7,451.1 342.6,452.2 341.4,453.1 340.2,453.9 339,454.6 337.8,455.2 336.7,455.8 335.7,456.4 334.7,456.9 333.7,457.4 332.8,457.9 331.8,458.3 330.9,458.6 330,458.9 329,459.2 328.1,459.5 327.3,459.7 326.4,460 325.5,460.2 324.7,460.4 323.8,460.5 323,460.6 322.1,460.7 321.3,460.8 320.4,460.8 319.6,460.7 318.8,460.7 317.9,460.7 317.1,460.6 316.2,460.6 315.4,460.4 314.5,460.3 313.7,460 312.9,459.7 312.1,459.4 311.3,459 310.6,458.6 309.8,458.2 309,457.8 308.3,457.3 307.5,456.8 306.8,456.3 306,455.7 305.3,455.1 304.5,454.5 303.8,453.8 303.2,453.1 302.6,452.3 302.1,451.4 301.6,450.6 301.1,449.7 300.7,448.7 300.4,447.7 300.1,446.7 299.9,445.7Z" fill="#ffab00"/>
<path d="M300.4,444.7 300.3,443.7 300.3,442.7 300.4,441.7 300.6,440.7 300.9,439.7 301.3,438.8 301.8,437.9 302.3,437 302.9,436.2 303.5,435.4 304.2,434.7 304.9,434.1 305.7,433.5 306.5,432.9 307.3,432.4 308.1,432 308.9,431.5 309.7,431.1 310.5,430.8 311.3,430.4 312.1,430 312.9,429.7 313.7,429.3 314.5,428.9 315.3,428.6 316.1,428.1 316.9,427.7 317.8,427.3 318.7,427 319.6,426.7 320.6,426.4 321.5,426.2 322.5,426.1 323.6,426 324.6,426 325.7,425.9 326.8,425.9 327.9,426 329.1,426 330.3,426.2 331.5,426.3 332.8,426.6 334.1,426.9 335.3,427.2 336.6,427.7 337.9,428.2 339.2,428.8 340.5,429.5 341.7,430.4 342.8,431.3 343.8,432.4 344.6,433.6 345.3,434.8 345.8,436.2 346.1,437.6 346.3,439 346.4,440.5 346.3,441.9 346.2,443.3 345.9,444.7 345.5,446.1 345,447.4 344.4,448.6 343.6,449.8 342.7,450.9 341.7,451.9 340.6,452.8 339.5,453.5 338.4,454.3 337.3,454.9 336.3,455.5 335.2,456.1 334.3,456.6 333.3,457.1 332.4,457.5 331.5,457.9 330.5,458.2 329.6,458.5 328.8,458.8 327.9,459 327,459.3 326.2,459.5 325.3,459.6 324.5,459.8 323.7,459.9 322.9,460 322,460.1 321.2,460.1 320.4,460.1 319.6,460 318.8,460 318,459.9 317.2,459.9 316.4,459.8 315.6,459.7 314.8,459.5 314,459.3 313.2,459 312.5,458.7 311.7,458.4 311,458 310.2,457.6 309.4,457.2 308.7,456.8 307.9,456.4 307.2,455.9 306.4,455.4 305.7,454.8 304.9,454.2 304.2,453.6 303.6,452.9 303,452.1 302.5,451.3 302,450.4 301.6,449.5 301.2,448.6 300.9,447.7 300.7,446.7 300.5,445.7Z" fill="#ff9c00"/>
<path d="M301,444.7 300.9,443.7 300.9,442.7 301,441.8 301.2,440.8 301.5,439.8 301.8,438.9 302.2,438 302.7,437.2 303.2,436.3 303.7,435.5 304.4,434.8 305.1,434.2 305.8,433.5 306.6,433 307.4,432.5 308.2,432 309,431.6 309.8,431.2 310.6,430.8 311.4,430.5 312.2,430.1 313,429.8 313.8,429.5 314.5,429.1 315.3,428.8 316.1,428.5 317,428.1 317.8,427.8 318.7,427.5 319.6,427.2 320.5,427 321.5,426.9 322.4,426.7 323.4,426.6 324.5,426.6 325.5,426.6 326.6,426.6 327.7,426.6 328.8,426.7 329.9,426.9 331.1,427.1 332.2,427.3 333.5,427.6 334.7,427.9 335.9,428.4 337.2,428.9 338.4,429.5 339.5,430.2 340.6,431 341.7,432 342.6,433 343.3,434.1 344,435.3 344.4,436.6 344.8,437.9 345,439.3 345.1,440.7 345.1,442 345,443.4 344.7,444.7 344.4,446 343.9,447.3 343.2,448.4 342.5,449.6 341.7,450.6 340.8,451.6 339.8,452.4 338.8,453.2 337.8,454 336.8,454.6 335.8,455.2 334.8,455.7 333.9,456.2 332.9,456.7 332,457.1 331.1,457.5 330.2,457.8 329.3,458.1 328.5,458.3 327.6,458.6 326.8,458.8 326,459 325.1,459.1 324.3,459.2 323.5,459.3 322.7,459.4 321.9,459.4 321.1,459.4 320.4,459.4 319.6,459.3 318.8,459.2 318.1,459.2 317.3,459.1 316.6,459 315.8,458.9 315,458.7 314.3,458.5 313.6,458.3 312.8,458 312.1,457.7 311.4,457.4 310.6,457.1 309.9,456.7 309.1,456.3 308.4,455.9 307.6,455.5 306.9,455 306.1,454.5 305.3,454 304.6,453.3 304,452.6 303.4,451.9 302.9,451.1 302.4,450.3 302,449.4 301.7,448.5 301.4,447.6 301.2,446.6 301.1,445.7Z" fill="#ff9100"/>
<path d="M301.6,444.7 301.6,443.8 301.6,442.8 301.7,441.9 301.8,440.9 302,440 302.3,439.1 302.6,438.2 303,437.3 303.4,436.5 304,435.7 304.5,434.9 305.2,434.2 305.9,433.6 306.7,433.1 307.5,432.6 308.3,432.1 309.1,431.7 309.9,431.3 310.6,430.9 311.4,430.6 312.2,430.2 313,429.9 313.8,429.6 314.6,429.3 315.4,429.1 316.2,428.8 317,428.5 317.9,428.2 318.7,428 319.6,427.8 320.5,427.6 321.4,427.5 322.4,427.3 323.3,427.2 324.3,427.2 325.3,427.2 326.3,427.2 327.4,427.3 328.4,427.4 329.5,427.6 330.6,427.8 331.7,428 332.9,428.3 334,428.7 335.2,429.1 336.4,429.6 337.5,430.2 338.6,430.9 339.6,431.7 340.5,432.6 341.4,433.6 342.1,434.7 342.6,435.9 343.1,437.1 343.5,438.3 343.7,439.6 343.8,440.9 343.9,442.1 343.8,443.4 343.5,444.7 343.2,445.9 342.7,447.1 342.1,448.3 341.4,449.3 340.7,450.3 339.8,451.3 339,452.1 338.1,452.9 337.1,453.6 336.2,454.3 335.3,454.9 334.4,455.4 333.4,455.9 332.5,456.4 331.6,456.7 330.8,457.1 329.9,457.4 329,457.6 328.2,457.9 327.3,458.1 326.5,458.3 325.7,458.5 324.9,458.6 324.1,458.7 323.4,458.7 322.6,458.8 321.8,458.8 321.1,458.8 320.3,458.7 319.6,458.6 318.9,458.5 318.2,458.4 317.4,458.3 316.7,458.2 316,458.1 315.3,458 314.6,457.8 313.9,457.5 313.2,457.3 312.5,457 311.7,456.8 311,456.5 310.3,456.2 309.6,455.8 308.8,455.5 308.1,455.1 307.3,454.7 306.5,454.2 305.7,453.7 305,453.1 304.4,452.4 303.8,451.7 303.3,450.9 302.9,450.1 302.5,449.3 302.2,448.4 301.9,447.5 301.8,446.6 301.6,445.6Z" fill="#ff8200"/>
<path d="M302.2,444.7 302.2,443.8 302.2,442.9 302.3,442 302.4,441 302.6,440.1 302.8,439.2 303,438.3 303.3,437.5 303.7,436.6 304.2,435.8 304.7,435 305.3,434.3 306,433.7 306.8,433.2 307.5,432.6 308.3,432.2 309.1,431.7 309.9,431.4 310.7,431 311.5,430.6 312.3,430.3 313.1,430 313.9,429.8 314.7,429.5 315.5,429.3 316.3,429.1 317.1,428.9 317.9,428.7 318.8,428.5 319.6,428.4 320.5,428.2 321.3,428.1 322.3,427.9 323.2,427.8 324.1,427.8 325.1,427.8 326.1,427.8 327.1,427.9 328.1,428.1 329.1,428.3 330.1,428.5 331.2,428.8 332.3,429.1 333.4,429.4 334.5,429.8 335.6,430.3 336.6,430.9 337.6,431.6 338.5,432.4 339.4,433.3 340.1,434.2 340.8,435.3 341.3,436.4 341.8,437.5 342.1,438.7 342.4,439.9 342.6,441.1 342.6,442.3 342.6,443.5 342.4,444.7 342,445.9 341.5,447 341,448.1 340.4,449.1 339.7,450.1 338.9,451 338.2,451.8 337.4,452.6 336.5,453.3 335.7,454 334.8,454.6 333.9,455.1 333,455.6 332.2,456 331.3,456.4 330.4,456.7 329.5,457 328.7,457.2 327.9,457.4 327.1,457.7 326.3,457.8 325.5,458 324.7,458.1 324,458.1 323.2,458.2 322.5,458.2 321.7,458.1 321,458.1 320.3,458 319.6,457.9 318.9,457.8 318.2,457.7 317.6,457.6 316.9,457.5 316.2,457.4 315.5,457.2 314.9,457 314.2,456.8 313.5,456.6 312.8,456.4 312.1,456.2 311.4,455.9 310.7,455.7 310,455.4 309.3,455 308.5,454.7 307.7,454.3 306.9,453.9 306.1,453.4 305.4,452.9 304.8,452.2 304.3,451.5 303.8,450.8 303.3,450 302.9,449.2 302.6,448.3 302.4,447.4 302.3,446.5 302.2,445.6Z" fill="#ff7700"/>
<path d="M302.6,444.7 302.6,443.8 302.7,442.9 302.8,442 303,441.2 303.2,440.3 303.5,439.5 303.8,438.6 304.2,437.8 304.6,437.1 305,436.3 305.6,435.6 306.1,434.9 306.8,434.3 307.5,433.8 308.2,433.3 308.9,432.8 309.7,432.4 310.4,432.1 311.2,431.7 311.9,431.4 312.6,431 313.4,430.7 314.1,430.5 314.9,430.2 315.7,430 316.4,429.8 317.2,429.5 318,429.3 318.8,429.1 319.6,428.9 320.4,428.8 321.3,428.7 322.2,428.6 323,428.5 323.9,428.5 324.9,428.5 325.8,428.6 326.7,428.7 327.7,428.9 328.6,429.1 329.6,429.4 330.5,429.7 331.5,430 332.6,430.3 333.8,430.5 334.9,430.9 336,431.5 336.9,432.1 337.9,432.8 338.7,433.7 339.4,434.6 340.1,435.6 340.6,436.6 341,437.7 341.4,438.9 341.6,440 341.8,441.2 341.8,442.4 341.8,443.5 341.6,444.7 341.2,445.8 340.7,446.9 340.2,448 339.6,448.9 338.9,449.9 338.1,450.7 337.3,451.5 336.5,452.2 335.6,452.9 334.8,453.4 333.9,454 333,454.5 332.2,454.9 331.4,455.3 330.6,455.7 329.8,456 329,456.3 328.2,456.5 327.4,456.8 326.7,457 326,457.2 325.2,457.3 324.5,457.5 323.8,457.6 323.1,457.6 322.4,457.7 321.7,457.7 321,457.7 320.3,457.7 319.6,457.6 318.9,457.5 318.3,457.4 317.6,457.3 317,457.2 316.3,457 315.6,456.9 315,456.7 314.4,456.5 313.7,456.2 313.1,456 312.4,455.8 311.7,455.6 311,455.3 310.3,455 309.6,454.7 308.8,454.4 308,454.1 307.2,453.7 306.5,453.2 305.7,452.7 305.1,452.1 304.6,451.4 304.1,450.7 303.6,449.9 303.3,449.1 303,448.2 302.8,447.4 302.7,446.5 302.6,445.6Z" fill="#ff6800"/>
<path d="M303.1,444.7 303.2,443.8 303.3,443 303.5,442.1 303.7,441.3 304,440.5 304.3,439.7 304.7,439 305.2,438.3 305.6,437.6 306,436.9 306.5,436.2 307.1,435.6 307.7,435 308.3,434.5 309,434.1 309.6,433.6 310.3,433.2 311,432.9 311.7,432.5 312.4,432.2 313.1,431.9 313.8,431.6 314.5,431.3 315.2,431 315.9,430.8 316.6,430.6 317.3,430.3 318.1,430.1 318.8,429.8 319.6,429.6 320.4,429.5 321.2,429.3 322,429.3 322.9,429.3 323.7,429.3 324.6,429.4 325.4,429.5 326.3,429.7 327.2,429.9 328,430.1 328.9,430.4 329.8,430.7 330.7,431 331.7,431.3 333,431.3 334.1,431.6 335.2,432.1 336.2,432.7 337.1,433.3 338,434.1 338.6,435 339.2,436 339.7,437 340.1,438 340.5,439.1 340.7,440.2 340.9,441.3 340.9,442.5 340.8,443.6 340.6,444.7 340.3,445.8 339.8,446.8 339.3,447.8 338.7,448.8 337.9,449.6 337.2,450.4 336.3,451.1 335.5,451.8 334.6,452.4 333.7,452.8 332.8,453.3 332,453.7 331.3,454.2 330.6,454.6 329.8,454.9 329.1,455.2 328.4,455.5 327.6,455.8 326.9,456 326.3,456.2 325.6,456.4 324.9,456.6 324.2,456.8 323.6,456.9 322.9,457 322.2,457.1 321.6,457.2 320.9,457.2 320.3,457.3 319.6,457.3 318.9,457.2 318.3,457.1 317.7,456.9 317,456.8 316.4,456.7 315.8,456.5 315.2,456.3 314.6,456 313.9,455.8 313.3,455.6 312.6,455.4 312,455.2 311.3,454.9 310.7,454.6 310,454.3 309.2,454.1 308.4,453.8 307.6,453.4 306.8,453 306.1,452.5 305.5,451.9 304.9,451.2 304.4,450.5 304,449.8 303.7,449 303.5,448.1 303.3,447.3 303.2,446.4 303.1,445.6Z" fill="#ff5d00"/>
<path d="M303.7,444.7 303.7,443.9 303.9,443 304.1,442.2 304.4,441.5 304.8,440.7 305.2,440 305.7,439.4 306.2,438.7 306.7,438.1 307.1,437.5 307.6,436.9 308.1,436.3 308.6,435.8 309.2,435.3 309.8,434.9 310.4,434.5 311,434.1 311.6,433.7 312.3,433.4 312.9,433.1 313.5,432.8 314.1,432.5 314.8,432.2 315.4,431.9 316.1,431.7 316.8,431.4 317.5,431.1 318.1,430.8 318.9,430.6 319.6,430.4 320.4,430.2 321.1,430.1 321.9,430.1 322.7,430.1 323.5,430.2 324.3,430.3 325.1,430.5 325.8,430.7 326.6,430.9 327.4,431.2 328.2,431.5 329,431.8 329.8,432.1 330.7,432.3 332.1,432.2 333.3,432.4 334.3,432.8 335.3,433.3 336.3,433.8 337.2,434.6 337.8,435.4 338.3,436.4 338.8,437.3 339.2,438.3 339.5,439.4 339.7,440.4 339.9,441.5 339.9,442.6 339.9,443.6 339.7,444.7 339.3,445.7 338.9,446.7 338.3,447.7 337.7,448.5 336.9,449.3 336.1,450.1 335.3,450.7 334.5,451.3 333.5,451.8 332.6,452.2 331.7,452.5 330.9,452.9 330.3,453.3 329.6,453.7 329,454.1 328.3,454.4 327.7,454.7 327,455 326.4,455.2 325.8,455.4 325.2,455.6 324.6,455.8 323.9,456 323.3,456.2 322.7,456.3 322.1,456.5 321.5,456.6 320.9,456.7 320.2,456.8 319.6,456.9 319,456.9 318.3,456.7 317.7,456.6 317.1,456.4 316.5,456.3 315.9,456.1 315.3,455.8 314.8,455.6 314.2,455.4 313.5,455.2 312.9,455 312.3,454.8 311.7,454.5 311,454.2 310.3,454 309.6,453.7 308.8,453.5 308,453.2 307.2,452.8 306.5,452.3 305.9,451.7 305.3,451.1 304.8,450.4 304.4,449.6 304.1,448.8 303.9,448 303.8,447.2 303.7,446.4 303.7,445.5Z" fill="#ff4e00"/>
<path d="M304.3,444.7 304.3,443.9 304.5,443.1 304.8,442.4 305.2,441.6 305.6,441 306.2,440.3 306.7,439.8 307.3,439.2 307.8,438.7 308.2,438.1 308.6,437.6 309.1,437 309.6,436.6 310.1,436.1 310.6,435.7 311.1,435.3 311.7,435 312.3,434.6 312.9,434.3 313.4,434 314,433.7 314.6,433.4 315.1,433.1 315.7,432.8 316.3,432.5 317,432.3 317.6,432 318.2,431.7 318.9,431.4 319.6,431.1 320.3,430.9 321.1,430.8 321.8,430.9 322.5,431 323.2,431.1 324,431.3 324.7,431.5 325.4,431.7 326.1,432 326.8,432.3 327.5,432.6 328.2,432.9 328.9,433.3 329.7,433.4 331.1,433.2 332.4,433.2 333.4,433.5 334.5,433.9 335.5,434.4 336.3,435 336.9,435.9 337.4,436.8 337.9,437.7 338.2,438.6 338.5,439.6 338.7,440.6 338.9,441.6 338.9,442.7 338.9,443.7 338.7,444.7 338.3,445.7 337.8,446.6 337.3,447.5 336.7,448.3 335.9,449.1 335.1,449.7 334.2,450.3 333.4,450.8 332.4,451.2 331.4,451.5 330.5,451.8 329.8,452.1 329.2,452.5 328.7,452.9 328.1,453.2 327.6,453.5 327,453.8 326.4,454.1 325.9,454.4 325.3,454.6 324.7,454.8 324.2,455 323.7,455.3 323.1,455.5 322.5,455.7 322,455.8 321.4,456.1 320.8,456.2 320.2,456.4 319.6,456.5 319,456.5 318.4,456.4 317.8,456.2 317.2,456 316.6,455.9 316,455.6 315.5,455.4 315,455.1 314.4,454.9 313.8,454.7 313.2,454.5 312.6,454.3 312,454.1 311.4,453.8 310.7,453.6 310,453.4 309.2,453.1 308.4,452.9 307.6,452.5 306.9,452 306.3,451.5 305.7,450.9 305.2,450.2 304.9,449.5 304.6,448.7 304.4,447.9 304.3,447.1 304.2,446.3 304.2,445.5Z" fill="#ff3f00"/>
<path d="M304.8,444.7 304.9,443.9 305.1,443.2 305.5,442.5 306,441.8 306.5,441.2 307.1,440.6 307.7,440.2 308.4,439.7 309,439.3 309.4,438.8 309.7,438.3 310.1,437.8 310.5,437.4 311,436.9 311.5,436.6 311.9,436.2 312.4,435.9 313,435.5 313.5,435.3 314,435 314.5,434.7 315,434.3 315.5,434 316,433.7 316.6,433.4 317.1,433.2 317.7,432.9 318.3,432.5 318.9,432.2 319.6,431.9 320.3,431.6 321,431.6 321.7,431.7 322.3,431.9 323,432.1 323.6,432.3 324.3,432.5 324.9,432.8 325.5,433.1 326.1,433.4 326.7,433.7 327.3,434.1 327.9,434.4 328.7,434.6 330.2,434.1 331.5,434 332.6,434.2 333.6,434.5 334.6,434.9 335.5,435.5 336,436.3 336.5,437.2 336.9,438.1 337.2,439 337.5,439.9 337.7,440.8 337.8,441.8 337.9,442.8 337.8,443.7 337.6,444.7 337.3,445.6 336.8,446.5 336.3,447.3 335.7,448.1 334.9,448.8 334,449.4 333.1,449.9 332.2,450.3 331.2,450.6 330.2,450.8 329.3,451 328.6,451.3 328.2,451.6 327.7,452 327.3,452.4 326.8,452.7 326.3,453 325.8,453.2 325.3,453.5 324.8,453.7 324.3,453.9 323.8,454.2 323.3,454.5 322.9,454.7 322.3,454.9 321.8,455.2 321.3,455.5 320.8,455.7 320.2,456 319.6,456.2 319,456.2 318.4,456 317.8,455.8 317.3,455.6 316.7,455.4 316.2,455.2 315.7,454.9 315.2,454.6 314.6,454.5 314.1,454.3 313.5,454.1 312.9,453.9 312.4,453.6 311.8,453.3 311.2,453.1 310.4,453 309.6,452.8 308.8,452.6 308,452.3 307.3,451.8 306.7,451.3 306.1,450.7 305.6,450.1 305.3,449.4 305.1,448.6 304.9,447.8 304.8,447 304.8,446.3 304.8,445.5Z" fill="#ff3400"/>
<path d="M305.4,444.7 305.6,444 305.8,443.2 306.3,442.6 306.8,442 307.4,441.4 308.1,441 308.8,440.6 309.5,440.2 310.2,439.9 310.6,439.5 310.9,439 311.2,438.6 311.5,438.2 311.9,437.8 312.3,437.4 312.8,437.1 313.2,436.8 313.6,436.5 314.1,436.2 314.5,435.9 315,435.6 315.4,435.3 315.9,435 316.3,434.7 316.8,434.4 317.3,434.1 317.9,433.8 318.4,433.4 319,433 319.6,432.7 320.2,432.4 320.9,432.4 321.5,432.6 322.1,432.8 322.7,433 323.3,433.3 323.9,433.6 324.4,433.9 324.9,434.2 325.5,434.5 326,434.9 326.5,435.3 326.9,435.6 327.7,435.7 329.2,435.1 330.6,434.8 331.6,435 332.7,435.2 333.8,435.5 334.6,436 335.1,436.8 335.5,437.6 335.9,438.4 336.2,439.3 336.5,440.2 336.7,441.1 336.8,442 336.8,442.9 336.7,443.8 336.6,444.7 336.2,445.6 335.7,446.4 335.2,447.2 334.6,447.9 333.8,448.5 332.9,449 332,449.5 331.1,449.8 330.1,450 329,450.1 328,450.2 327.4,450.4 327.1,450.8 326.7,451.1 326.3,451.4 326,451.8 325.6,452 325.1,452.3 324.7,452.6 324.3,452.8 323.9,453.1 323.5,453.3 323,453.7 322.6,454 322.2,454.2 321.7,454.5 321.2,454.9 320.7,455.2 320.2,455.5 319.6,455.8 319,455.8 318.4,455.7 317.9,455.5 317.4,455.2 316.8,455 316.3,454.7 315.9,454.5 315.4,454.2 314.9,454 314.3,453.8 313.8,453.6 313.3,453.4 312.7,453.2 312.2,452.9 311.6,452.7 310.8,452.6 310,452.5 309.2,452.3 308.4,452 307.7,451.6 307.1,451.1 306.5,450.5 306,449.9 305.7,449.2 305.5,448.5 305.4,447.7 305.3,447 305.3,446.2 305.4,445.4Z" fill="#ff2500"/>
<path d="M306,444.7 306.2,444 306.5,443.3 307,442.7 307.6,442.2 308.3,441.7 309.1,441.3 309.9,441 310.7,440.7 311.4,440.5 311.8,440.2 312,439.8 312.3,439.4 312.6,439 312.9,438.7 313.2,438.3 313.6,438 314,437.7 314.3,437.4 314.7,437.2 315.1,436.9 315.5,436.6 315.8,436.3 316.2,435.9 316.6,435.6 317.1,435.3 317.5,435 318,434.7 318.5,434.3 319,433.9 319.6,433.5 320.2,433.2 320.8,433.2 321.4,433.4 321.9,433.7 322.5,434 323,434.4 323.4,434.7 323.9,435 324.4,435.4 324.8,435.7 325.2,436.1 325.6,436.5 325.9,436.9 326.6,436.9 328.3,436 329.6,435.7 330.7,435.7 331.8,435.8 332.9,436.1 333.7,436.5 334.2,437.3 334.6,438 334.9,438.8 335.2,439.6 335.4,440.5 335.6,441.3 335.7,442.2 335.7,443 335.7,443.9 335.5,444.7 335.1,445.5 334.7,446.3 334.2,447 333.5,447.7 332.7,448.2 331.8,448.6 330.8,449 329.9,449.3 328.9,449.4 327.8,449.4 326.8,449.3 326.2,449.5 326,449.9 325.7,450.2 325.4,450.5 325.1,450.8 324.8,451.1 324.5,451.4 324.1,451.7 323.8,451.9 323.4,452.2 323.1,452.5 322.7,452.8 322.4,453.2 322,453.5 321.5,453.8 321.1,454.3 320.6,454.7 320.1,455 319.6,455.4 319,455.5 318.5,455.3 318,455.1 317.4,454.8 317,454.6 316.5,454.3 316,454 315.6,453.7 315.1,453.5 314.6,453.3 314.1,453.1 313.6,452.9 313.1,452.7 312.6,452.4 312,452.3 311.2,452.2 310.4,452.1 309.6,452 308.8,451.7 308.1,451.3 307.5,450.9 306.9,450.3 306.4,449.8 306.2,449.1 306,448.3 305.9,447.6 305.9,446.9 305.9,446.1 305.9,445.4Z" fill="#ff1a00"/>
<path d="M306.7,444.7 306.8,444 307.2,443.4 307.8,442.8 308.5,442.3 309.2,441.9 310.1,441.6 311,441.4 311.9,441.3 312.6,441.2 313,440.9 313.2,440.5 313.4,440.2 313.6,439.9 313.9,439.5 314.1,439.2 314.4,439 314.7,438.7 315,438.4 315.4,438.2 315.7,437.9 316,437.6 316.3,437.3 316.6,436.9 317,436.6 317.3,436.3 317.7,436 318.2,435.6 318.6,435.2 319.1,434.7 319.6,434.3 320.2,434 320.7,434 321.2,434.3 321.7,434.7 322.2,435 322.6,435.4 323,435.8 323.4,436.1 323.8,436.5 324.1,436.9 324.4,437.3 324.7,437.7 324.9,438.1 325.5,438.1 327.3,437 328.7,436.5 329.8,436.5 330.9,436.5 332,436.7 332.8,437.1 333.2,437.8 333.6,438.5 333.9,439.2 334.1,440 334.3,440.7 334.5,441.5 334.6,442.3 334.6,443.1 334.5,443.9 334.4,444.7 334,445.5 333.6,446.2 333.1,446.8 332.4,447.4 331.5,447.9 330.6,448.3 329.7,448.6 328.7,448.8 327.6,448.8 326.5,448.7 325.5,448.5 325,448.6 324.9,449 324.7,449.3 324.5,449.6 324.3,449.9 324.1,450.2 323.8,450.5 323.5,450.8 323.3,451 323,451.3 322.7,451.6 322.4,452 322.1,452.4 321.8,452.8 321.4,453.2 321,453.6 320.6,454.1 320.1,454.6 319.6,455 319.1,455.1 318.5,454.9 318,454.7 317.5,454.4 317.1,454.1 316.6,453.8 316.2,453.5 315.8,453.2 315.4,453 314.9,452.8 314.4,452.7 314,452.5 313.5,452.2 313.1,452 312.5,451.8 311.7,451.8 310.9,451.8 310,451.6 309.2,451.4 308.5,451.1 307.9,450.6 307.4,450.1 306.9,449.6 306.6,448.9 306.5,448.2 306.4,447.5 306.4,446.8 306.4,446.1 306.5,445.4Z" fill="#f60b00"/>
<path d="M307.6,444.7 307.8,444.1 308.1,443.5 308.7,443 309.3,442.5 310,442.1 310.8,441.8 311.6,441.6 312.4,441.5 313.2,441.4 313.5,441.2 313.6,440.8 313.8,440.5 314.1,440.2 314.3,439.9 314.5,439.6 314.8,439.4 315.1,439.1 315.4,438.9 315.7,438.7 316,438.4 316.3,438.2 316.5,437.8 316.8,437.5 317.2,437.2 317.5,436.9 317.9,436.6 318.3,436.3 318.7,435.9 319.1,435.5 319.6,435.1 320.1,434.8 320.6,434.8 321.1,435.1 321.6,435.4 322,435.7 322.4,436.1 322.8,436.4 323.1,436.8 323.5,437.1 323.8,437.5 324,437.9 324.3,438.2 324.5,438.6 325.1,438.6 326.7,437.6 328,437.1 329,437.1 330,437.1 331.1,437.3 331.8,437.6 332.2,438.3 332.5,438.9 332.8,439.6 333,440.3 333.2,441 333.4,441.8 333.5,442.5 333.5,443.2 333.4,444 333.3,444.7 332.9,445.4 332.5,446.1 332.1,446.7 331.5,447.2 330.7,447.7 329.8,448 328.9,448.3 328,448.5 327,448.5 326,448.4 325,448.2 324.6,448.3 324.5,448.6 324.3,448.9 324.1,449.2 323.9,449.5 323.7,449.8 323.5,450.1 323.2,450.3 323,450.6 322.7,450.8 322.4,451.1 322.2,451.5 321.9,451.8 321.6,452.2 321.3,452.5 320.9,453 320.5,453.4 320.1,453.8 319.6,454.2 319.1,454.3 318.6,454.1 318.1,453.9 317.7,453.7 317.3,453.4 316.9,453.1 316.5,452.8 316.1,452.5 315.7,452.4 315.3,452.2 314.8,452.1 314.4,451.9 314,451.7 313.5,451.4 313,451.3 312.3,451.3 311.5,451.2 310.7,451.1 310,450.9 309.4,450.6 308.8,450.2 308.3,449.7 307.8,449.2 307.6,448.6 307.5,447.9 307.4,447.3 307.4,446.6 307.4,446 307.5,445.3Z" fill="#e80000"/>
<path d="M309,444.7 309.1,444.1 309.4,443.6 309.9,443.2 310.4,442.8 311.1,442.4 311.8,442.2 312.5,442 313.2,441.9 313.9,441.8 314.1,441.5 314.3,441.3 314.5,441 314.7,440.7 314.9,440.5 315.1,440.2 315.3,440 315.6,439.7 315.8,439.5 316.1,439.3 316.4,439.1 316.6,438.9 316.9,438.6 317.1,438.3 317.4,438 317.7,437.8 318.1,437.5 318.4,437.2 318.8,436.8 319.2,436.5 319.6,436.2 320.1,435.9 320.5,435.9 321,436.1 321.4,436.4 321.7,436.7 322.1,437.1 322.4,437.4 322.7,437.7 323,438 323.3,438.3 323.6,438.6 323.8,439 324,439.3 324.5,439.3 325.9,438.4 327.1,438 328,437.9 328.9,438 329.8,438.1 330.5,438.4 330.8,439 331.1,439.6 331.3,440.2 331.6,440.8 331.7,441.4 331.9,442.1 331.9,442.7 331.9,443.4 331.9,444.1 331.8,444.7 331.5,445.3 331.1,445.9 330.7,446.5 330.2,446.9 329.4,447.3 328.7,447.6 327.9,447.9 327.1,448 326.2,448.1 325.3,448 324.4,447.8 324.1,447.9 323.9,448.2 323.8,448.5 323.6,448.7 323.5,449 323.3,449.2 323.1,449.5 322.8,449.7 322.6,449.9 322.4,450.1 322.1,450.4 321.9,450.7 321.7,451 321.4,451.3 321.1,451.7 320.8,452.1 320.4,452.4 320,452.8 319.6,453.2 319.2,453.3 318.7,453.1 318.3,452.9 317.9,452.7 317.5,452.5 317.2,452.2 316.8,451.9 316.5,451.7 316.1,451.5 315.7,451.4 315.3,451.3 315,451.1 314.6,450.9 314.2,450.7 313.7,450.6 313.1,450.6 312.4,450.5 311.7,450.4 311,450.3 310.5,450 310,449.6 309.5,449.2 309.1,448.7 308.9,448.2 308.8,447.6 308.8,447 308.7,446.4 308.8,445.8 308.8,445.3Z" fill="#d60000"/>
<path d="M310.5,444.7 310.6,444.2 310.8,443.8 311.2,443.4 311.7,443 312.3,442.7 312.9,442.5 313.5,442.4 314.1,442.3 314.7,442.2 314.9,442 315.1,441.7 315.2,441.5 315.4,441.3 315.6,441.1 315.7,440.8 315.9,440.6 316.2,440.4 316.4,440.3 316.6,440.1 316.8,439.9 317.1,439.7 317.3,439.5 317.5,439.2 317.7,439 318,438.7 318.3,438.5 318.6,438.3 318.9,438 319.2,437.7 319.6,437.4 320,437.1 320.4,437.1 320.8,437.4 321.1,437.6 321.4,437.9 321.7,438.1 322,438.4 322.3,438.7 322.5,438.9 322.8,439.2 323,439.5 323.2,439.8 323.4,440.1 323.8,440.1 325,439.3 326,438.9 326.8,438.9 327.6,438.9 328.3,439 328.9,439.3 329.2,439.8 329.5,440.3 329.7,440.8 329.9,441.4 330,441.9 330.1,442.5 330.2,443 330.2,443.6 330.2,444.1 330,444.7 329.8,445.2 329.5,445.7 329.1,446.2 328.7,446.6 328,447 327.4,447.2 326.7,447.4 326,447.6 325.3,447.6 324.5,447.5 323.8,447.4 323.4,447.5 323.3,447.7 323.2,447.9 323.1,448.2 322.9,448.4 322.7,448.6 322.6,448.8 322.4,449 322.2,449.2 322,449.4 321.8,449.6 321.6,449.9 321.4,450.1 321.1,450.4 320.9,450.7 320.6,451 320.3,451.3 320,451.7 319.6,452 319.2,452 318.8,451.9 318.5,451.7 318.1,451.6 317.8,451.4 317.5,451.1 317.2,450.9 316.9,450.7 316.6,450.6 316.3,450.5 315.9,450.3 315.6,450.2 315.3,450 315,449.8 314.6,449.7 314,449.7 313.4,449.7 312.8,449.6 312.3,449.5 311.8,449.2 311.4,448.9 311,448.5 310.6,448.2 310.4,447.7 310.4,447.2 310.3,446.7 310.3,446.2 310.3,445.7 310.4,445.2Z" fill="#c80000"/>
<path d="M312.1,444.7 312.2,444.3 312.4,443.9 312.8,443.6 313.1,443.3 313.6,443.1 314.1,442.9 314.6,442.8 315.1,442.7 315.6,442.6 315.8,442.5 315.9,442.3 316,442.1 316.1,441.9 316.3,441.7 316.4,441.5 316.6,441.4 316.8,441.2 317,441.1 317.1,440.9 317.3,440.8 317.5,440.6 317.7,440.4 317.9,440.2 318.1,440 318.3,439.8 318.5,439.6 318.8,439.4 319,439.2 319.3,438.9 319.6,438.7 319.9,438.5 320.3,438.5 320.6,438.7 320.8,438.9 321.1,439.1 321.3,439.3 321.6,439.5 321.8,439.7 322,440 322.2,440.2 322.4,440.4 322.5,440.7 322.7,440.9 323,440.9 324,440.3 324.9,440 325.5,439.9 326.1,440 326.8,440 327.3,440.3 327.5,440.7 327.7,441.1 327.9,441.5 328,442 328.1,442.4 328.2,442.9 328.3,443.3 328.3,443.8 328.3,444.2 328.2,444.7 327.9,445.1 327.7,445.5 327.4,445.9 327,446.3 326.5,446.6 326,446.8 325.4,446.9 324.9,447.1 324.3,447.1 323.6,447 323,446.9 322.7,447 322.6,447.2 322.5,447.4 322.4,447.5 322.3,447.7 322.2,447.9 322,448.1 321.9,448.2 321.7,448.4 321.5,448.5 321.4,448.7 321.2,448.9 321,449.2 320.9,449.4 320.6,449.6 320.4,449.9 320.2,450.2 319.9,450.4 319.6,450.7 319.3,450.7 319,450.6 318.7,450.5 318.4,450.3 318.1,450.2 317.9,450 317.6,449.8 317.4,449.6 317.2,449.5 316.9,449.4 316.6,449.3 316.3,449.2 316.1,449.1 315.8,448.9 315.5,448.8 315,448.8 314.5,448.8 314.1,448.7 313.6,448.6 313.2,448.4 312.8,448.1 312.5,447.9 312.2,447.5 312.1,447.1 312,446.7 312,446.3 312,445.9 312,445.5 312,445.1Z" fill="#b60000"/>
<path d="M313.9,444.7 313.9,444.4 314.1,444.1 314.3,443.9 314.7,443.6 315,443.5 315.4,443.3 315.8,443.2 316.2,443.2 316.5,443.1 316.7,443 316.7,442.8 316.8,442.7 316.9,442.5 317.1,442.4 317.2,442.3 317.3,442.1 317.4,442 317.6,441.9 317.7,441.8 317.9,441.7 318,441.6 318.1,441.4 318.3,441.2 318.4,441.1 318.6,441 318.8,440.8 319,440.7 319.2,440.5 319.4,440.3 319.6,440.1 319.8,439.9 320.1,439.9 320.3,440.1 320.5,440.2 320.8,440.4 320.9,440.6 321.1,440.7 321.3,440.9 321.5,441.1 321.6,441.2 321.7,441.4 321.9,441.6 322,441.8 322.2,441.8 323,441.3 323.6,441.1 324.1,441 324.6,441.1 325.1,441.1 325.5,441.3 325.7,441.6 325.8,441.9 325.9,442.3 326.1,442.6 326.2,442.9 326.2,443.3 326.2,443.6 326.3,444 326.2,444.4 326.2,444.7 326,445 325.8,445.4 325.6,445.6 325.3,445.9 324.9,446.1 324.5,446.3 324.1,446.4 323.6,446.5 323.2,446.5 322.7,446.5 322.2,446.4 322,446.4 321.9,446.6 321.9,446.7 321.8,446.9 321.7,447 321.6,447.1 321.5,447.3 321.3,447.4 321.2,447.5 321.1,447.6 321,447.8 320.8,447.9 320.7,448.1 320.6,448.3 320.4,448.5 320.2,448.7 320,448.9 319.8,449.1 319.6,449.3 319.4,449.3 319.1,449.2 318.9,449.1 318.7,449 318.5,448.9 318.3,448.7 318.1,448.6 317.9,448.5 317.7,448.4 317.5,448.3 317.3,448.2 317.1,448.1 316.9,448 316.7,447.9 316.4,447.9 316.1,447.9 315.7,447.8 315.4,447.8 315,447.7 314.7,447.5 314.4,447.3 314.2,447.1 313.9,446.9 313.8,446.6 313.8,446.3 313.8,445.9 313.7,445.6 313.8,445.3 313.8,445Z" fill="#a40000"/>
<path d="M315.7,444.7 315.7,444.5 315.8,444.3 316,444.1 316.2,444 316.5,443.9 316.7,443.8 317,443.7 317.3,443.7 317.5,443.6 317.6,443.5 317.7,443.4 317.7,443.3 317.8,443.2 317.9,443.1 318,443.1 318,443 318.1,442.9 318.2,442.8 318.3,442.7 318.4,442.7 318.5,442.6 318.6,442.5 318.7,442.4 318.8,442.3 318.9,442.2 319,442.1 319.2,442 319.3,441.8 319.4,441.7 319.6,441.6 319.8,441.5 319.9,441.5 320.1,441.6 320.2,441.7 320.4,441.8 320.5,441.9 320.6,442 320.8,442.1 320.9,442.2 321,442.3 321,442.5 321.1,442.6 321.2,442.7 321.4,442.7 321.9,442.4 322.3,442.2 322.7,442.2 323,442.2 323.3,442.3 323.6,442.4 323.7,442.6 323.8,442.8 323.9,443 324,443.3 324.1,443.5 324.1,443.7 324.1,444 324.1,444.2 324.1,444.5 324.1,444.7 323.9,444.9 323.8,445.1 323.7,445.3 323.5,445.5 323.2,445.7 322.9,445.8 322.6,445.9 322.4,445.9 322,445.9 321.7,445.9 321.4,445.9 321.2,445.9 321.2,446 321.1,446.1 321.1,446.2 321,446.3 320.9,446.4 320.9,446.4 320.8,446.5 320.7,446.6 320.6,446.7 320.5,446.8 320.4,446.9 320.4,447 320.3,447.1 320.1,447.3 320,447.4 319.9,447.5 319.8,447.7 319.6,447.8 319.4,447.8 319.3,447.8 319.1,447.7 319,447.6 318.8,447.5 318.7,447.5 318.6,447.4 318.5,447.3 318.3,447.2 318.2,447.2 318,447.1 317.9,447 317.8,447 317.6,446.9 317.4,446.9 317.2,446.9 317,446.8 316.7,446.8 316.5,446.7 316.3,446.6 316.1,446.5 315.9,446.3 315.8,446.2 315.7,446 315.7,445.8 315.6,445.5 315.6,445.3 315.6,445.1 315.7,444.9Z" fill="#960000"/>
<path d="M317.6,444.7 317.6,444.6 317.7,444.5 317.8,444.4 317.9,444.3 318,444.3 318.1,444.2 318.3,444.2 318.4,444.2 318.5,444.2 318.6,444.1 318.6,444.1 318.6,444 318.7,444 318.7,443.9 318.8,443.9 318.8,443.8 318.9,443.8 318.9,443.7 318.9,443.7 319,443.7 319,443.6 319.1,443.6 319.1,443.5 319.2,443.5 319.3,443.4 319.3,443.4 319.4,443.3 319.4,443.2 319.5,443.2 319.6,443.1 319.7,443 319.8,443.1 319.9,443.1 319.9,443.2 320,443.2 320.1,443.3 320.1,443.3 320.2,443.4 320.2,443.4 320.3,443.5 320.3,443.6 320.4,443.6 320.4,443.7 320.5,443.7 320.8,443.5 321,443.4 321.2,443.4 321.3,443.4 321.5,443.5 321.6,443.5 321.7,443.6 321.7,443.7 321.8,443.9 321.8,444 321.9,444.1 321.9,444.2 321.9,444.3 321.9,444.5 321.9,444.6 321.9,444.7 321.8,444.8 321.7,444.9 321.7,445 321.6,445.1 321.4,445.2 321.3,445.2 321.1,445.3 321,445.3 320.8,445.3 320.7,445.3 320.5,445.3 320.4,445.3 320.4,445.4 320.4,445.4 320.4,445.5 320.3,445.5 320.3,445.5 320.2,445.6 320.2,445.6 320.2,445.7 320.1,445.7 320.1,445.8 320,445.8 320,445.9 319.9,445.9 319.9,446 319.8,446.1 319.8,446.1 319.7,446.2 319.6,446.3 319.5,446.3 319.4,446.3 319.4,446.2 319.3,446.2 319.2,446.1 319.1,446.1 319.1,446.1 319,446 319,446 318.9,446 318.8,445.9 318.7,445.9 318.7,445.9 318.6,445.8 318.5,445.8 318.4,445.8 318.3,445.8 318.1,445.8 318,445.7 317.9,445.7 317.8,445.6 317.7,445.5 317.6,445.5 317.6,445.3 317.6,445.2 317.6,445.1 317.6,445 317.6,444.9 317.6,444.8Z" fill="#840000"/>
<circle cx="319.6" cy="444.7" r="0.9" fill="#b07070"/>
<g fill="none" stroke="#000" stroke-width="1.6" stroke-dasharray="4.9 2.4">
<path d="M256.1,444.7 256,443.6 256,442.5 256.1,441.4 256.1,440.3 256.3,438.6 256.4,437.5 256.6,436.4 256.8,435.3 257.1,433.7 257.3,432.6 257.6,431.5 257.9,430.5 258.4,428.9 258.7,427.8 259.1,426.8 259.5,425.8 260.2,424.2 260.6,423.2 261.1,422.3 261.6,421.3 262.2,420.3 263,418.9 263.6,418 264.2,417.1 264.9,416.2 265.9,414.9 266.6,414.1 267.4,413.3 268.1,412.5 269.3,411.4 270.1,410.7 270.9,409.9 271.7,409.2 272.9,408.2 273.7,407.5 274.5,406.8 275.3,406.2 276.1,405.6 277.4,404.6 278.2,404 279,403.4 279.8,402.8 281.1,401.9 281.9,401.3 282.7,400.8 283.6,400.2 284.8,399.3 285.6,398.8 286.4,398.2 287.2,397.6 288.5,396.7 289.3,396.2 290.1,395.6 290.9,395 291.7,394.4 293,393.6 293.8,393 294.6,392.4 295.5,391.8 296.8,390.9 297.6,390.3 298.5,389.6 299.3,389 300.6,388 301.5,387.3 302.4,386.6 303.3,385.9 304.7,384.8 305.6,384.1 306.6,383.4 307.5,382.6 308.5,381.9 310,380.7 311.1,379.9 312.1,379.1 313.2,378.2 314.9,376.8 316,375.9 317.2,375 318.4,374 320.2,372.6 321.5,371.6 322.8,370.7 324.2,369.7 326.3,368.2 327.7,367.2 329.2,366.1 330.8,365 333.2,363.4 334.9,362.2 336.6,361.1 338.4,360 340.2,358.8 343.1,357.2 345,356.1 347,355 349.1,353.9 352.4,352.2 354.6,351.1 356.9,350.1 359.2,349.1 362.8,347.7 365.2,346.9 367.7,346.1 370.2,345.3 374.2,344.2 376.9,343.5 379.6,342.9 382.4,342.3 385.2,341.7 389.5,341.1 392.4,340.8 395.3,340.5 398.2,340.4 402.5,340.4 405.4,340.6 408.2,340.9 411,341.4 415.1,342.3 417.7,343.1 420.2,344.1 422.7,345.2 426,347.2 428,348.8 429.9,350.5 431.5,352.5 432.8,354.6 434.4,358.2 435.1,360.8 435.5,363.5 435.8,366.4 435.8,370.7 435.7,373.6 435.5,376.4 435.2,379.3 434.8,383.4 434.6,386.1 434.3,388.8 434,391.4 433.6,395.1 433.3,397.6 433.1,400 432.9,402.3 432.8,404.6 432.6,408 432.5,410.2 432.5,412.3 432.4,414.5 432.4,417.6 432.4,419.7 432.3,421.8 432.3,423.8 432.2,426.9 432.2,428.9 432.1,430.9 432,432.9 431.8,435.9 431.6,437.8 431.5,439.8 431.2,441.8 431,443.7 430.5,446.6 430.1,448.6 429.5,450.5 428.8,452.3 427.6,455.1 426.5,456.9 425.2,458.6 423.7,460.3 421,462.6 419,464 416.7,465.3 414.4,466.6 410.7,468.3 408.3,469.3 406.1,470.3 403.9,471.3 400.9,472.7 399,473.6 397.2,474.5 395.5,475.4 393.8,476.2 391.3,477.4 389.6,478.1 388,478.8 386.3,479.4 383.8,480.3 382.2,480.9 380.6,481.4 379.1,481.9 376.9,482.6 375.5,483.1 374.1,483.6 372.7,484 370.8,484.7 369.5,485.1 368.2,485.5 367,485.9 365.8,486.3 364,486.9 362.9,487.2 361.8,487.6 360.7,488 359.2,488.7 358.2,489.1 357.2,489.6 356.3,490 354.9,490.7 353.9,491.1 353,491.5 352,491.9 350.6,492.5 349.7,492.8 348.7,493.2 347.8,493.5 346.8,493.8 345.4,494.3 344.5,494.6 343.5,494.9 342.6,495.2 341.2,495.6 340.3,495.9 339.4,496.2 338.4,496.5 337.1,496.9 336.1,497.1 335.2,497.4 334.3,497.7 332.9,498.1 332,498.4 331.1,498.6 330.1,498.9 329.2,499.2 327.8,499.6 326.9,499.8 325.9,500.1 325,500.3 323.5,500.6 322.5,500.8 321.6,501 320.6,501.2 319.1,501.5 318.1,501.7 317.1,501.8 316.1,502 314.6,502.1 313.6,502.2 312.5,502.2 311.5,502.2 310,502.1 309,502.1 308,501.9 306.9,501.8 305.9,501.6 304.4,501.4 303.4,501.1 302.4,500.9 301.4,500.6 300,500.2 299,499.9 298,499.5 297,499.2 295.6,498.6 294.6,498.3 293.7,497.9 292.7,497.5 291.3,496.8 290.4,496.4 289.4,495.9 288.5,495.4 287.6,494.9 286.3,494.1 285.4,493.6 284.5,493 283.6,492.5 282.3,491.6 281.4,491 280.6,490.4 279.7,489.8 278.5,488.8 277.6,488.2 276.8,487.5 276,486.8 274.7,485.8 273.9,485.1 273.1,484.4 272.4,483.6 271.6,482.9 270.5,481.7 269.8,480.9 269.1,480.1 268.4,479.2 267.4,478 266.7,477.1 266.1,476.2 265.5,475.3 264.6,473.9 264.1,473 263.5,472 263,471.1 262.3,469.6 261.8,468.6 261.3,467.6 260.9,466.6 260.5,465.6 259.9,464.1 259.6,463 259.3,462 258.9,461 258.5,459.4 258.2,458.3 257.9,457.3 257.6,456.2 257.3,454.6 257.1,453.5 256.9,452.4 256.7,451.3 256.5,449.7 256.3,448.6 256.2,447.5 256.2,446.4Z"/>
<path d="M267.4,444.7 267.4,443.8 267.4,442.4 267.5,441.1 267.6,439.7 267.9,438.3 268.1,437.5 268.4,436.1 268.9,434.8 269.3,433.6 269.8,432.3 270.2,431.5 270.8,430.2 271.4,429 272.1,427.9 272.8,426.7 273.6,425.6 274.1,424.9 274.9,423.9 275.8,422.9 276.7,421.9 277.6,420.9 278.2,420.3 279.2,419.4 280.1,418.6 281.1,417.7 282.1,417 282.8,416.4 283.8,415.7 284.8,415 285.8,414.2 286.7,413.5 287.7,412.8 288.3,412.3 289.3,411.6 290.2,410.8 291.1,410.1 292,409.4 292.6,408.9 293.5,408.2 294.5,407.4 295.4,406.7 296.3,406 297,405.5 297.9,404.8 298.9,404.1 299.9,403.4 300.9,402.7 301.9,402 302.6,401.5 303.6,400.8 304.7,400 305.7,399.3 306.8,398.6 307.6,398.1 308.7,397.4 309.8,396.7 311,396 312.2,395.3 313,394.8 314.3,394 315.5,393.2 316.9,392.3 318.2,391.5 319.6,390.6 320.6,390 322,389.2 323.5,388.3 325.1,387.4 326.8,386.4 327.9,385.7 329.7,384.6 331.5,383.3 333.5,382 335.6,380.6 337,379.7 339.3,378.3 341.7,376.8 344.1,375.4 346.8,373.9 349.6,372.2 351.6,371 354.9,369 358.5,366.8 362.3,364.4 366.3,362.1 369.1,360.7 373.2,358.9 377.3,357.5 381.2,356.7 385.1,356.2 387.6,356.1 391.2,356.3 394.8,356.7 398.2,357.4 401.4,358.5 404.4,359.9 406.2,361.1 408.7,363.1 410.7,365.5 412.3,368.3 413.4,371.5 413.8,373.7 414.1,377.3 414.1,381 413.8,384.7 413.4,388.4 413.1,390.7 412.7,394.2 412.3,397.5 412.1,400.6 412,403.6 411.9,406.5 411.9,408.4 411.8,411.1 411.8,413.9 411.7,416.6 411.5,419.2 411.3,421 411,423.6 410.6,426.2 410,428.8 409.3,431.3 408.8,433 407.8,435.4 406.8,437.8 405.7,440.2 404.6,442.5 403.5,444.7 402.7,446.2 401.6,448.3 400.5,450.4 399.3,452.4 398.1,454.3 397.1,455.6 395.6,457.4 394,459.2 392.2,460.8 390.2,462.3 388.9,463.3 386.7,464.6 384.5,465.8 382.2,466.9 379.9,467.8 377.6,468.7 376.2,469.3 374,470.1 372,470.8 370,471.5 368.1,472.2 366.9,472.6 365.2,473.2 363.6,473.8 362.1,474.4 360.7,475.1 359.8,475.5 358.5,476.2 357.3,476.9 356.2,477.6 355,478.3 353.9,479 353.2,479.5 352.1,480.1 350.9,480.8 349.8,481.4 348.7,481.9 347.9,482.3 346.7,482.7 345.5,483.2 344.4,483.6 343.2,483.9 342.4,484.2 341.2,484.5 340.1,484.9 338.9,485.2 337.8,485.6 336.7,485.9 335.9,486.1 334.8,486.4 333.7,486.7 332.5,487 331.4,487.3 330.7,487.5 329.5,487.7 328.4,488 327.3,488.2 326.1,488.3 325.4,488.5 324.2,488.6 323.1,488.8 321.9,488.9 320.8,489.1 319.6,489.3 318.8,489.4 317.6,489.6 316.4,489.8 315.2,489.9 314,490 313.2,490.1 312,490.1 310.8,490 309.6,489.9 308.4,489.7 307.6,489.6 306.4,489.3 305.2,489 304,488.6 302.9,488.2 301.7,487.8 301,487.5 299.8,487.1 298.7,486.6 297.6,486.1 296.5,485.6 295.7,485.2 294.6,484.7 293.5,484.1 292.4,483.5 291.4,482.9 290.6,482.4 289.6,481.8 288.5,481.1 287.4,480.5 286.3,479.8 285.2,479.1 284.5,478.6 283.5,477.8 282.5,477 281.5,476.1 280.5,475.2 279.9,474.6 279,473.7 278.1,472.7 277.2,471.7 276.4,470.6 275.9,469.9 275.1,468.8 274.4,467.7 273.7,466.6 273.1,465.4 272.5,464.2 272.2,463.4 271.7,462.2 271.2,460.9 270.7,459.7 270.2,458.4 270,457.5 269.5,456.3 269.2,455 268.8,453.7 268.5,452.3 268.3,451.5 268.1,450.1 267.8,448.8 267.7,447.4 267.5,446.1Z"/>
<path d="M275.5,444.7 275.5,443.5 275.6,442.4 275.8,440.9 276.1,439.7 276.5,438.3 276.9,437.2 277.5,435.8 278,434.7 278.5,433.7 279.2,432.3 279.8,431.4 280.6,430.1 281.2,429.2 282.1,428 282.8,427.1 283.5,426.3 284.5,425.2 285.2,424.4 286.2,423.4 287,422.7 288.1,421.8 288.9,421.1 289.7,420.5 290.8,419.7 291.6,419.1 292.7,418.3 293.5,417.7 294.6,417 295.4,416.4 296.2,415.8 297.3,415.1 298.1,414.6 299.2,413.8 300,413.3 301,412.6 301.8,412 302.7,411.5 303.8,410.8 304.6,410.2 305.7,409.5 306.6,409 307.8,408.3 308.7,407.7 309.5,407.2 310.8,406.5 311.7,405.9 313,405.2 314,404.6 315.3,403.8 316.3,403.1 317.4,402.4 318.8,401.5 320,400.9 321.6,400 322.8,399.4 324.4,398.6 325.8,397.9 327.1,397.2 329,396.1 330.5,395.4 332.6,394.3 334.3,393.4 336.6,392.3 338.4,391.5 340.3,390.6 343,389.5 345.2,388.5 348.3,387.1 350.9,385.8 354.8,383.8 358,382 361.7,379.9 366.9,377.2 370.9,375.3 376.2,373.6 379.7,373 383.9,373.3 386.5,374.2 388.6,375.7 390.9,378.3 392.1,380.6 393.3,383.9 394,386.6 394.6,390.2 395,392.9 395.3,395.5 395.7,399 395.9,401.5 396.2,404.8 396.4,407.2 396.6,410.4 396.7,412.7 396.8,415.1 396.8,418.1 396.7,420.4 396.5,423.4 396.3,425.6 395.9,428.5 395.5,430.6 395.1,432.7 394.4,435.5 393.8,437.6 393,440.2 392.2,442.2 391,444.7 389.9,446.5 388.7,448.3 386.7,450.6 385.1,452.2 382.8,454.1 380.9,455.5 378.2,457.2 376.2,458.3 374.3,459.3 371.6,460.6 369.7,461.5 367.3,462.5 365.6,463.3 363.4,464.2 362,464.9 360.6,465.6 359,466.5 357.9,467.3 356.5,468.2 355.6,469 354.3,469.9 353.3,470.6 352.4,471.3 351.1,472.1 350.2,472.7 348.8,473.4 347.8,473.9 346.5,474.5 345.4,474.9 344.4,475.3 343,475.7 341.9,476 340.6,476.4 339.6,476.7 338.3,477.1 337.3,477.4 336.4,477.6 335.1,478 334.2,478.3 333,478.6 332,478.9 330.8,479.2 329.9,479.4 328.9,479.6 327.7,479.8 326.8,480 325.6,480.3 324.6,480.5 323.4,480.7 322.5,480.9 321.5,481.2 320.2,481.5 319.3,481.7 318,482.1 317,482.4 315.6,482.8 314.5,483.1 313.5,483.4 312,483.7 310.9,483.9 309.4,484.1 308.3,484.1 306.8,484 305.8,483.8 304.7,483.6 303.3,483.2 302.2,482.8 300.9,482.3 299.9,481.8 298.6,481.1 297.6,480.6 296.7,480 295.4,479.2 294.5,478.6 293.3,477.8 292.4,477.1 291.3,476.2 290.4,475.4 289.6,474.7 288.5,473.7 287.7,472.9 286.7,471.8 285.9,471 285,469.9 284.3,469 283.6,468.1 282.7,466.8 282.1,465.9 281.4,464.6 280.8,463.6 280.2,462.3 279.7,461.2 279.3,460.2 278.7,458.8 278.3,457.7 277.8,456.3 277.5,455.2 277.1,453.7 276.8,452.6 276.5,451.5 276.2,450 276,448.9 275.7,447.4 275.6,446.2Z"/>
<path d="M281.9,444.7 281.9,443.4 282.1,442.1 282.4,440.8 282.8,439.5 283.3,438.3 284,436.8 284.7,435.7 285.3,434.5 286,433.5 286.8,432.4 287.7,431.2 288.5,430.2 289.3,429.2 290,428.3 290.8,427.4 291.6,426.5 292.6,425.4 293.4,424.6 294.3,423.8 295.2,423.1 296.1,422.4 297.2,421.5 298.1,420.9 299,420.2 300,419.6 300.9,418.9 302,418.2 303,417.5 303.9,417 304.8,416.4 305.8,415.8 306.8,415.2 308,414.4 309,413.8 310,413.2 311,412.5 312,411.8 313.3,411 314.4,410.2 315.6,409.5 316.8,408.8 318,408.1 319.6,407.4 320.9,406.8 322.3,406.3 323.7,405.8 325.1,405.4 326.6,405 328.5,404.5 330.1,404 331.8,403.6 333.5,403.1 335.3,402.6 337.7,401.9 339.8,401.4 341.9,400.9 344.2,400.4 346.5,400 348.8,399.7 351.8,399.6 354.1,399.7 356.6,399.8 359.2,400 362,400 365.8,400.1 368.9,400.3 372.1,400.7 375,401.4 377.7,402.5 380.6,404.3 382.4,406.2 383.8,408.4 384.8,410.7 385.6,413.2 386.1,415.8 386.4,419 386.5,421.7 386.4,424.3 386,426.9 385.5,429.5 384.5,432.7 383.4,435.2 382.1,437.6 380.6,439.9 378.9,442.1 376.6,444.7 374.7,446.6 372.8,448.4 371,450.1 369,451.6 367.1,453.1 364.8,454.7 363,455.9 361.3,457.1 359.7,458.1 358.3,459.2 356.7,460.4 355.4,461.4 354.2,462.3 353,463.2 351.8,464 350.6,464.8 349.1,465.8 348,466.5 346.8,467.1 345.6,467.7 344.5,468.3 343,469 341.9,469.5 340.8,469.9 339.6,470.4 338.5,470.8 337.2,471.3 336.1,471.6 335,472 334,472.3 332.9,472.6 331.8,472.8 330.5,473.2 329.5,473.5 328.5,473.8 327.5,474.1 326.4,474.3 325.2,474.7 324.1,475 323.1,475.2 322,475.5 321,475.9 319.6,476.4 318.5,476.8 317.3,477.3 316.1,477.8 314.9,478.1 313.7,478.3 312.1,478.4 310.9,478.4 309.7,478.2 308.5,477.9 307.3,477.6 305.9,477 304.8,476.5 303.6,476 302.6,475.4 301.5,474.8 300.5,474.1 299.2,473.3 298.2,472.5 297.3,471.8 296.3,471 295.4,470.2 294.2,469.2 293.4,468.3 292.5,467.5 291.6,466.6 290.8,465.6 289.8,464.4 289,463.4 288.3,462.4 287.6,461.4 286.9,460.3 286.3,459.2 285.5,457.8 285,456.6 284.5,455.4 284,454.2 283.6,453 283.1,451.5 282.7,450.2 282.4,448.9 282.2,447.6 282,446.3Z"/>
<path d="M287,444.7 286.9,443.3 286.9,441.8 287.1,440.4 287.6,439 288.1,437.7 288.8,436.5 289.7,435 290.5,433.8 291.4,432.7 292.2,431.6 293.1,430.6 294,429.6 295,428.7 296.2,427.7 297.2,426.9 298.2,426.1 299.3,425.4 300.3,424.7 301.3,424.1 302.4,423.4 303.6,422.7 304.7,422.1 305.7,421.5 306.7,421 307.8,420.4 308.8,419.8 309.8,419.2 311.1,418.5 312.2,417.9 313.3,417.3 314.4,416.7 315.6,416.1 316.8,415.5 318,414.9 319.6,414.2 321,413.6 322.4,413 323.8,412.5 325.4,411.9 327,411.4 328.6,411 330.7,410.5 332.5,410.1 334.4,409.9 336.3,409.7 338.3,409.6 340.3,409.5 342.5,409.5 345.2,409.5 347.5,409.7 349.8,410 352,410.6 354,411.4 356.1,412.4 358,413.6 360.3,415.2 362,416.6 363.7,418.2 365.1,420 366.2,422 367.1,424.1 367.7,426.2 368.1,428.9 368.2,431.2 368,433.5 367.5,435.8 366.8,438.1 365.9,440.2 364.8,442.3 363.2,444.7 361.8,446.5 360.3,448.3 359,449.9 357.6,451.4 356.3,452.8 355.1,454.2 353.6,455.7 352.4,457 351.1,458.1 349.9,459.2 348.6,460.1 347.4,461.1 346.1,461.9 344.7,462.9 343.4,463.7 342.2,464.4 341,465 339.8,465.7 338.7,466.2 337.5,466.8 336,467.3 334.9,467.8 333.7,468.1 332.5,468.4 331.3,468.7 330.2,469.1 329.1,469.4 327.7,469.8 326.6,470.1 325.5,470.4 324.4,470.7 323.3,470.9 322.1,471.1 321,471.4 319.6,471.7 318.4,472.1 317.2,472.4 315.9,472.7 314.6,472.9 313.3,472.9 312.1,472.8 310.5,472.6 309.3,472.2 308.1,471.8 306.9,471.3 305.8,470.7 304.6,470.1 303.5,469.4 302.3,468.5 301.2,467.8 300.2,467 299.3,466.1 298.3,465.3 297.4,464.4 296.5,463.4 295.4,462.3 294.6,461.2 293.8,460.2 293,459.1 292.3,458 291.5,456.9 290.8,455.8 290,454.3 289.4,453.1 288.8,451.8 288.3,450.5 287.9,449.2 287.5,447.8 287.2,446.4Z"/>
<path d="M292.2,444.7 292.1,443.3 292.2,441.8 292.5,440.4 293.1,439.1 293.9,437.8 294.8,436.6 295.6,435.5 296.4,434.4 297.2,433.3 298.2,432.3 299.1,431.4 300.1,430.6 301.2,429.8 302.2,429 303.3,428.4 304.3,427.7 305.4,427.2 306.5,426.6 307.5,426.1 308.6,425.6 309.6,425.1 310.7,424.6 311.7,424.1 312.7,423.6 313.8,423 314.8,422.3 315.9,421.6 317.1,420.9 318.3,420.3 319.6,419.7 320.9,419.2 322.3,418.8 323.8,418.4 325.3,418.1 326.8,417.7 328.5,417.4 330.2,417.1 332,416.8 333.9,416.7 335.8,416.6 337.8,416.7 339.9,416.8 342,417 344.2,417.3 346.5,417.8 348.8,418.4 350.8,419.4 352.6,420.7 354.1,422.3 355.3,424.1 356.2,426 356.9,428.1 357.3,430.2 357.4,432.4 357.3,434.6 357.2,436.7 356.9,438.8 356.6,440.8 356.3,442.8 355.8,444.7 355.2,446.6 354.4,448.4 353.4,450.1 352.1,451.6 350.7,453 349.3,454.3 347.8,455.5 346.4,456.6 345.1,457.7 343.8,458.7 342.4,459.5 341.1,460.3 339.8,461.1 338.5,461.7 337.3,462.4 336,462.9 334.7,463.4 333.5,463.8 332.2,464.2 331,464.5 329.9,464.9 328.7,465.2 327.6,465.6 326.5,466 325.4,466.4 324.3,466.7 323.1,466.9 322,467.1 320.8,467.3 319.6,467.5 318.4,467.7 317.2,467.9 315.9,468.1 314.6,468.2 313.3,468.1 312.1,467.9 310.8,467.5 309.6,467.1 308.5,466.5 307.3,465.9 306.2,465.3 305.2,464.5 304.2,463.7 303.2,462.9 302.3,462 301.3,461.1 300.5,460.2 299.6,459.2 298.8,458.2 298,457.2 297.2,456.1 296.4,455 295.7,453.9 295,452.7 294.4,451.5 293.8,450.2 293.3,448.9 292.9,447.5 292.5,446.1Z"/>
<path d="M297.4,444.7 297.2,443.5 297.2,442.3 297.3,441.2 297.6,440 298.2,439 298.9,438 299.8,437.1 300.7,436.3 301.6,435.5 302.5,434.8 303.4,434.2 304.3,433.6 305.2,433 306.1,432.5 306.9,432 307.8,431.6 308.6,431.2 309.5,430.8 310.3,430.4 311.1,430 311.9,429.6 312.7,429.1 313.4,428.6 314.2,428 314.9,427.3 315.7,426.6 316.6,425.8 317.5,425.1 318.5,424.4 319.6,423.9 320.7,423.4 321.9,423.2 323,423 324.2,423 325.4,423 326.7,422.9 328,422.8 329.4,422.8 330.8,422.7 332.3,422.7 333.8,422.8 335.4,422.9 337,423.2 338.6,423.6 340.2,424.1 341.8,424.7 343.5,425.3 345.2,426.1 347,426.9 348.6,428 350,429.2 351.1,430.7 351.9,432.3 352.5,434 352.8,435.8 352.8,437.6 352.7,439.5 352.5,441.2 352.2,443 351.9,444.7 351.4,446.4 350.8,448 350,449.5 349,450.9 347.7,452.2 346.2,453.3 344.6,454.3 343,455.1 341.5,455.8 340,456.5 338.7,457.1 337.5,457.7 336.3,458.3 335.3,458.8 334.2,459.3 333.2,459.8 332.2,460.3 331.2,460.7 330.2,461 329.2,461.3 328.2,461.6 327.3,462 326.3,462.3 325.4,462.6 324.5,462.9 323.5,463.1 322.5,463.3 321.6,463.4 320.6,463.5 319.6,463.6 318.6,463.7 317.6,463.7 316.6,463.7 315.6,463.7 314.6,463.5 313.6,463.3 312.6,463 311.6,462.6 310.7,462.2 309.8,461.6 309,461.1 308.1,460.5 307.3,459.9 306.5,459.2 305.8,458.5 305,457.8 304.3,457.1 303.6,456.3 302.9,455.5 302.2,454.7 301.6,453.9 301,453 300.4,452.1 299.8,451.1 299.3,450.1 298.8,449.1 298.4,448.1 298,447 297.7,445.8Z"/>
<path d="M302.2,444.7 302.2,443.8 302.2,442.9 302.3,442 302.4,441 302.6,440.1 302.8,439.2 303,438.3 303.3,437.5 303.7,436.6 304.2,435.8 304.7,435 305.3,434.3 306,433.7 306.8,433.2 307.5,432.6 308.3,432.2 309.1,431.7 309.9,431.4 310.7,431 311.5,430.6 312.3,430.3 313.1,430 313.9,429.8 314.7,429.5 315.5,429.3 316.3,429.1 317.1,428.9 317.9,428.7 318.8,428.5 319.6,428.4 320.5,428.2 321.3,428.1 322.3,427.9 323.2,427.8 324.1,427.8 325.1,427.8 326.1,427.8 327.1,427.9 328.1,428.1 329.1,428.3 330.1,428.5 331.2,428.8 332.3,429.1 333.4,429.4 334.5,429.8 335.6,430.3 336.6,430.9 337.6,431.6 338.5,432.4 339.4,433.3 340.1,434.2 340.8,435.3 341.3,436.4 341.8,437.5 342.1,438.7 342.4,439.9 342.6,441.1 342.6,442.3 342.6,443.5 342.4,444.7 342,445.9 341.5,447 341,448.1 340.4,449.1 339.7,450.1 338.9,451 338.2,451.8 337.4,452.6 336.5,453.3 335.7,454 334.8,454.6 333.9,455.1 333,455.6 332.2,456 331.3,456.4 330.4,456.7 329.5,457 328.7,457.2 327.9,457.4 327.1,457.7 326.3,457.8 325.5,458 324.7,458.1 324,458.1 323.2,458.2 322.5,458.2 321.7,458.1 321,458.1 320.3,458 319.6,457.9 318.9,457.8 318.2,457.7 317.6,457.6 316.9,457.5 316.2,457.4 315.5,457.2 314.9,457 314.2,456.8 313.5,456.6 312.8,456.4 312.1,456.2 311.4,455.9 310.7,455.7 310,455.4 309.3,455 308.5,454.7 307.7,454.3 306.9,453.9 306.1,453.4 305.4,452.9 304.8,452.2 304.3,451.5 303.8,450.8 303.3,450 302.9,449.2 302.6,448.3 302.4,447.4 302.3,446.5 302.2,445.6Z"/>
<path d="M306.7,444.7 306.8,444 307.2,443.4 307.8,442.8 308.5,442.3 309.2,441.9 310.1,441.6 311,441.4 311.9,441.3 312.6,441.2 313,440.9 313.2,440.5 313.4,440.2 313.6,439.9 313.9,439.5 314.1,439.2 314.4,439 314.7,438.7 315,438.4 315.4,438.2 315.7,437.9 316,437.6 316.3,437.3 316.6,436.9 317,436.6 317.3,436.3 317.7,436 318.2,435.6 318.6,435.2 319.1,434.7 319.6,434.3 320.2,434 320.7,434 321.2,434.3 321.7,434.7 322.2,435 322.6,435.4 323,435.8 323.4,436.1 323.8,436.5 324.1,436.9 324.4,437.3 324.7,437.7 324.9,438.1 325.5,438.1 327.3,437 328.7,436.5 329.8,436.5 330.9,436.5 332,436.7 332.8,437.1 333.2,437.8 333.6,438.5 333.9,439.2 334.1,440 334.3,440.7 334.5,441.5 334.6,442.3 334.6,443.1 334.5,443.9 334.4,444.7 334,445.5 333.6,446.2 333.1,446.8 332.4,447.4 331.5,447.9 330.6,448.3 329.7,448.6 328.7,448.8 327.6,448.8 326.5,448.7 325.5,448.5 325,448.6 324.9,449 324.7,449.3 324.5,449.6 324.3,449.9 324.1,450.2 323.8,450.5 323.5,450.8 323.3,451 323,451.3 322.7,451.6 322.4,452 322.1,452.4 321.8,452.8 321.4,453.2 321,453.6 320.6,454.1 320.1,454.6 319.6,455 319.1,455.1 318.5,454.9 318,454.7 317.5,454.4 317.1,454.1 316.6,453.8 316.2,453.5 315.8,453.2 315.4,453 314.9,452.8 314.4,452.7 314,452.5 313.5,452.2 313.1,452 312.5,451.8 311.7,451.8 310.9,451.8 310,451.6 309.2,451.4 308.5,451.1 307.9,450.6 307.4,450.1 306.9,449.6 306.6,448.9 306.5,448.2 306.4,447.5 306.4,446.8 306.4,446.1 306.5,445.4Z"/>
</g></g>
<rect x="235.40" y="324.90" width="213.20" height="203.60" fill="none" stroke="#000" stroke-width="1.26"/>
<path d="M269.00,528.50 v5.50 M381.00,528.50 v5.50" stroke="#000" stroke-width="1.26"/>
<path d="M235.28,528.50 v3.10 M244.15,528.50 v3.10 M251.65,528.50 v3.10 M258.15,528.50 v3.10 M263.88,528.50 v3.10 M302.72,528.50 v3.10 M322.44,528.50 v3.10 M336.43,528.50 v3.10 M347.28,528.50 v3.10 M356.15,528.50 v3.10 M363.65,528.50 v3.10 M370.15,528.50 v3.10 M375.88,528.50 v3.10 M414.72,528.50 v3.10 M434.44,528.50 v3.10 M448.43,528.50 v3.10" stroke="#000" stroke-width="0.94"/>
<path d="M235.40,528.50 h-5.50 M235.40,454.20 h-5.50 M235.40,379.90 h-5.50" stroke="#000" stroke-width="1.26"/>
<path d="M235.40,506.13 h-3.10 M235.40,493.05 h-3.10 M235.40,483.77 h-3.10 M235.40,476.57 h-3.10 M235.40,470.68 h-3.10 M235.40,465.71 h-3.10 M235.40,461.40 h-3.10 M235.40,457.60 h-3.10 M235.40,431.83 h-3.10 M235.40,418.75 h-3.10 M235.40,409.47 h-3.10 M235.40,402.27 h-3.10 M235.40,396.38 h-3.10 M235.40,391.41 h-3.10 M235.40,387.10 h-3.10 M235.40,383.30 h-3.10 M235.40,357.53 h-3.10 M235.40,344.45 h-3.10 M235.40,335.17 h-3.10 M235.40,327.97 h-3.10" stroke="#000" stroke-width="0.94"/>
<text x="222.3" y="534.80" text-anchor="end">10<tspan dy="-7" font-size="12.8">0</tspan></text>
<text x="222.3" y="460.50" text-anchor="end">10<tspan dy="-7" font-size="12.8">1</tspan></text>
<text x="222.3" y="386.20" text-anchor="end">10<tspan dy="-7" font-size="12.8">2</tspan></text>
<text x="379.30" y="558.60" text-anchor="middle">10<tspan dy="-7" font-size="12.8">0</tspan></text>
<text x="251.2" y="558.6">10</text>
<path d="M269.1,548.3H277" stroke="#222" stroke-width="0.95"/>
<text x="278.2" y="551.6" font-size="12.8">1</text>
<text x="323.6" y="580.1" font-style="italic">λ</text>
<text x="332.6" y="582.9" font-style="italic" font-size="12.8">z</text>
<path d="M341.3,584.0 L347.9,567.1" stroke="#1a1a1a" stroke-width="0.95"/>
<text x="350.0" y="580.3" font-style="italic">h</text>
<text transform="translate(190.3,432.2) rotate(-90)" text-anchor="middle" font-style="italic">y</text>
<path d="M175.55,422.50h8.30M179.70,418.25v8.50" stroke="#2a2a2a" stroke-width="0.8"/>
<text x="163.80" y="314.00"><tspan font-size="20.5">(</tspan>c<tspan font-size="20.5">)</tspan></text>
<defs><linearGradient id="jg" x1="0" y1="1" x2="0" y2="0"><stop offset="0.00" stop-color="#000080"/><stop offset="0.03" stop-color="#0000a4"/><stop offset="0.06" stop-color="#0000c8"/><stop offset="0.09" stop-color="#0000ed"/><stop offset="0.12" stop-color="#0000ff"/><stop offset="0.16" stop-color="#0020ff"/><stop offset="0.19" stop-color="#0040ff"/><stop offset="0.22" stop-color="#0060ff"/><stop offset="0.25" stop-color="#0080ff"/><stop offset="0.28" stop-color="#00a0ff"/><stop offset="0.31" stop-color="#00c0ff"/><stop offset="0.34" stop-color="#00e0fb"/><stop offset="0.38" stop-color="#16ffe1"/><stop offset="0.41" stop-color="#30ffc7"/><stop offset="0.44" stop-color="#49ffad"/><stop offset="0.47" stop-color="#63ff94"/><stop offset="0.50" stop-color="#7dff7a"/><stop offset="0.53" stop-color="#97ff60"/><stop offset="0.56" stop-color="#b1ff46"/><stop offset="0.59" stop-color="#caff2c"/><stop offset="0.62" stop-color="#e4ff13"/><stop offset="0.66" stop-color="#feed00"/><stop offset="0.69" stop-color="#ffd000"/><stop offset="0.72" stop-color="#ffb200"/><stop offset="0.75" stop-color="#ff9400"/><stop offset="0.78" stop-color="#ff7700"/><stop offset="0.81" stop-color="#ff5900"/><stop offset="0.84" stop-color="#ff3b00"/><stop offset="0.88" stop-color="#ff1e00"/><stop offset="0.91" stop-color="#e80000"/><stop offset="0.94" stop-color="#c40000"/><stop offset="0.97" stop-color="#9f0000"/><stop offset="1.00" stop-color="#800000"/></linearGradient></defs>
<rect x="461.60" y="324.90" width="10.60" height="203.60" fill="url(#jg)" stroke="#222" stroke-width="1.26"/>
<path d="M472.20,528.50 h5.5 M472.20,505.88 h5.5 M472.20,483.26 h5.5 M472.20,460.64 h5.5 M472.20,438.02 h5.5 M472.20,415.40 h5.5 M472.20,392.78 h5.5 M472.20,370.16 h5.5 M472.20,347.54 h5.5 M472.20,324.92 h5.5" stroke="#000" stroke-width="1.26"/>
<text x="482.80" y="534.10" font-size="17" textLength="23.0" lengthAdjust="spacingAndGlyphs">0.1</text>
<text x="482.80" y="511.48" font-size="17" textLength="23.0" lengthAdjust="spacingAndGlyphs">0.2</text>
<text x="482.80" y="488.86" font-size="17" textLength="23.0" lengthAdjust="spacingAndGlyphs">0.3</text>
<text x="482.80" y="466.24" font-size="17" textLength="23.0" lengthAdjust="spacingAndGlyphs">0.4</text>
<text x="482.80" y="443.62" font-size="17" textLength="23.0" lengthAdjust="spacingAndGlyphs">0.5</text>
<text x="482.80" y="421.00" font-size="17" textLength="23.0" lengthAdjust="spacingAndGlyphs">0.6</text>
<text x="482.80" y="398.38" font-size="17" textLength="23.0" lengthAdjust="spacingAndGlyphs">0.7</text>
<text x="482.80" y="375.76" font-size="17" textLength="23.0" lengthAdjust="spacingAndGlyphs">0.8</text>
<text x="482.80" y="353.14" font-size="17" textLength="23.0" lengthAdjust="spacingAndGlyphs">0.9</text>
<text x="482.00" y="330.52" font-size="17" textLength="23.0" lengthAdjust="spacingAndGlyphs">1.0</text>
</svg></body></html>
